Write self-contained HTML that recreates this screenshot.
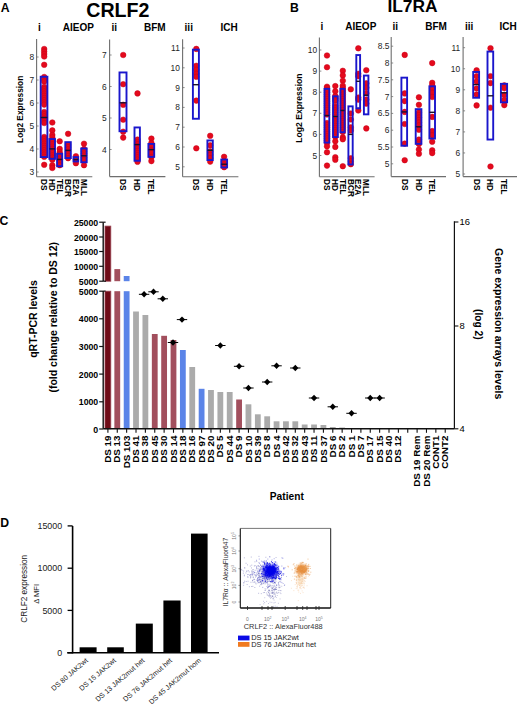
<!DOCTYPE html>
<html><head><meta charset="utf-8"><style>
html,body{margin:0;padding:0;background:#fff;}
body{width:520px;height:704px;overflow:hidden;font-family:"Liberation Sans",sans-serif;}
svg{display:block;}
</style></head><body>
<svg width="520" height="704" viewBox="0 0 520 704">
<defs><filter id="fb" x="-10%" y="-10%" width="120%" height="120%"><feGaussianBlur stdDeviation="0.8"/></filter><filter id="gb" x="0" y="0" width="520" height="704" filterUnits="userSpaceOnUse"><feGaussianBlur stdDeviation="0.75"/></filter></defs>
<rect width="520" height="704" fill="#fff"/>
<line x1="36.6" y1="39" x2="36.6" y2="176.7" stroke="#6e6e6e" stroke-width="1.1"/>
<line x1="36.6" y1="176.7" x2="92.3" y2="176.7" stroke="#6e6e6e" stroke-width="1.1"/>
<line x1="36.6" y1="172.00" x2="38.6" y2="172.00" stroke="#6e6e6e" stroke-width="0.8"/>
<text x="34.20" y="175.05" font-size="8.4" font-family="Liberation Sans, sans-serif" text-anchor="end" fill="#1e1e1e" >3</text>
<line x1="36.6" y1="149.00" x2="38.6" y2="149.00" stroke="#6e6e6e" stroke-width="0.8"/>
<text x="34.20" y="152.05" font-size="8.4" font-family="Liberation Sans, sans-serif" text-anchor="end" fill="#1e1e1e" >4</text>
<line x1="36.6" y1="126.00" x2="38.6" y2="126.00" stroke="#6e6e6e" stroke-width="0.8"/>
<text x="34.20" y="129.05" font-size="8.4" font-family="Liberation Sans, sans-serif" text-anchor="end" fill="#1e1e1e" >5</text>
<line x1="36.6" y1="103.00" x2="38.6" y2="103.00" stroke="#6e6e6e" stroke-width="0.8"/>
<text x="34.20" y="106.05" font-size="8.4" font-family="Liberation Sans, sans-serif" text-anchor="end" fill="#1e1e1e" >6</text>
<line x1="36.6" y1="80.00" x2="38.6" y2="80.00" stroke="#6e6e6e" stroke-width="0.8"/>
<text x="34.20" y="83.05" font-size="8.4" font-family="Liberation Sans, sans-serif" text-anchor="end" fill="#1e1e1e" >7</text>
<line x1="36.6" y1="57.00" x2="38.6" y2="57.00" stroke="#6e6e6e" stroke-width="0.8"/>
<text x="34.20" y="60.05" font-size="8.4" font-family="Liberation Sans, sans-serif" text-anchor="end" fill="#1e1e1e" >8</text>
<circle cx="44.20" cy="49.00" r="2.8" fill="#e40a1c" stroke="#c8001a" stroke-width="0.5"/>
<circle cx="44.20" cy="51.50" r="2.8" fill="#e40a1c" stroke="#c8001a" stroke-width="0.5"/>
<circle cx="44.20" cy="54.00" r="2.8" fill="#e40a1c" stroke="#c8001a" stroke-width="0.5"/>
<circle cx="44.20" cy="56.50" r="2.8" fill="#e40a1c" stroke="#c8001a" stroke-width="0.5"/>
<circle cx="44.20" cy="64.80" r="2.8" fill="#e40a1c" stroke="#c8001a" stroke-width="0.5"/>
<circle cx="44.20" cy="77.00" r="2.8" fill="#e40a1c" stroke="#c8001a" stroke-width="0.5"/>
<circle cx="44.20" cy="79.20" r="2.8" fill="#e40a1c" stroke="#c8001a" stroke-width="0.5"/>
<circle cx="44.20" cy="81.40" r="2.8" fill="#e40a1c" stroke="#c8001a" stroke-width="0.5"/>
<circle cx="44.20" cy="87.00" r="2.8" fill="#e40a1c" stroke="#c8001a" stroke-width="0.5"/>
<circle cx="44.20" cy="89.20" r="2.8" fill="#e40a1c" stroke="#c8001a" stroke-width="0.5"/>
<circle cx="44.20" cy="91.40" r="2.8" fill="#e40a1c" stroke="#c8001a" stroke-width="0.5"/>
<circle cx="44.20" cy="93.60" r="2.8" fill="#e40a1c" stroke="#c8001a" stroke-width="0.5"/>
<circle cx="44.20" cy="95.80" r="2.8" fill="#e40a1c" stroke="#c8001a" stroke-width="0.5"/>
<circle cx="44.20" cy="98.00" r="2.8" fill="#e40a1c" stroke="#c8001a" stroke-width="0.5"/>
<circle cx="44.20" cy="100.20" r="2.8" fill="#e40a1c" stroke="#c8001a" stroke-width="0.5"/>
<circle cx="44.20" cy="102.40" r="2.8" fill="#e40a1c" stroke="#c8001a" stroke-width="0.5"/>
<circle cx="44.20" cy="104.60" r="2.8" fill="#e40a1c" stroke="#c8001a" stroke-width="0.5"/>
<circle cx="44.20" cy="112.00" r="2.8" fill="#e40a1c" stroke="#c8001a" stroke-width="0.5"/>
<circle cx="44.20" cy="114.20" r="2.8" fill="#e40a1c" stroke="#c8001a" stroke-width="0.5"/>
<circle cx="44.20" cy="116.40" r="2.8" fill="#e40a1c" stroke="#c8001a" stroke-width="0.5"/>
<circle cx="44.20" cy="118.60" r="2.8" fill="#e40a1c" stroke="#c8001a" stroke-width="0.5"/>
<circle cx="44.20" cy="120.80" r="2.8" fill="#e40a1c" stroke="#c8001a" stroke-width="0.5"/>
<circle cx="44.20" cy="123.00" r="2.8" fill="#e40a1c" stroke="#c8001a" stroke-width="0.5"/>
<circle cx="44.20" cy="137.00" r="2.8" fill="#e40a1c" stroke="#c8001a" stroke-width="0.5"/>
<circle cx="44.20" cy="139.20" r="2.8" fill="#e40a1c" stroke="#c8001a" stroke-width="0.5"/>
<circle cx="44.20" cy="141.40" r="2.8" fill="#e40a1c" stroke="#c8001a" stroke-width="0.5"/>
<circle cx="44.20" cy="143.60" r="2.8" fill="#e40a1c" stroke="#c8001a" stroke-width="0.5"/>
<circle cx="44.20" cy="145.80" r="2.8" fill="#e40a1c" stroke="#c8001a" stroke-width="0.5"/>
<circle cx="44.20" cy="148.00" r="2.8" fill="#e40a1c" stroke="#c8001a" stroke-width="0.5"/>
<circle cx="44.20" cy="150.20" r="2.8" fill="#e40a1c" stroke="#c8001a" stroke-width="0.5"/>
<circle cx="44.20" cy="152.40" r="2.8" fill="#e40a1c" stroke="#c8001a" stroke-width="0.5"/>
<circle cx="44.20" cy="154.60" r="2.8" fill="#e40a1c" stroke="#c8001a" stroke-width="0.5"/>
<circle cx="44.20" cy="156.80" r="2.8" fill="#e40a1c" stroke="#c8001a" stroke-width="0.5"/>
<circle cx="44.20" cy="164.80" r="2.8" fill="#e40a1c" stroke="#c8001a" stroke-width="0.5"/>
<rect x="40.70" y="76.75" width="6.70" height="80.30" fill="none" stroke="#1a16cc" stroke-width="1.9"/>
<line x1="40.70" y1="117.50" x2="47.40" y2="117.50" stroke="#1a1030" stroke-width="1.4"/>
<text x="41.10" y="179.00" font-size="8.3" font-family="Liberation Sans, sans-serif" font-weight="bold" text-anchor="start" fill="#000" transform="rotate(90 41.1 179.0)" >DS</text>
<circle cx="52.30" cy="122.50" r="2.8" fill="#e40a1c" stroke="#c8001a" stroke-width="0.5"/>
<circle cx="52.30" cy="130.40" r="2.8" fill="#e40a1c" stroke="#c8001a" stroke-width="0.5"/>
<circle cx="52.30" cy="135.00" r="2.8" fill="#e40a1c" stroke="#c8001a" stroke-width="0.5"/>
<circle cx="52.30" cy="137.40" r="2.8" fill="#e40a1c" stroke="#c8001a" stroke-width="0.5"/>
<circle cx="52.30" cy="140.00" r="2.8" fill="#e40a1c" stroke="#c8001a" stroke-width="0.5"/>
<circle cx="52.30" cy="142.20" r="2.8" fill="#e40a1c" stroke="#c8001a" stroke-width="0.5"/>
<circle cx="52.30" cy="144.40" r="2.8" fill="#e40a1c" stroke="#c8001a" stroke-width="0.5"/>
<circle cx="52.30" cy="146.60" r="2.8" fill="#e40a1c" stroke="#c8001a" stroke-width="0.5"/>
<circle cx="52.30" cy="148.80" r="2.8" fill="#e40a1c" stroke="#c8001a" stroke-width="0.5"/>
<circle cx="52.30" cy="151.00" r="2.8" fill="#e40a1c" stroke="#c8001a" stroke-width="0.5"/>
<circle cx="52.30" cy="153.20" r="2.8" fill="#e40a1c" stroke="#c8001a" stroke-width="0.5"/>
<circle cx="52.30" cy="155.40" r="2.8" fill="#e40a1c" stroke="#c8001a" stroke-width="0.5"/>
<circle cx="52.30" cy="157.60" r="2.8" fill="#e40a1c" stroke="#c8001a" stroke-width="0.5"/>
<circle cx="52.30" cy="159.80" r="2.8" fill="#e40a1c" stroke="#c8001a" stroke-width="0.5"/>
<circle cx="52.30" cy="165.20" r="2.8" fill="#e40a1c" stroke="#c8001a" stroke-width="0.5"/>
<circle cx="52.30" cy="168.00" r="2.8" fill="#e40a1c" stroke="#c8001a" stroke-width="0.5"/>
<rect x="49.40" y="139.05" width="5.60" height="19.80" fill="none" stroke="#1a16cc" stroke-width="1.9"/>
<line x1="49.40" y1="148.90" x2="55.00" y2="148.90" stroke="#1a1030" stroke-width="1.4"/>
<text x="49.20" y="179.00" font-size="8.3" font-family="Liberation Sans, sans-serif" font-weight="bold" text-anchor="start" fill="#000" transform="rotate(90 49.199999999999996 179.0)" >HD</text>
<circle cx="59.70" cy="141.30" r="2.8" fill="#e40a1c" stroke="#c8001a" stroke-width="0.5"/>
<circle cx="59.70" cy="148.90" r="2.8" fill="#e40a1c" stroke="#c8001a" stroke-width="0.5"/>
<circle cx="59.70" cy="152.00" r="2.8" fill="#e40a1c" stroke="#c8001a" stroke-width="0.5"/>
<circle cx="59.70" cy="154.20" r="2.8" fill="#e40a1c" stroke="#c8001a" stroke-width="0.5"/>
<circle cx="59.70" cy="156.40" r="2.8" fill="#e40a1c" stroke="#c8001a" stroke-width="0.5"/>
<circle cx="59.70" cy="158.60" r="2.8" fill="#e40a1c" stroke="#c8001a" stroke-width="0.5"/>
<circle cx="59.70" cy="160.80" r="2.8" fill="#e40a1c" stroke="#c8001a" stroke-width="0.5"/>
<circle cx="59.70" cy="163.00" r="2.8" fill="#e40a1c" stroke="#c8001a" stroke-width="0.5"/>
<circle cx="59.70" cy="165.20" r="2.8" fill="#e40a1c" stroke="#c8001a" stroke-width="0.5"/>
<rect x="57.10" y="153.75" width="5.10" height="12.50" fill="none" stroke="#1a16cc" stroke-width="1.9"/>
<line x1="57.10" y1="159.40" x2="62.20" y2="159.40" stroke="#1a1030" stroke-width="1.4"/>
<text x="56.60" y="179.00" font-size="8.3" font-family="Liberation Sans, sans-serif" font-weight="bold" text-anchor="start" fill="#000" transform="rotate(90 56.6 179.0)" >TEL</text>
<circle cx="68.10" cy="133.80" r="2.8" fill="#e40a1c" stroke="#c8001a" stroke-width="0.5"/>
<circle cx="68.10" cy="145.00" r="2.8" fill="#e40a1c" stroke="#c8001a" stroke-width="0.5"/>
<circle cx="68.10" cy="147.20" r="2.8" fill="#e40a1c" stroke="#c8001a" stroke-width="0.5"/>
<circle cx="68.10" cy="149.40" r="2.8" fill="#e40a1c" stroke="#c8001a" stroke-width="0.5"/>
<circle cx="68.10" cy="151.60" r="2.8" fill="#e40a1c" stroke="#c8001a" stroke-width="0.5"/>
<circle cx="68.10" cy="153.80" r="2.8" fill="#e40a1c" stroke="#c8001a" stroke-width="0.5"/>
<circle cx="68.10" cy="156.00" r="2.8" fill="#e40a1c" stroke="#c8001a" stroke-width="0.5"/>
<circle cx="68.10" cy="158.20" r="2.8" fill="#e40a1c" stroke="#c8001a" stroke-width="0.5"/>
<rect x="65.30" y="142.15" width="5.50" height="15.90" fill="none" stroke="#1a16cc" stroke-width="1.9"/>
<line x1="65.30" y1="150.40" x2="70.80" y2="150.40" stroke="#1a1030" stroke-width="1.4"/>
<text x="65.00" y="179.00" font-size="8.3" font-family="Liberation Sans, sans-serif" font-weight="bold" text-anchor="start" fill="#000" transform="rotate(90 65.0 179.0)" >BCR</text>
<circle cx="75.90" cy="156.20" r="2.8" fill="#e40a1c" stroke="#c8001a" stroke-width="0.5"/>
<circle cx="75.90" cy="159.50" r="2.8" fill="#e40a1c" stroke="#c8001a" stroke-width="0.5"/>
<circle cx="75.90" cy="163.20" r="2.8" fill="#e40a1c" stroke="#c8001a" stroke-width="0.5"/>
<rect x="73.50" y="157.15" width="4.70" height="4.30" fill="none" stroke="#1a16cc" stroke-width="1.9"/>
<line x1="73.50" y1="159.50" x2="78.20" y2="159.50" stroke="#1a1030" stroke-width="1.4"/>
<text x="72.80" y="179.00" font-size="8.3" font-family="Liberation Sans, sans-serif" font-weight="bold" text-anchor="start" fill="#000" transform="rotate(90 72.80000000000001 179.0)" >E2A</text>
<circle cx="84.00" cy="143.70" r="2.8" fill="#e40a1c" stroke="#c8001a" stroke-width="0.5"/>
<circle cx="84.00" cy="149.00" r="2.8" fill="#e40a1c" stroke="#c8001a" stroke-width="0.5"/>
<circle cx="84.00" cy="151.20" r="2.8" fill="#e40a1c" stroke="#c8001a" stroke-width="0.5"/>
<circle cx="84.00" cy="153.40" r="2.8" fill="#e40a1c" stroke="#c8001a" stroke-width="0.5"/>
<circle cx="84.00" cy="155.60" r="2.8" fill="#e40a1c" stroke="#c8001a" stroke-width="0.5"/>
<circle cx="84.00" cy="157.80" r="2.8" fill="#e40a1c" stroke="#c8001a" stroke-width="0.5"/>
<circle cx="84.00" cy="160.00" r="2.8" fill="#e40a1c" stroke="#c8001a" stroke-width="0.5"/>
<circle cx="84.00" cy="165.20" r="2.8" fill="#e40a1c" stroke="#c8001a" stroke-width="0.5"/>
<rect x="81.20" y="148.45" width="5.50" height="13.80" fill="none" stroke="#1a16cc" stroke-width="1.9"/>
<line x1="81.20" y1="155.80" x2="86.70" y2="155.80" stroke="#1a1030" stroke-width="1.4"/>
<text x="80.90" y="179.00" font-size="8.3" font-family="Liberation Sans, sans-serif" font-weight="bold" text-anchor="start" fill="#000" transform="rotate(90 80.9 179.0)" >MLL</text>
<line x1="109.6" y1="39.5" x2="109.6" y2="176.6" stroke="#6e6e6e" stroke-width="1.1"/>
<line x1="109.6" y1="176.6" x2="165.4" y2="176.6" stroke="#6e6e6e" stroke-width="1.1"/>
<line x1="109.6" y1="149.50" x2="111.6" y2="149.50" stroke="#6e6e6e" stroke-width="0.8"/>
<text x="106.60" y="152.55" font-size="8.4" font-family="Liberation Sans, sans-serif" text-anchor="end" fill="#1e1e1e" >4</text>
<line x1="109.6" y1="118.00" x2="111.6" y2="118.00" stroke="#6e6e6e" stroke-width="0.8"/>
<text x="106.60" y="121.05" font-size="8.4" font-family="Liberation Sans, sans-serif" text-anchor="end" fill="#1e1e1e" >5</text>
<line x1="109.6" y1="86.50" x2="111.6" y2="86.50" stroke="#6e6e6e" stroke-width="0.8"/>
<text x="106.60" y="89.55" font-size="8.4" font-family="Liberation Sans, sans-serif" text-anchor="end" fill="#1e1e1e" >6</text>
<line x1="109.6" y1="55.00" x2="111.6" y2="55.00" stroke="#6e6e6e" stroke-width="0.8"/>
<text x="106.60" y="58.05" font-size="8.4" font-family="Liberation Sans, sans-serif" text-anchor="end" fill="#1e1e1e" >7</text>
<circle cx="123.20" cy="55.00" r="2.8" fill="#e40a1c" stroke="#c8001a" stroke-width="0.5"/>
<circle cx="123.20" cy="84.20" r="2.8" fill="#e40a1c" stroke="#c8001a" stroke-width="0.5"/>
<circle cx="123.20" cy="104.80" r="2.8" fill="#e40a1c" stroke="#c8001a" stroke-width="0.5"/>
<circle cx="123.20" cy="119.70" r="2.8" fill="#e40a1c" stroke="#c8001a" stroke-width="0.5"/>
<circle cx="123.20" cy="131.70" r="2.8" fill="#e40a1c" stroke="#c8001a" stroke-width="0.5"/>
<circle cx="123.20" cy="137.60" r="2.8" fill="#e40a1c" stroke="#c8001a" stroke-width="0.5"/>
<rect x="119.50" y="72.45" width="7.00" height="58.80" fill="none" stroke="#1a16cc" stroke-width="1.9"/>
<line x1="119.50" y1="102.80" x2="126.50" y2="102.80" stroke="#1a1030" stroke-width="1.4"/>
<text x="120.10" y="179.00" font-size="8.3" font-family="Liberation Sans, sans-serif" font-weight="bold" text-anchor="start" fill="#000" transform="rotate(90 120.10000000000001 179.0)" >DS</text>
<circle cx="137.50" cy="93.40" r="2.8" fill="#e40a1c" stroke="#c8001a" stroke-width="0.5"/>
<circle cx="137.50" cy="139.60" r="2.8" fill="#e40a1c" stroke="#c8001a" stroke-width="0.5"/>
<circle cx="137.50" cy="142.00" r="2.8" fill="#e40a1c" stroke="#c8001a" stroke-width="0.5"/>
<circle cx="137.50" cy="144.20" r="2.8" fill="#e40a1c" stroke="#c8001a" stroke-width="0.5"/>
<circle cx="137.50" cy="146.40" r="2.8" fill="#e40a1c" stroke="#c8001a" stroke-width="0.5"/>
<circle cx="137.50" cy="148.60" r="2.8" fill="#e40a1c" stroke="#c8001a" stroke-width="0.5"/>
<circle cx="137.50" cy="150.80" r="2.8" fill="#e40a1c" stroke="#c8001a" stroke-width="0.5"/>
<circle cx="137.50" cy="153.00" r="2.8" fill="#e40a1c" stroke="#c8001a" stroke-width="0.5"/>
<circle cx="137.50" cy="155.20" r="2.8" fill="#e40a1c" stroke="#c8001a" stroke-width="0.5"/>
<circle cx="137.50" cy="157.40" r="2.8" fill="#e40a1c" stroke="#c8001a" stroke-width="0.5"/>
<circle cx="137.50" cy="159.60" r="2.8" fill="#e40a1c" stroke="#c8001a" stroke-width="0.5"/>
<circle cx="137.50" cy="161.80" r="2.8" fill="#e40a1c" stroke="#c8001a" stroke-width="0.5"/>
<rect x="134.50" y="127.45" width="5.40" height="33.30" fill="none" stroke="#1a16cc" stroke-width="1.9"/>
<line x1="134.50" y1="144.60" x2="139.90" y2="144.60" stroke="#1a1030" stroke-width="1.4"/>
<text x="134.40" y="179.00" font-size="8.3" font-family="Liberation Sans, sans-serif" font-weight="bold" text-anchor="start" fill="#000" transform="rotate(90 134.4 179.0)" >HD</text>
<circle cx="151.40" cy="138.60" r="2.8" fill="#e40a1c" stroke="#c8001a" stroke-width="0.5"/>
<circle cx="151.40" cy="143.00" r="2.8" fill="#e40a1c" stroke="#c8001a" stroke-width="0.5"/>
<circle cx="151.40" cy="146.60" r="2.8" fill="#e40a1c" stroke="#c8001a" stroke-width="0.5"/>
<circle cx="151.40" cy="150.00" r="2.8" fill="#e40a1c" stroke="#c8001a" stroke-width="0.5"/>
<circle cx="151.40" cy="153.20" r="2.8" fill="#e40a1c" stroke="#c8001a" stroke-width="0.5"/>
<circle cx="151.40" cy="157.00" r="2.8" fill="#e40a1c" stroke="#c8001a" stroke-width="0.5"/>
<circle cx="151.40" cy="161.10" r="2.8" fill="#e40a1c" stroke="#c8001a" stroke-width="0.5"/>
<rect x="148.40" y="143.95" width="5.80" height="12.90" fill="none" stroke="#1a16cc" stroke-width="1.9"/>
<line x1="148.40" y1="149.60" x2="154.20" y2="149.60" stroke="#1a1030" stroke-width="1.4"/>
<text x="148.30" y="179.00" font-size="8.3" font-family="Liberation Sans, sans-serif" font-weight="bold" text-anchor="start" fill="#000" transform="rotate(90 148.3 179.0)" >TEL</text>
<line x1="182.6" y1="39.2" x2="182.6" y2="176.7" stroke="#6e6e6e" stroke-width="1.1"/>
<line x1="182.6" y1="176.7" x2="238.4" y2="176.7" stroke="#6e6e6e" stroke-width="1.1"/>
<line x1="182.6" y1="166.80" x2="184.6" y2="166.80" stroke="#6e6e6e" stroke-width="0.8"/>
<text x="179.80" y="169.85" font-size="8.4" font-family="Liberation Sans, sans-serif" text-anchor="end" fill="#1e1e1e" >5</text>
<line x1="182.6" y1="147.00" x2="184.6" y2="147.00" stroke="#6e6e6e" stroke-width="0.8"/>
<text x="179.80" y="150.05" font-size="8.4" font-family="Liberation Sans, sans-serif" text-anchor="end" fill="#1e1e1e" >6</text>
<line x1="182.6" y1="127.20" x2="184.6" y2="127.20" stroke="#6e6e6e" stroke-width="0.8"/>
<text x="179.80" y="130.25" font-size="8.4" font-family="Liberation Sans, sans-serif" text-anchor="end" fill="#1e1e1e" >7</text>
<line x1="182.6" y1="107.40" x2="184.6" y2="107.40" stroke="#6e6e6e" stroke-width="0.8"/>
<text x="179.80" y="110.45" font-size="8.4" font-family="Liberation Sans, sans-serif" text-anchor="end" fill="#1e1e1e" >8</text>
<line x1="182.6" y1="87.60" x2="184.6" y2="87.60" stroke="#6e6e6e" stroke-width="0.8"/>
<text x="179.80" y="90.65" font-size="8.4" font-family="Liberation Sans, sans-serif" text-anchor="end" fill="#1e1e1e" >9</text>
<line x1="182.6" y1="67.80" x2="184.6" y2="67.80" stroke="#6e6e6e" stroke-width="0.8"/>
<text x="179.80" y="70.85" font-size="8.4" font-family="Liberation Sans, sans-serif" text-anchor="end" fill="#1e1e1e" >10</text>
<line x1="182.6" y1="48.00" x2="184.6" y2="48.00" stroke="#6e6e6e" stroke-width="0.8"/>
<text x="179.80" y="51.05" font-size="8.4" font-family="Liberation Sans, sans-serif" text-anchor="end" fill="#1e1e1e" >11</text>
<circle cx="196.30" cy="48.90" r="2.8" fill="#e40a1c" stroke="#c8001a" stroke-width="0.5"/>
<circle cx="196.30" cy="65.80" r="2.8" fill="#e40a1c" stroke="#c8001a" stroke-width="0.5"/>
<circle cx="196.30" cy="69.80" r="2.8" fill="#e40a1c" stroke="#c8001a" stroke-width="0.5"/>
<circle cx="196.30" cy="73.80" r="2.8" fill="#e40a1c" stroke="#c8001a" stroke-width="0.5"/>
<circle cx="196.30" cy="76.80" r="2.8" fill="#e40a1c" stroke="#c8001a" stroke-width="0.5"/>
<circle cx="196.30" cy="100.60" r="2.8" fill="#e40a1c" stroke="#c8001a" stroke-width="0.5"/>
<circle cx="196.30" cy="148.30" r="2.8" fill="#e40a1c" stroke="#c8001a" stroke-width="0.5"/>
<rect x="192.90" y="49.65" width="6.00" height="69.10" fill="none" stroke="#1a16cc" stroke-width="1.9"/>
<line x1="192.90" y1="84.70" x2="198.90" y2="84.70" stroke="#1a1030" stroke-width="1.4"/>
<text x="193.20" y="179.00" font-size="8.3" font-family="Liberation Sans, sans-serif" font-weight="bold" text-anchor="start" fill="#000" transform="rotate(90 193.20000000000002 179.0)" >DS</text>
<circle cx="210.20" cy="135.80" r="2.8" fill="#e40a1c" stroke="#c8001a" stroke-width="0.5"/>
<circle cx="210.20" cy="145.30" r="2.8" fill="#e40a1c" stroke="#c8001a" stroke-width="0.5"/>
<circle cx="210.20" cy="151.30" r="2.8" fill="#e40a1c" stroke="#c8001a" stroke-width="0.5"/>
<circle cx="210.20" cy="154.80" r="2.8" fill="#e40a1c" stroke="#c8001a" stroke-width="0.5"/>
<circle cx="210.20" cy="158.20" r="2.8" fill="#e40a1c" stroke="#c8001a" stroke-width="0.5"/>
<circle cx="210.20" cy="161.60" r="2.8" fill="#e40a1c" stroke="#c8001a" stroke-width="0.5"/>
<rect x="207.40" y="140.45" width="5.40" height="19.60" fill="none" stroke="#1a16cc" stroke-width="1.9"/>
<line x1="207.40" y1="150.30" x2="212.80" y2="150.30" stroke="#1a1030" stroke-width="1.4"/>
<text x="207.10" y="179.00" font-size="8.3" font-family="Liberation Sans, sans-serif" font-weight="bold" text-anchor="start" fill="#000" transform="rotate(90 207.1 179.0)" >HD</text>
<circle cx="224.10" cy="156.80" r="2.8" fill="#e40a1c" stroke="#c8001a" stroke-width="0.5"/>
<circle cx="224.10" cy="161.60" r="2.8" fill="#e40a1c" stroke="#c8001a" stroke-width="0.5"/>
<circle cx="224.10" cy="164.50" r="2.8" fill="#e40a1c" stroke="#c8001a" stroke-width="0.5"/>
<circle cx="224.10" cy="167.20" r="2.8" fill="#e40a1c" stroke="#c8001a" stroke-width="0.5"/>
<rect x="221.30" y="159.55" width="5.80" height="7.90" fill="none" stroke="#1a16cc" stroke-width="1.9"/>
<line x1="221.30" y1="164.20" x2="227.10" y2="164.20" stroke="#1a1030" stroke-width="1.4"/>
<text x="221.00" y="179.00" font-size="8.3" font-family="Liberation Sans, sans-serif" font-weight="bold" text-anchor="start" fill="#000" transform="rotate(90 221.0 179.0)" >TEL</text>
<line x1="319.4" y1="37.5" x2="319.4" y2="176.7" stroke="#6e6e6e" stroke-width="1.1"/>
<line x1="319.4" y1="176.7" x2="374.6" y2="176.7" stroke="#6e6e6e" stroke-width="1.1"/>
<line x1="319.4" y1="155.50" x2="321.4" y2="155.50" stroke="#6e6e6e" stroke-width="0.8"/>
<text x="317.20" y="158.55" font-size="8.4" font-family="Liberation Sans, sans-serif" text-anchor="end" fill="#1e1e1e" >5</text>
<line x1="319.4" y1="134.40" x2="321.4" y2="134.40" stroke="#6e6e6e" stroke-width="0.8"/>
<text x="317.20" y="137.45" font-size="8.4" font-family="Liberation Sans, sans-serif" text-anchor="end" fill="#1e1e1e" >6</text>
<line x1="319.4" y1="113.30" x2="321.4" y2="113.30" stroke="#6e6e6e" stroke-width="0.8"/>
<text x="317.20" y="116.35" font-size="8.4" font-family="Liberation Sans, sans-serif" text-anchor="end" fill="#1e1e1e" >7</text>
<line x1="319.4" y1="92.20" x2="321.4" y2="92.20" stroke="#6e6e6e" stroke-width="0.8"/>
<text x="317.20" y="95.25" font-size="8.4" font-family="Liberation Sans, sans-serif" text-anchor="end" fill="#1e1e1e" >8</text>
<line x1="319.4" y1="71.10" x2="321.4" y2="71.10" stroke="#6e6e6e" stroke-width="0.8"/>
<text x="317.20" y="74.15" font-size="8.4" font-family="Liberation Sans, sans-serif" text-anchor="end" fill="#1e1e1e" >9</text>
<line x1="319.4" y1="50.00" x2="321.4" y2="50.00" stroke="#6e6e6e" stroke-width="0.8"/>
<text x="317.20" y="53.05" font-size="8.4" font-family="Liberation Sans, sans-serif" text-anchor="end" fill="#1e1e1e" >10</text>
<circle cx="327.00" cy="55.50" r="2.8" fill="#e40a1c" stroke="#c8001a" stroke-width="0.5"/>
<circle cx="327.00" cy="67.20" r="2.8" fill="#e40a1c" stroke="#c8001a" stroke-width="0.5"/>
<circle cx="327.00" cy="86.70" r="2.8" fill="#e40a1c" stroke="#c8001a" stroke-width="0.5"/>
<circle cx="327.00" cy="88.00" r="2.8" fill="#e40a1c" stroke="#c8001a" stroke-width="0.5"/>
<circle cx="327.00" cy="90.20" r="2.8" fill="#e40a1c" stroke="#c8001a" stroke-width="0.5"/>
<circle cx="327.00" cy="92.40" r="2.8" fill="#e40a1c" stroke="#c8001a" stroke-width="0.5"/>
<circle cx="327.00" cy="94.60" r="2.8" fill="#e40a1c" stroke="#c8001a" stroke-width="0.5"/>
<circle cx="327.00" cy="96.80" r="2.8" fill="#e40a1c" stroke="#c8001a" stroke-width="0.5"/>
<circle cx="327.00" cy="99.00" r="2.8" fill="#e40a1c" stroke="#c8001a" stroke-width="0.5"/>
<circle cx="327.00" cy="101.20" r="2.8" fill="#e40a1c" stroke="#c8001a" stroke-width="0.5"/>
<circle cx="327.00" cy="103.40" r="2.8" fill="#e40a1c" stroke="#c8001a" stroke-width="0.5"/>
<circle cx="327.00" cy="105.60" r="2.8" fill="#e40a1c" stroke="#c8001a" stroke-width="0.5"/>
<circle cx="327.00" cy="107.80" r="2.8" fill="#e40a1c" stroke="#c8001a" stroke-width="0.5"/>
<circle cx="327.00" cy="110.00" r="2.8" fill="#e40a1c" stroke="#c8001a" stroke-width="0.5"/>
<circle cx="327.00" cy="112.20" r="2.8" fill="#e40a1c" stroke="#c8001a" stroke-width="0.5"/>
<circle cx="327.00" cy="114.40" r="2.8" fill="#e40a1c" stroke="#c8001a" stroke-width="0.5"/>
<circle cx="327.00" cy="123.00" r="2.8" fill="#e40a1c" stroke="#c8001a" stroke-width="0.5"/>
<circle cx="327.00" cy="125.20" r="2.8" fill="#e40a1c" stroke="#c8001a" stroke-width="0.5"/>
<circle cx="327.00" cy="127.40" r="2.8" fill="#e40a1c" stroke="#c8001a" stroke-width="0.5"/>
<circle cx="327.00" cy="129.60" r="2.8" fill="#e40a1c" stroke="#c8001a" stroke-width="0.5"/>
<circle cx="327.00" cy="131.80" r="2.8" fill="#e40a1c" stroke="#c8001a" stroke-width="0.5"/>
<circle cx="327.00" cy="134.00" r="2.8" fill="#e40a1c" stroke="#c8001a" stroke-width="0.5"/>
<circle cx="327.00" cy="136.20" r="2.8" fill="#e40a1c" stroke="#c8001a" stroke-width="0.5"/>
<circle cx="327.00" cy="138.40" r="2.8" fill="#e40a1c" stroke="#c8001a" stroke-width="0.5"/>
<circle cx="327.00" cy="140.60" r="2.8" fill="#e40a1c" stroke="#c8001a" stroke-width="0.5"/>
<circle cx="327.00" cy="142.80" r="2.8" fill="#e40a1c" stroke="#c8001a" stroke-width="0.5"/>
<circle cx="327.00" cy="146.30" r="2.8" fill="#e40a1c" stroke="#c8001a" stroke-width="0.5"/>
<circle cx="327.00" cy="152.30" r="2.8" fill="#e40a1c" stroke="#c8001a" stroke-width="0.5"/>
<circle cx="327.00" cy="165.60" r="2.8" fill="#e40a1c" stroke="#c8001a" stroke-width="0.5"/>
<rect x="324.50" y="88.85" width="4.80" height="53.70" fill="none" stroke="#1a16cc" stroke-width="1.9"/>
<line x1="324.50" y1="115.50" x2="329.30" y2="115.50" stroke="#1a1030" stroke-width="1.4"/>
<text x="323.90" y="179.00" font-size="8.3" font-family="Liberation Sans, sans-serif" font-weight="bold" text-anchor="start" fill="#000" transform="rotate(90 323.9 179.0)" >DS</text>
<circle cx="335.30" cy="86.10" r="2.8" fill="#e40a1c" stroke="#c8001a" stroke-width="0.5"/>
<circle cx="335.30" cy="91.30" r="2.8" fill="#e40a1c" stroke="#c8001a" stroke-width="0.5"/>
<circle cx="335.30" cy="96.00" r="2.8" fill="#e40a1c" stroke="#c8001a" stroke-width="0.5"/>
<circle cx="335.30" cy="98.20" r="2.8" fill="#e40a1c" stroke="#c8001a" stroke-width="0.5"/>
<circle cx="335.30" cy="100.40" r="2.8" fill="#e40a1c" stroke="#c8001a" stroke-width="0.5"/>
<circle cx="335.30" cy="106.00" r="2.8" fill="#e40a1c" stroke="#c8001a" stroke-width="0.5"/>
<circle cx="335.30" cy="108.20" r="2.8" fill="#e40a1c" stroke="#c8001a" stroke-width="0.5"/>
<circle cx="335.30" cy="110.40" r="2.8" fill="#e40a1c" stroke="#c8001a" stroke-width="0.5"/>
<circle cx="335.30" cy="112.60" r="2.8" fill="#e40a1c" stroke="#c8001a" stroke-width="0.5"/>
<circle cx="335.30" cy="114.80" r="2.8" fill="#e40a1c" stroke="#c8001a" stroke-width="0.5"/>
<circle cx="335.30" cy="117.00" r="2.8" fill="#e40a1c" stroke="#c8001a" stroke-width="0.5"/>
<circle cx="335.30" cy="119.20" r="2.8" fill="#e40a1c" stroke="#c8001a" stroke-width="0.5"/>
<circle cx="335.30" cy="121.40" r="2.8" fill="#e40a1c" stroke="#c8001a" stroke-width="0.5"/>
<circle cx="335.30" cy="123.60" r="2.8" fill="#e40a1c" stroke="#c8001a" stroke-width="0.5"/>
<circle cx="335.30" cy="125.80" r="2.8" fill="#e40a1c" stroke="#c8001a" stroke-width="0.5"/>
<circle cx="335.30" cy="128.00" r="2.8" fill="#e40a1c" stroke="#c8001a" stroke-width="0.5"/>
<circle cx="335.30" cy="130.20" r="2.8" fill="#e40a1c" stroke="#c8001a" stroke-width="0.5"/>
<circle cx="335.30" cy="132.40" r="2.8" fill="#e40a1c" stroke="#c8001a" stroke-width="0.5"/>
<circle cx="335.30" cy="134.60" r="2.8" fill="#e40a1c" stroke="#c8001a" stroke-width="0.5"/>
<circle cx="335.30" cy="136.80" r="2.8" fill="#e40a1c" stroke="#c8001a" stroke-width="0.5"/>
<circle cx="335.30" cy="141.30" r="2.8" fill="#e40a1c" stroke="#c8001a" stroke-width="0.5"/>
<circle cx="335.30" cy="146.90" r="2.8" fill="#e40a1c" stroke="#c8001a" stroke-width="0.5"/>
<circle cx="335.30" cy="157.20" r="2.8" fill="#e40a1c" stroke="#c8001a" stroke-width="0.5"/>
<circle cx="335.30" cy="159.80" r="2.8" fill="#e40a1c" stroke="#c8001a" stroke-width="0.5"/>
<rect x="333.10" y="96.35" width="4.70" height="40.70" fill="none" stroke="#1a16cc" stroke-width="1.9"/>
<line x1="333.10" y1="116.50" x2="337.80" y2="116.50" stroke="#1a1030" stroke-width="1.4"/>
<text x="332.20" y="179.00" font-size="8.3" font-family="Liberation Sans, sans-serif" font-weight="bold" text-anchor="start" fill="#000" transform="rotate(90 332.2 179.0)" >HD</text>
<circle cx="342.80" cy="70.80" r="2.8" fill="#e40a1c" stroke="#c8001a" stroke-width="0.5"/>
<circle cx="342.80" cy="75.40" r="2.8" fill="#e40a1c" stroke="#c8001a" stroke-width="0.5"/>
<circle cx="342.80" cy="80.70" r="2.8" fill="#e40a1c" stroke="#c8001a" stroke-width="0.5"/>
<circle cx="342.80" cy="85.70" r="2.8" fill="#e40a1c" stroke="#c8001a" stroke-width="0.5"/>
<circle cx="342.80" cy="88.00" r="2.8" fill="#e40a1c" stroke="#c8001a" stroke-width="0.5"/>
<circle cx="342.80" cy="90.20" r="2.8" fill="#e40a1c" stroke="#c8001a" stroke-width="0.5"/>
<circle cx="342.80" cy="92.40" r="2.8" fill="#e40a1c" stroke="#c8001a" stroke-width="0.5"/>
<circle cx="342.80" cy="94.60" r="2.8" fill="#e40a1c" stroke="#c8001a" stroke-width="0.5"/>
<circle cx="342.80" cy="96.80" r="2.8" fill="#e40a1c" stroke="#c8001a" stroke-width="0.5"/>
<circle cx="342.80" cy="99.00" r="2.8" fill="#e40a1c" stroke="#c8001a" stroke-width="0.5"/>
<circle cx="342.80" cy="101.20" r="2.8" fill="#e40a1c" stroke="#c8001a" stroke-width="0.5"/>
<circle cx="342.80" cy="103.40" r="2.8" fill="#e40a1c" stroke="#c8001a" stroke-width="0.5"/>
<circle cx="342.80" cy="105.60" r="2.8" fill="#e40a1c" stroke="#c8001a" stroke-width="0.5"/>
<circle cx="342.80" cy="107.80" r="2.8" fill="#e40a1c" stroke="#c8001a" stroke-width="0.5"/>
<circle cx="342.80" cy="110.00" r="2.8" fill="#e40a1c" stroke="#c8001a" stroke-width="0.5"/>
<circle cx="342.80" cy="112.20" r="2.8" fill="#e40a1c" stroke="#c8001a" stroke-width="0.5"/>
<circle cx="342.80" cy="114.40" r="2.8" fill="#e40a1c" stroke="#c8001a" stroke-width="0.5"/>
<circle cx="342.80" cy="116.60" r="2.8" fill="#e40a1c" stroke="#c8001a" stroke-width="0.5"/>
<circle cx="342.80" cy="118.80" r="2.8" fill="#e40a1c" stroke="#c8001a" stroke-width="0.5"/>
<circle cx="342.80" cy="121.00" r="2.8" fill="#e40a1c" stroke="#c8001a" stroke-width="0.5"/>
<circle cx="342.80" cy="123.20" r="2.8" fill="#e40a1c" stroke="#c8001a" stroke-width="0.5"/>
<circle cx="342.80" cy="125.40" r="2.8" fill="#e40a1c" stroke="#c8001a" stroke-width="0.5"/>
<circle cx="342.80" cy="127.60" r="2.8" fill="#e40a1c" stroke="#c8001a" stroke-width="0.5"/>
<circle cx="342.80" cy="129.80" r="2.8" fill="#e40a1c" stroke="#c8001a" stroke-width="0.5"/>
<circle cx="342.80" cy="132.00" r="2.8" fill="#e40a1c" stroke="#c8001a" stroke-width="0.5"/>
<circle cx="342.80" cy="137.40" r="2.8" fill="#e40a1c" stroke="#c8001a" stroke-width="0.5"/>
<circle cx="342.80" cy="139.30" r="2.8" fill="#e40a1c" stroke="#c8001a" stroke-width="0.5"/>
<circle cx="342.80" cy="166.20" r="2.8" fill="#e40a1c" stroke="#c8001a" stroke-width="0.5"/>
<rect x="340.40" y="88.85" width="4.20" height="43.40" fill="none" stroke="#1a16cc" stroke-width="1.9"/>
<line x1="340.40" y1="110.50" x2="344.60" y2="110.50" stroke="#1a1030" stroke-width="1.4"/>
<text x="339.70" y="179.00" font-size="8.3" font-family="Liberation Sans, sans-serif" font-weight="bold" text-anchor="start" fill="#000" transform="rotate(90 339.7 179.0)" >TEL</text>
<circle cx="350.80" cy="89.30" r="2.8" fill="#e40a1c" stroke="#c8001a" stroke-width="0.5"/>
<circle cx="350.80" cy="113.50" r="2.8" fill="#e40a1c" stroke="#c8001a" stroke-width="0.5"/>
<circle cx="350.80" cy="119.50" r="2.8" fill="#e40a1c" stroke="#c8001a" stroke-width="0.5"/>
<circle cx="350.80" cy="127.40" r="2.8" fill="#e40a1c" stroke="#c8001a" stroke-width="0.5"/>
<circle cx="350.80" cy="130.40" r="2.8" fill="#e40a1c" stroke="#c8001a" stroke-width="0.5"/>
<circle cx="350.80" cy="158.20" r="2.8" fill="#e40a1c" stroke="#c8001a" stroke-width="0.5"/>
<circle cx="350.80" cy="161.20" r="2.8" fill="#e40a1c" stroke="#c8001a" stroke-width="0.5"/>
<circle cx="350.80" cy="164.20" r="2.8" fill="#e40a1c" stroke="#c8001a" stroke-width="0.5"/>
<rect x="348.40" y="106.35" width="4.30" height="58.10" fill="none" stroke="#1a16cc" stroke-width="1.9"/>
<line x1="348.40" y1="134.40" x2="352.70" y2="134.40" stroke="#1a1030" stroke-width="1.4"/>
<text x="347.70" y="179.00" font-size="8.3" font-family="Liberation Sans, sans-serif" font-weight="bold" text-anchor="start" fill="#000" transform="rotate(90 347.7 179.0)" >BCR</text>
<circle cx="358.30" cy="48.30" r="2.8" fill="#e40a1c" stroke="#c8001a" stroke-width="0.5"/>
<circle cx="358.30" cy="73.80" r="2.8" fill="#e40a1c" stroke="#c8001a" stroke-width="0.5"/>
<circle cx="358.30" cy="76.20" r="2.8" fill="#e40a1c" stroke="#c8001a" stroke-width="0.5"/>
<circle cx="358.30" cy="97.60" r="2.8" fill="#e40a1c" stroke="#c8001a" stroke-width="0.5"/>
<circle cx="358.30" cy="99.60" r="2.8" fill="#e40a1c" stroke="#c8001a" stroke-width="0.5"/>
<circle cx="358.30" cy="110.50" r="2.8" fill="#e40a1c" stroke="#c8001a" stroke-width="0.5"/>
<rect x="356.30" y="55.05" width="3.80" height="53.30" fill="none" stroke="#1a16cc" stroke-width="1.9"/>
<line x1="356.30" y1="81.30" x2="360.10" y2="81.30" stroke="#1a1030" stroke-width="1.4"/>
<text x="355.20" y="179.00" font-size="8.3" font-family="Liberation Sans, sans-serif" font-weight="bold" text-anchor="start" fill="#000" transform="rotate(90 355.2 179.0)" >E2A</text>
<circle cx="366.30" cy="70.20" r="2.8" fill="#e40a1c" stroke="#c8001a" stroke-width="0.5"/>
<circle cx="366.30" cy="83.30" r="2.8" fill="#e40a1c" stroke="#c8001a" stroke-width="0.5"/>
<circle cx="366.30" cy="87.70" r="2.8" fill="#e40a1c" stroke="#c8001a" stroke-width="0.5"/>
<circle cx="366.30" cy="93.20" r="2.8" fill="#e40a1c" stroke="#c8001a" stroke-width="0.5"/>
<circle cx="366.30" cy="99.60" r="2.8" fill="#e40a1c" stroke="#c8001a" stroke-width="0.5"/>
<circle cx="366.30" cy="103.60" r="2.8" fill="#e40a1c" stroke="#c8001a" stroke-width="0.5"/>
<circle cx="366.30" cy="128.40" r="2.8" fill="#e40a1c" stroke="#c8001a" stroke-width="0.5"/>
<rect x="363.90" y="75.55" width="4.50" height="38.80" fill="none" stroke="#1a16cc" stroke-width="1.9"/>
<line x1="363.90" y1="95.20" x2="368.40" y2="95.20" stroke="#1a1030" stroke-width="1.4"/>
<text x="363.20" y="179.00" font-size="8.3" font-family="Liberation Sans, sans-serif" font-weight="bold" text-anchor="start" fill="#000" transform="rotate(90 363.2 179.0)" >MLL</text>
<line x1="391.2" y1="36.9" x2="391.2" y2="176.6" stroke="#6e6e6e" stroke-width="1.1"/>
<line x1="391.2" y1="176.6" x2="446" y2="176.6" stroke="#6e6e6e" stroke-width="1.1"/>
<line x1="391.2" y1="163.80" x2="393.2" y2="163.80" stroke="#6e6e6e" stroke-width="0.8"/>
<text x="389.40" y="166.85" font-size="8.4" font-family="Liberation Sans, sans-serif" text-anchor="end" fill="#1e1e1e" >5</text>
<line x1="391.2" y1="147.00" x2="393.2" y2="147.00" stroke="#6e6e6e" stroke-width="0.8"/>
<text x="389.40" y="150.05" font-size="8.4" font-family="Liberation Sans, sans-serif" text-anchor="end" fill="#1e1e1e" >5.5</text>
<line x1="391.2" y1="130.20" x2="393.2" y2="130.20" stroke="#6e6e6e" stroke-width="0.8"/>
<text x="389.40" y="133.25" font-size="8.4" font-family="Liberation Sans, sans-serif" text-anchor="end" fill="#1e1e1e" >6</text>
<line x1="391.2" y1="113.40" x2="393.2" y2="113.40" stroke="#6e6e6e" stroke-width="0.8"/>
<text x="389.40" y="116.45" font-size="8.4" font-family="Liberation Sans, sans-serif" text-anchor="end" fill="#1e1e1e" >6.5</text>
<line x1="391.2" y1="96.60" x2="393.2" y2="96.60" stroke="#6e6e6e" stroke-width="0.8"/>
<text x="389.40" y="99.65" font-size="8.4" font-family="Liberation Sans, sans-serif" text-anchor="end" fill="#1e1e1e" >7</text>
<line x1="391.2" y1="79.80" x2="393.2" y2="79.80" stroke="#6e6e6e" stroke-width="0.8"/>
<text x="389.40" y="82.85" font-size="8.4" font-family="Liberation Sans, sans-serif" text-anchor="end" fill="#1e1e1e" >7.5</text>
<line x1="391.2" y1="63.00" x2="393.2" y2="63.00" stroke="#6e6e6e" stroke-width="0.8"/>
<text x="389.40" y="66.05" font-size="8.4" font-family="Liberation Sans, sans-serif" text-anchor="end" fill="#1e1e1e" >8</text>
<line x1="391.2" y1="46.20" x2="393.2" y2="46.20" stroke="#6e6e6e" stroke-width="0.8"/>
<text x="389.40" y="49.25" font-size="8.4" font-family="Liberation Sans, sans-serif" text-anchor="end" fill="#1e1e1e" >8.5</text>
<circle cx="404.70" cy="54.90" r="2.8" fill="#e40a1c" stroke="#c8001a" stroke-width="0.5"/>
<circle cx="404.70" cy="93.40" r="2.8" fill="#e40a1c" stroke="#c8001a" stroke-width="0.5"/>
<circle cx="404.70" cy="101.10" r="2.8" fill="#e40a1c" stroke="#c8001a" stroke-width="0.5"/>
<circle cx="404.70" cy="111.90" r="2.8" fill="#e40a1c" stroke="#c8001a" stroke-width="0.5"/>
<circle cx="404.70" cy="124.00" r="2.8" fill="#e40a1c" stroke="#c8001a" stroke-width="0.5"/>
<circle cx="404.70" cy="143.60" r="2.8" fill="#e40a1c" stroke="#c8001a" stroke-width="0.5"/>
<circle cx="404.70" cy="160.20" r="2.8" fill="#e40a1c" stroke="#c8001a" stroke-width="0.5"/>
<rect x="401.40" y="77.65" width="5.70" height="68.10" fill="none" stroke="#1a16cc" stroke-width="1.9"/>
<line x1="401.40" y1="111.90" x2="407.10" y2="111.90" stroke="#1a1030" stroke-width="1.4"/>
<text x="401.60" y="179.00" font-size="8.3" font-family="Liberation Sans, sans-serif" font-weight="bold" text-anchor="start" fill="#000" transform="rotate(90 401.59999999999997 179.0)" >DS</text>
<circle cx="418.90" cy="97.30" r="2.8" fill="#e40a1c" stroke="#c8001a" stroke-width="0.5"/>
<circle cx="418.90" cy="104.80" r="2.8" fill="#e40a1c" stroke="#c8001a" stroke-width="0.5"/>
<circle cx="418.90" cy="112.60" r="2.8" fill="#e40a1c" stroke="#c8001a" stroke-width="0.5"/>
<circle cx="418.90" cy="115.00" r="2.8" fill="#e40a1c" stroke="#c8001a" stroke-width="0.5"/>
<circle cx="418.90" cy="117.50" r="2.8" fill="#e40a1c" stroke="#c8001a" stroke-width="0.5"/>
<circle cx="418.90" cy="120.00" r="2.8" fill="#e40a1c" stroke="#c8001a" stroke-width="0.5"/>
<circle cx="418.90" cy="122.50" r="2.8" fill="#e40a1c" stroke="#c8001a" stroke-width="0.5"/>
<circle cx="418.90" cy="125.40" r="2.8" fill="#e40a1c" stroke="#c8001a" stroke-width="0.5"/>
<circle cx="418.90" cy="129.70" r="2.8" fill="#e40a1c" stroke="#c8001a" stroke-width="0.5"/>
<circle cx="418.90" cy="139.60" r="2.8" fill="#e40a1c" stroke="#c8001a" stroke-width="0.5"/>
<circle cx="418.90" cy="142.00" r="2.8" fill="#e40a1c" stroke="#c8001a" stroke-width="0.5"/>
<circle cx="418.90" cy="143.90" r="2.8" fill="#e40a1c" stroke="#c8001a" stroke-width="0.5"/>
<circle cx="418.90" cy="149.50" r="2.8" fill="#e40a1c" stroke="#c8001a" stroke-width="0.5"/>
<circle cx="418.90" cy="153.80" r="2.8" fill="#e40a1c" stroke="#c8001a" stroke-width="0.5"/>
<rect x="415.70" y="109.15" width="5.70" height="34.70" fill="none" stroke="#1a16cc" stroke-width="1.9"/>
<line x1="415.70" y1="126.80" x2="421.40" y2="126.80" stroke="#1a1030" stroke-width="1.4"/>
<text x="415.80" y="179.00" font-size="8.3" font-family="Liberation Sans, sans-serif" font-weight="bold" text-anchor="start" fill="#000" transform="rotate(90 415.79999999999995 179.0)" >HD</text>
<circle cx="432.20" cy="63.10" r="2.8" fill="#e40a1c" stroke="#c8001a" stroke-width="0.5"/>
<circle cx="432.20" cy="82.80" r="2.8" fill="#e40a1c" stroke="#c8001a" stroke-width="0.5"/>
<circle cx="432.20" cy="85.50" r="2.8" fill="#e40a1c" stroke="#c8001a" stroke-width="0.5"/>
<circle cx="432.20" cy="88.50" r="2.8" fill="#e40a1c" stroke="#c8001a" stroke-width="0.5"/>
<circle cx="432.20" cy="92.70" r="2.8" fill="#e40a1c" stroke="#c8001a" stroke-width="0.5"/>
<circle cx="432.20" cy="97.00" r="2.8" fill="#e40a1c" stroke="#c8001a" stroke-width="0.5"/>
<circle cx="432.20" cy="116.90" r="2.8" fill="#e40a1c" stroke="#c8001a" stroke-width="0.5"/>
<circle cx="432.20" cy="131.10" r="2.8" fill="#e40a1c" stroke="#c8001a" stroke-width="0.5"/>
<circle cx="432.20" cy="135.30" r="2.8" fill="#e40a1c" stroke="#c8001a" stroke-width="0.5"/>
<circle cx="432.20" cy="141.70" r="2.8" fill="#e40a1c" stroke="#c8001a" stroke-width="0.5"/>
<circle cx="432.20" cy="150.30" r="2.8" fill="#e40a1c" stroke="#c8001a" stroke-width="0.5"/>
<circle cx="432.20" cy="153.10" r="2.8" fill="#e40a1c" stroke="#c8001a" stroke-width="0.5"/>
<rect x="429.40" y="86.35" width="5.60" height="52.20" fill="none" stroke="#1a16cc" stroke-width="1.9"/>
<line x1="429.40" y1="112.30" x2="435.00" y2="112.30" stroke="#1a1030" stroke-width="1.4"/>
<text x="429.10" y="179.00" font-size="8.3" font-family="Liberation Sans, sans-serif" font-weight="bold" text-anchor="start" fill="#000" transform="rotate(90 429.09999999999997 179.0)" >TEL</text>
<line x1="463.1" y1="36.9" x2="463.1" y2="176.6" stroke="#6e6e6e" stroke-width="1.1"/>
<line x1="463.1" y1="176.6" x2="517" y2="176.6" stroke="#6e6e6e" stroke-width="1.1"/>
<line x1="463.1" y1="174.00" x2="465.1" y2="174.00" stroke="#6e6e6e" stroke-width="0.8"/>
<text x="460.20" y="177.05" font-size="8.4" font-family="Liberation Sans, sans-serif" text-anchor="end" fill="#1e1e1e" >5</text>
<line x1="463.1" y1="152.95" x2="465.1" y2="152.95" stroke="#6e6e6e" stroke-width="0.8"/>
<text x="460.20" y="156.00" font-size="8.4" font-family="Liberation Sans, sans-serif" text-anchor="end" fill="#1e1e1e" >6</text>
<line x1="463.1" y1="131.90" x2="465.1" y2="131.90" stroke="#6e6e6e" stroke-width="0.8"/>
<text x="460.20" y="134.95" font-size="8.4" font-family="Liberation Sans, sans-serif" text-anchor="end" fill="#1e1e1e" >7</text>
<line x1="463.1" y1="110.85" x2="465.1" y2="110.85" stroke="#6e6e6e" stroke-width="0.8"/>
<text x="460.20" y="113.90" font-size="8.4" font-family="Liberation Sans, sans-serif" text-anchor="end" fill="#1e1e1e" >8</text>
<line x1="463.1" y1="89.80" x2="465.1" y2="89.80" stroke="#6e6e6e" stroke-width="0.8"/>
<text x="460.20" y="92.85" font-size="8.4" font-family="Liberation Sans, sans-serif" text-anchor="end" fill="#1e1e1e" >9</text>
<line x1="463.1" y1="68.75" x2="465.1" y2="68.75" stroke="#6e6e6e" stroke-width="0.8"/>
<text x="460.20" y="71.80" font-size="8.4" font-family="Liberation Sans, sans-serif" text-anchor="end" fill="#1e1e1e" >10</text>
<line x1="463.1" y1="47.70" x2="465.1" y2="47.70" stroke="#6e6e6e" stroke-width="0.8"/>
<text x="460.20" y="50.75" font-size="8.4" font-family="Liberation Sans, sans-serif" text-anchor="end" fill="#1e1e1e" >11</text>
<circle cx="476.60" cy="70.30" r="2.8" fill="#e40a1c" stroke="#c8001a" stroke-width="0.5"/>
<circle cx="476.60" cy="76.20" r="2.8" fill="#e40a1c" stroke="#c8001a" stroke-width="0.5"/>
<circle cx="476.60" cy="81.50" r="2.8" fill="#e40a1c" stroke="#c8001a" stroke-width="0.5"/>
<circle cx="476.60" cy="88.50" r="2.8" fill="#e40a1c" stroke="#c8001a" stroke-width="0.5"/>
<circle cx="476.60" cy="94.60" r="2.8" fill="#e40a1c" stroke="#c8001a" stroke-width="0.5"/>
<circle cx="476.60" cy="105.40" r="2.8" fill="#e40a1c" stroke="#c8001a" stroke-width="0.5"/>
<rect x="473.20" y="71.95" width="5.90" height="25.80" fill="none" stroke="#1a16cc" stroke-width="1.9"/>
<line x1="473.20" y1="84.60" x2="479.10" y2="84.60" stroke="#1a1030" stroke-width="1.4"/>
<text x="473.50" y="179.00" font-size="8.3" font-family="Liberation Sans, sans-serif" font-weight="bold" text-anchor="start" fill="#000" transform="rotate(90 473.5 179.0)" >DS</text>
<circle cx="490.50" cy="48.20" r="2.8" fill="#e40a1c" stroke="#c8001a" stroke-width="0.5"/>
<circle cx="490.50" cy="76.20" r="2.8" fill="#e40a1c" stroke="#c8001a" stroke-width="0.5"/>
<circle cx="490.50" cy="83.10" r="2.8" fill="#e40a1c" stroke="#c8001a" stroke-width="0.5"/>
<circle cx="490.50" cy="107.70" r="2.8" fill="#e40a1c" stroke="#c8001a" stroke-width="0.5"/>
<circle cx="490.50" cy="166.50" r="2.8" fill="#e40a1c" stroke="#c8001a" stroke-width="0.5"/>
<rect x="487.50" y="51.55" width="5.70" height="88.00" fill="none" stroke="#1a16cc" stroke-width="1.9"/>
<line x1="487.50" y1="95.80" x2="493.20" y2="95.80" stroke="#1a1030" stroke-width="1.4"/>
<text x="487.40" y="179.00" font-size="8.3" font-family="Liberation Sans, sans-serif" font-weight="bold" text-anchor="start" fill="#000" transform="rotate(90 487.4 179.0)" >HD</text>
<circle cx="504.30" cy="85.40" r="2.8" fill="#e40a1c" stroke="#c8001a" stroke-width="0.5"/>
<circle cx="504.30" cy="88.20" r="2.8" fill="#e40a1c" stroke="#c8001a" stroke-width="0.5"/>
<circle cx="504.30" cy="95.00" r="2.8" fill="#e40a1c" stroke="#c8001a" stroke-width="0.5"/>
<circle cx="504.30" cy="100.00" r="2.8" fill="#e40a1c" stroke="#c8001a" stroke-width="0.5"/>
<circle cx="504.30" cy="105.10" r="2.8" fill="#e40a1c" stroke="#c8001a" stroke-width="0.5"/>
<rect x="500.90" y="83.85" width="6.20" height="18.50" fill="none" stroke="#1a16cc" stroke-width="1.9"/>
<line x1="500.90" y1="92.80" x2="507.10" y2="92.80" stroke="#1a1030" stroke-width="1.4"/>
<text x="501.20" y="179.00" font-size="8.3" font-family="Liberation Sans, sans-serif" font-weight="bold" text-anchor="start" fill="#000" transform="rotate(90 501.2 179.0)" >TEL</text>
<text transform="translate(0.7 12.4) scale(0.9 1)" font-size="13.6" font-family="Liberation Sans, sans-serif" font-weight="bold">A</text>
<text x="86.30" y="17.20" font-size="19.6" font-family="Liberation Sans, sans-serif" font-weight="bold" text-anchor="start" fill="#000" >CRLF2</text>
<text x="38.00" y="30.60" font-size="10" font-family="Liberation Sans, sans-serif" font-weight="bold" text-anchor="start" fill="#000" >i</text>
<text x="62.80" y="30.60" font-size="10" font-family="Liberation Sans, sans-serif" font-weight="bold" text-anchor="start" fill="#000" >AIEOP</text>
<text x="111.60" y="30.60" font-size="10" font-family="Liberation Sans, sans-serif" font-weight="bold" text-anchor="start" fill="#000" >ii</text>
<text x="144.00" y="30.60" font-size="10" font-family="Liberation Sans, sans-serif" font-weight="bold" text-anchor="start" fill="#000" >BFM</text>
<text x="184.60" y="30.60" font-size="10" font-family="Liberation Sans, sans-serif" font-weight="bold" text-anchor="start" fill="#000" >iii</text>
<text x="220.40" y="30.60" font-size="10" font-family="Liberation Sans, sans-serif" font-weight="bold" text-anchor="start" fill="#000" >ICH</text>
<text transform="translate(289.9 12.3) scale(0.9 1)" font-size="13.6" font-family="Liberation Sans, sans-serif" font-weight="bold">B</text>
<text x="387.40" y="12.40" font-size="17.4" font-family="Liberation Sans, sans-serif" font-weight="bold" text-anchor="start" fill="#000" >IL7RA</text>
<text x="320.60" y="30.20" font-size="10" font-family="Liberation Sans, sans-serif" font-weight="bold" text-anchor="start" fill="#000" >i</text>
<text x="345.20" y="30.20" font-size="10" font-family="Liberation Sans, sans-serif" font-weight="bold" text-anchor="start" fill="#000" >AIEOP</text>
<text x="392.60" y="29.60" font-size="10" font-family="Liberation Sans, sans-serif" font-weight="bold" text-anchor="start" fill="#000" >ii</text>
<text x="425.20" y="29.60" font-size="10" font-family="Liberation Sans, sans-serif" font-weight="bold" text-anchor="start" fill="#000" >BFM</text>
<text x="465.00" y="29.60" font-size="10" font-family="Liberation Sans, sans-serif" font-weight="bold" text-anchor="start" fill="#000" >iii</text>
<text x="499.60" y="29.60" font-size="10" font-family="Liberation Sans, sans-serif" font-weight="bold" text-anchor="start" fill="#000" >ICH</text>
<text x="23.30" y="109.30" font-size="8.35" font-family="Liberation Sans, sans-serif" font-weight="bold" text-anchor="middle" fill="#000" transform="rotate(-90 23.3 109.3)" >Log2 Expression</text>
<text x="302.10" y="108.10" font-size="8.6" font-family="Liberation Sans, sans-serif" font-weight="bold" text-anchor="middle" fill="#000" transform="rotate(-90 302.1 108.1)" >Log2 Expression</text>
<text transform="translate(-0.4 224.6) scale(0.9 1)" font-size="13.6" font-family="Liberation Sans, sans-serif" font-weight="bold">C</text>
<rect x="105.00" y="226.10" width="5.8" height="55.10" fill="#6f0b17"/>
<rect x="105.00" y="291.2" width="5.8" height="137.60" fill="#6f0b17"/>
<rect x="114.37" y="269.10" width="5.8" height="12.10" fill="#a24f5d"/>
<rect x="114.37" y="291.2" width="5.8" height="137.60" fill="#a24f5d"/>
<rect x="123.74" y="276.00" width="5.8" height="5.20" fill="#5b84e8"/>
<rect x="123.74" y="291.2" width="5.8" height="137.60" fill="#5b84e8"/>
<rect x="133.11" y="311.50" width="5.8" height="117.30" fill="#ababab"/>
<rect x="142.48" y="315.00" width="5.8" height="113.80" fill="#ababab"/>
<rect x="151.85" y="334.00" width="5.8" height="94.80" fill="#a24f5d"/>
<rect x="161.22" y="335.80" width="5.8" height="93.00" fill="#a24f5d"/>
<rect x="170.59" y="340.00" width="5.8" height="88.80" fill="#a24f5d"/>
<rect x="179.96" y="350.00" width="5.8" height="78.80" fill="#5b84e8"/>
<rect x="189.33" y="367.00" width="5.8" height="61.80" fill="#ababab"/>
<rect x="198.70" y="388.80" width="5.8" height="40.00" fill="#5b84e8"/>
<rect x="208.07" y="390.00" width="5.8" height="38.80" fill="#ababab"/>
<rect x="217.44" y="392.00" width="5.8" height="36.80" fill="#ababab"/>
<rect x="226.81" y="392.00" width="5.8" height="36.80" fill="#ababab"/>
<rect x="236.18" y="399.50" width="5.8" height="29.30" fill="#a24f5d"/>
<rect x="245.55" y="404.30" width="5.8" height="24.50" fill="#ababab"/>
<rect x="254.92" y="414.30" width="5.8" height="14.50" fill="#ababab"/>
<rect x="264.29" y="416.30" width="5.8" height="12.50" fill="#ababab"/>
<rect x="273.66" y="421.30" width="5.8" height="7.50" fill="#ababab"/>
<rect x="283.03" y="421.30" width="5.8" height="7.50" fill="#ababab"/>
<rect x="292.40" y="421.30" width="5.8" height="7.50" fill="#ababab"/>
<rect x="301.77" y="424.50" width="5.8" height="4.30" fill="#ababab"/>
<rect x="311.14" y="424.50" width="5.8" height="4.30" fill="#ababab"/>
<rect x="320.51" y="425.00" width="5.8" height="3.80" fill="#ababab"/>
<rect x="329.88" y="427.00" width="5.8" height="1.80" fill="#ababab"/>
<rect x="339.25" y="427.50" width="5.8" height="1.30" fill="#ababab"/>
<rect x="348.62" y="428.00" width="5.8" height="0.80" fill="#ababab"/>
<rect x="357.99" y="428.30" width="5.8" height="0.50" fill="#ababab"/>
<rect x="367.36" y="428.40" width="5.8" height="0.40" fill="#ababab"/>
<rect x="376.73" y="428.40" width="5.8" height="0.40" fill="#ababab"/>
<rect x="386.10" y="428.50" width="5.8" height="0.30" fill="#ababab"/>
<rect x="105.00" y="226.1" width="5.8" height="55.10" fill="none" stroke="#9a4250" stroke-width="0.8"/>
<rect x="105.00" y="291.2" width="5.8" height="137.60" fill="none" stroke="#9a4250" stroke-width="0.8"/>
<line x1="103.2" y1="222.2" x2="103.2" y2="281.2" stroke="#111" stroke-width="1.4"/>
<line x1="103.2" y1="291.0" x2="103.2" y2="428.8" stroke="#111" stroke-width="1.4"/>
<line x1="103.2" y1="428.8" x2="454.4" y2="428.8" stroke="#111" stroke-width="1.4"/>
<line x1="454.4" y1="221.3" x2="454.4" y2="428.8" stroke="#111" stroke-width="1.2"/>
<line x1="103.2" y1="222.2" x2="105.6" y2="222.2" stroke="#111" stroke-width="1.2"/>
<line x1="103.2" y1="281.2" x2="106" y2="281.2" stroke="#111" stroke-width="1.2"/>
<line x1="103.2" y1="291.1" x2="105.6" y2="291.1" stroke="#111" stroke-width="1.2"/>
<line x1="99.2" y1="222.2" x2="103.2" y2="222.2" stroke="#111" stroke-width="1.2"/>
<text x="98.20" y="225.70" font-size="9.8" font-family="Liberation Sans, sans-serif" font-weight="bold" text-anchor="end" fill="#000" textLength="24.3" lengthAdjust="spacingAndGlyphs">25000</text>
<line x1="99.2" y1="237.0" x2="103.2" y2="237.0" stroke="#111" stroke-width="1.2"/>
<text x="98.20" y="240.50" font-size="9.8" font-family="Liberation Sans, sans-serif" font-weight="bold" text-anchor="end" fill="#000" textLength="24.3" lengthAdjust="spacingAndGlyphs">20000</text>
<line x1="99.2" y1="251.5" x2="103.2" y2="251.5" stroke="#111" stroke-width="1.2"/>
<text x="98.20" y="255.00" font-size="9.8" font-family="Liberation Sans, sans-serif" font-weight="bold" text-anchor="end" fill="#000" textLength="24.3" lengthAdjust="spacingAndGlyphs">15000</text>
<line x1="99.2" y1="266.3" x2="103.2" y2="266.3" stroke="#111" stroke-width="1.2"/>
<text x="98.20" y="269.80" font-size="9.8" font-family="Liberation Sans, sans-serif" font-weight="bold" text-anchor="end" fill="#000" textLength="24.3" lengthAdjust="spacingAndGlyphs">10000</text>
<line x1="99.2" y1="281.2" x2="103.2" y2="281.2" stroke="#111" stroke-width="1.2"/>
<text x="98.20" y="284.70" font-size="9.8" font-family="Liberation Sans, sans-serif" font-weight="bold" text-anchor="end" fill="#000" textLength="19.4" lengthAdjust="spacingAndGlyphs">5000</text>
<line x1="99.2" y1="291.2" x2="103.2" y2="291.2" stroke="#111" stroke-width="1.2"/>
<text x="98.20" y="294.70" font-size="9.8" font-family="Liberation Sans, sans-serif" font-weight="bold" text-anchor="end" fill="#000" textLength="19.4" lengthAdjust="spacingAndGlyphs">5000</text>
<line x1="99.2" y1="318.8" x2="103.2" y2="318.8" stroke="#111" stroke-width="1.2"/>
<text x="98.20" y="322.30" font-size="9.8" font-family="Liberation Sans, sans-serif" font-weight="bold" text-anchor="end" fill="#000" textLength="19.4" lengthAdjust="spacingAndGlyphs">4000</text>
<line x1="99.2" y1="346.5" x2="103.2" y2="346.5" stroke="#111" stroke-width="1.2"/>
<text x="98.20" y="350.00" font-size="9.8" font-family="Liberation Sans, sans-serif" font-weight="bold" text-anchor="end" fill="#000" textLength="19.4" lengthAdjust="spacingAndGlyphs">3000</text>
<line x1="99.2" y1="374.1" x2="103.2" y2="374.1" stroke="#111" stroke-width="1.2"/>
<text x="98.20" y="377.60" font-size="9.8" font-family="Liberation Sans, sans-serif" font-weight="bold" text-anchor="end" fill="#000" textLength="19.4" lengthAdjust="spacingAndGlyphs">2000</text>
<line x1="99.2" y1="401.8" x2="103.2" y2="401.8" stroke="#111" stroke-width="1.2"/>
<text x="98.20" y="405.30" font-size="9.8" font-family="Liberation Sans, sans-serif" font-weight="bold" text-anchor="end" fill="#000" textLength="19.4" lengthAdjust="spacingAndGlyphs">1000</text>
<line x1="99.2" y1="429.0" x2="103.2" y2="429.0" stroke="#111" stroke-width="1.2"/>
<text x="98.20" y="432.50" font-size="9.8" font-family="Liberation Sans, sans-serif" font-weight="bold" text-anchor="end" fill="#000" textLength="4.9" lengthAdjust="spacingAndGlyphs">0</text>
<line x1="107.90" y1="428.8" x2="107.90" y2="432.8" stroke="#111" stroke-width="1.1"/>
<line x1="117.27" y1="428.8" x2="117.27" y2="432.8" stroke="#111" stroke-width="1.1"/>
<line x1="126.64" y1="428.8" x2="126.64" y2="432.8" stroke="#111" stroke-width="1.1"/>
<line x1="136.01" y1="428.8" x2="136.01" y2="432.8" stroke="#111" stroke-width="1.1"/>
<line x1="145.38" y1="428.8" x2="145.38" y2="432.8" stroke="#111" stroke-width="1.1"/>
<line x1="154.75" y1="428.8" x2="154.75" y2="432.8" stroke="#111" stroke-width="1.1"/>
<line x1="164.12" y1="428.8" x2="164.12" y2="432.8" stroke="#111" stroke-width="1.1"/>
<line x1="173.49" y1="428.8" x2="173.49" y2="432.8" stroke="#111" stroke-width="1.1"/>
<line x1="182.86" y1="428.8" x2="182.86" y2="432.8" stroke="#111" stroke-width="1.1"/>
<line x1="192.23" y1="428.8" x2="192.23" y2="432.8" stroke="#111" stroke-width="1.1"/>
<line x1="201.60" y1="428.8" x2="201.60" y2="432.8" stroke="#111" stroke-width="1.1"/>
<line x1="210.97" y1="428.8" x2="210.97" y2="432.8" stroke="#111" stroke-width="1.1"/>
<line x1="220.34" y1="428.8" x2="220.34" y2="432.8" stroke="#111" stroke-width="1.1"/>
<line x1="229.71" y1="428.8" x2="229.71" y2="432.8" stroke="#111" stroke-width="1.1"/>
<line x1="239.08" y1="428.8" x2="239.08" y2="432.8" stroke="#111" stroke-width="1.1"/>
<line x1="248.45" y1="428.8" x2="248.45" y2="432.8" stroke="#111" stroke-width="1.1"/>
<line x1="257.82" y1="428.8" x2="257.82" y2="432.8" stroke="#111" stroke-width="1.1"/>
<line x1="267.19" y1="428.8" x2="267.19" y2="432.8" stroke="#111" stroke-width="1.1"/>
<line x1="276.56" y1="428.8" x2="276.56" y2="432.8" stroke="#111" stroke-width="1.1"/>
<line x1="285.93" y1="428.8" x2="285.93" y2="432.8" stroke="#111" stroke-width="1.1"/>
<line x1="295.30" y1="428.8" x2="295.30" y2="432.8" stroke="#111" stroke-width="1.1"/>
<line x1="304.67" y1="428.8" x2="304.67" y2="432.8" stroke="#111" stroke-width="1.1"/>
<line x1="314.04" y1="428.8" x2="314.04" y2="432.8" stroke="#111" stroke-width="1.1"/>
<line x1="323.41" y1="428.8" x2="323.41" y2="432.8" stroke="#111" stroke-width="1.1"/>
<line x1="332.78" y1="428.8" x2="332.78" y2="432.8" stroke="#111" stroke-width="1.1"/>
<line x1="342.15" y1="428.8" x2="342.15" y2="432.8" stroke="#111" stroke-width="1.1"/>
<line x1="351.52" y1="428.8" x2="351.52" y2="432.8" stroke="#111" stroke-width="1.1"/>
<line x1="360.89" y1="428.8" x2="360.89" y2="432.8" stroke="#111" stroke-width="1.1"/>
<line x1="370.26" y1="428.8" x2="370.26" y2="432.8" stroke="#111" stroke-width="1.1"/>
<line x1="379.63" y1="428.8" x2="379.63" y2="432.8" stroke="#111" stroke-width="1.1"/>
<line x1="389.00" y1="428.8" x2="389.00" y2="432.8" stroke="#111" stroke-width="1.1"/>
<line x1="398.37" y1="428.8" x2="398.37" y2="432.8" stroke="#111" stroke-width="1.1"/>
<line x1="407.74" y1="428.8" x2="407.74" y2="432.8" stroke="#111" stroke-width="1.1"/>
<line x1="417.11" y1="428.8" x2="417.11" y2="432.8" stroke="#111" stroke-width="1.1"/>
<line x1="426.48" y1="428.8" x2="426.48" y2="432.8" stroke="#111" stroke-width="1.1"/>
<line x1="435.85" y1="428.8" x2="435.85" y2="432.8" stroke="#111" stroke-width="1.1"/>
<line x1="445.22" y1="428.8" x2="445.22" y2="432.8" stroke="#111" stroke-width="1.1"/>
<line x1="454.4" y1="222.0" x2="458.4" y2="222.0" stroke="#111" stroke-width="1.1"/>
<text x="459.60" y="225.40" font-size="9.4" font-family="Liberation Sans, sans-serif" text-anchor="start" fill="#000" >16</text>
<line x1="454.4" y1="326.0" x2="458.4" y2="326.0" stroke="#111" stroke-width="1.1"/>
<text x="459.60" y="329.40" font-size="9.4" font-family="Liberation Sans, sans-serif" text-anchor="start" fill="#000" >8</text>
<line x1="454.4" y1="428.8" x2="458.4" y2="428.8" stroke="#111" stroke-width="1.1"/>
<text x="459.60" y="432.20" font-size="9.4" font-family="Liberation Sans, sans-serif" text-anchor="start" fill="#000" >4</text>
<line x1="138.90" y1="294.3" x2="149.30" y2="294.3" stroke="#000" stroke-width="1"/>
<path d="M141.00 294.3 L144.10 291.10 L147.20 294.3 L144.10 297.50 Z" fill="#000"/>
<line x1="148.30" y1="291.8" x2="158.70" y2="291.8" stroke="#000" stroke-width="1"/>
<path d="M150.40 291.8 L153.50 288.60 L156.60 291.8 L153.50 295.00 Z" fill="#000"/>
<line x1="157.60" y1="298.8" x2="168.00" y2="298.8" stroke="#000" stroke-width="1"/>
<path d="M159.70 298.8 L162.80 295.60 L165.90 298.8 L162.80 302.00 Z" fill="#000"/>
<line x1="167.80" y1="342.5" x2="178.20" y2="342.5" stroke="#000" stroke-width="1"/>
<path d="M169.90 342.5 L173.00 339.30 L176.10 342.5 L173.00 345.70 Z" fill="#000"/>
<line x1="176.80" y1="319.6" x2="187.20" y2="319.6" stroke="#000" stroke-width="1"/>
<path d="M178.90 319.6 L182.00 316.40 L185.10 319.6 L182.00 322.80 Z" fill="#000"/>
<line x1="215.14" y1="345.5" x2="225.54" y2="345.5" stroke="#000" stroke-width="1"/>
<path d="M217.24 345.5 L220.34 342.30 L223.44 345.5 L220.34 348.70 Z" fill="#000"/>
<line x1="233.88" y1="366.3" x2="244.28" y2="366.3" stroke="#000" stroke-width="1"/>
<path d="M235.98 366.3 L239.08 363.10 L242.18 366.3 L239.08 369.50 Z" fill="#000"/>
<line x1="243.25" y1="388.0" x2="253.65" y2="388.0" stroke="#000" stroke-width="1"/>
<path d="M245.35 388.0 L248.45 384.80 L251.55 388.0 L248.45 391.20 Z" fill="#000"/>
<line x1="261.99" y1="382.0" x2="272.39" y2="382.0" stroke="#000" stroke-width="1"/>
<path d="M264.09 382.0 L267.19 378.80 L270.29 382.0 L267.19 385.20 Z" fill="#000"/>
<line x1="271.36" y1="365.8" x2="281.76" y2="365.8" stroke="#000" stroke-width="1"/>
<path d="M273.46 365.8 L276.56 362.60 L279.66 365.8 L276.56 369.00 Z" fill="#000"/>
<line x1="290.10" y1="368.0" x2="300.50" y2="368.0" stroke="#000" stroke-width="1"/>
<path d="M292.20 368.0 L295.30 364.80 L298.40 368.0 L295.30 371.20 Z" fill="#000"/>
<line x1="308.84" y1="398.0" x2="319.24" y2="398.0" stroke="#000" stroke-width="1"/>
<path d="M310.94 398.0 L314.04 394.80 L317.14 398.0 L314.04 401.20 Z" fill="#000"/>
<line x1="327.58" y1="406.8" x2="337.98" y2="406.8" stroke="#000" stroke-width="1"/>
<path d="M329.68 406.8 L332.78 403.60 L335.88 406.8 L332.78 410.00 Z" fill="#000"/>
<line x1="346.32" y1="413.3" x2="356.72" y2="413.3" stroke="#000" stroke-width="1"/>
<path d="M348.42 413.3 L351.52 410.10 L354.62 413.3 L351.52 416.50 Z" fill="#000"/>
<line x1="365.06" y1="398.0" x2="375.46" y2="398.0" stroke="#000" stroke-width="1"/>
<path d="M367.16 398.0 L370.26 394.80 L373.36 398.0 L370.26 401.20 Z" fill="#000"/>
<line x1="374.43" y1="398.0" x2="384.83" y2="398.0" stroke="#000" stroke-width="1"/>
<path d="M376.53 398.0 L379.63 394.80 L382.73 398.0 L379.63 401.20 Z" fill="#000"/>
<text x="111.00" y="435.60" font-size="9.8" font-family="Liberation Sans, sans-serif" font-weight="bold" text-anchor="end" fill="#000" transform="rotate(-90 111.0 435.6)" >DS 19</text>
<text x="120.37" y="435.60" font-size="9.8" font-family="Liberation Sans, sans-serif" font-weight="bold" text-anchor="end" fill="#000" transform="rotate(-90 120.37 435.6)" >DS 13</text>
<text x="129.74" y="435.60" font-size="9.8" font-family="Liberation Sans, sans-serif" font-weight="bold" text-anchor="end" fill="#000" transform="rotate(-90 129.74 435.6)" >DS 103</text>
<text x="139.11" y="435.60" font-size="9.8" font-family="Liberation Sans, sans-serif" font-weight="bold" text-anchor="end" fill="#000" transform="rotate(-90 139.10999999999999 435.6)" >DS 41</text>
<text x="148.48" y="435.60" font-size="9.8" font-family="Liberation Sans, sans-serif" font-weight="bold" text-anchor="end" fill="#000" transform="rotate(-90 148.48 435.6)" >DS 38</text>
<text x="157.85" y="435.60" font-size="9.8" font-family="Liberation Sans, sans-serif" font-weight="bold" text-anchor="end" fill="#000" transform="rotate(-90 157.85 435.6)" >DS 45</text>
<text x="167.22" y="435.60" font-size="9.8" font-family="Liberation Sans, sans-serif" font-weight="bold" text-anchor="end" fill="#000" transform="rotate(-90 167.22 435.6)" >DS 30</text>
<text x="176.59" y="435.60" font-size="9.8" font-family="Liberation Sans, sans-serif" font-weight="bold" text-anchor="end" fill="#000" transform="rotate(-90 176.59 435.6)" >DS 14</text>
<text x="185.96" y="435.60" font-size="9.8" font-family="Liberation Sans, sans-serif" font-weight="bold" text-anchor="end" fill="#000" transform="rotate(-90 185.96 435.6)" >DS 18</text>
<text x="195.33" y="435.60" font-size="9.8" font-family="Liberation Sans, sans-serif" font-weight="bold" text-anchor="end" fill="#000" transform="rotate(-90 195.33 435.6)" >DS 16</text>
<text x="204.70" y="435.60" font-size="9.8" font-family="Liberation Sans, sans-serif" font-weight="bold" text-anchor="end" fill="#000" transform="rotate(-90 204.7 435.6)" >DS 97</text>
<text x="214.07" y="435.60" font-size="9.8" font-family="Liberation Sans, sans-serif" font-weight="bold" text-anchor="end" fill="#000" transform="rotate(-90 214.07 435.6)" >DS 20</text>
<text x="223.44" y="435.60" font-size="9.8" font-family="Liberation Sans, sans-serif" font-weight="bold" text-anchor="end" fill="#000" transform="rotate(-90 223.44 435.6)" >DS 5</text>
<text x="232.81" y="435.60" font-size="9.8" font-family="Liberation Sans, sans-serif" font-weight="bold" text-anchor="end" fill="#000" transform="rotate(-90 232.80999999999997 435.6)" >DS 44</text>
<text x="242.18" y="435.60" font-size="9.8" font-family="Liberation Sans, sans-serif" font-weight="bold" text-anchor="end" fill="#000" transform="rotate(-90 242.17999999999998 435.6)" >DS 9</text>
<text x="251.55" y="435.60" font-size="9.8" font-family="Liberation Sans, sans-serif" font-weight="bold" text-anchor="end" fill="#000" transform="rotate(-90 251.54999999999998 435.6)" >DS 10</text>
<text x="260.92" y="435.60" font-size="9.8" font-family="Liberation Sans, sans-serif" font-weight="bold" text-anchor="end" fill="#000" transform="rotate(-90 260.92 435.6)" >DS 39</text>
<text x="270.29" y="435.60" font-size="9.8" font-family="Liberation Sans, sans-serif" font-weight="bold" text-anchor="end" fill="#000" transform="rotate(-90 270.29 435.6)" >DS 8</text>
<text x="279.66" y="435.60" font-size="9.8" font-family="Liberation Sans, sans-serif" font-weight="bold" text-anchor="end" fill="#000" transform="rotate(-90 279.66 435.6)" >DS 4</text>
<text x="289.03" y="435.60" font-size="9.8" font-family="Liberation Sans, sans-serif" font-weight="bold" text-anchor="end" fill="#000" transform="rotate(-90 289.03 435.6)" >DS 42</text>
<text x="298.40" y="435.60" font-size="9.8" font-family="Liberation Sans, sans-serif" font-weight="bold" text-anchor="end" fill="#000" transform="rotate(-90 298.4 435.6)" >DS 32</text>
<text x="307.77" y="435.60" font-size="9.8" font-family="Liberation Sans, sans-serif" font-weight="bold" text-anchor="end" fill="#000" transform="rotate(-90 307.77 435.6)" >DS 43</text>
<text x="317.14" y="435.60" font-size="9.8" font-family="Liberation Sans, sans-serif" font-weight="bold" text-anchor="end" fill="#000" transform="rotate(-90 317.14 435.6)" >DS 11</text>
<text x="326.51" y="435.60" font-size="9.8" font-family="Liberation Sans, sans-serif" font-weight="bold" text-anchor="end" fill="#000" transform="rotate(-90 326.51 435.6)" >DS 37</text>
<text x="335.88" y="435.60" font-size="9.8" font-family="Liberation Sans, sans-serif" font-weight="bold" text-anchor="end" fill="#000" transform="rotate(-90 335.88 435.6)" >DS 6</text>
<text x="345.25" y="435.60" font-size="9.8" font-family="Liberation Sans, sans-serif" font-weight="bold" text-anchor="end" fill="#000" transform="rotate(-90 345.25 435.6)" >DS 2</text>
<text x="354.62" y="435.60" font-size="9.8" font-family="Liberation Sans, sans-serif" font-weight="bold" text-anchor="end" fill="#000" transform="rotate(-90 354.62 435.6)" >DS 1</text>
<text x="363.99" y="435.60" font-size="9.8" font-family="Liberation Sans, sans-serif" font-weight="bold" text-anchor="end" fill="#000" transform="rotate(-90 363.99 435.6)" >DS 7</text>
<text x="373.36" y="435.60" font-size="9.8" font-family="Liberation Sans, sans-serif" font-weight="bold" text-anchor="end" fill="#000" transform="rotate(-90 373.36 435.6)" >DS 17</text>
<text x="382.73" y="435.60" font-size="9.8" font-family="Liberation Sans, sans-serif" font-weight="bold" text-anchor="end" fill="#000" transform="rotate(-90 382.73 435.6)" >DS 15</text>
<text x="392.10" y="435.60" font-size="9.8" font-family="Liberation Sans, sans-serif" font-weight="bold" text-anchor="end" fill="#000" transform="rotate(-90 392.1 435.6)" >DS 40</text>
<text x="401.47" y="435.60" font-size="9.8" font-family="Liberation Sans, sans-serif" font-weight="bold" text-anchor="end" fill="#000" transform="rotate(-90 401.47 435.6)" >DS 12</text>
<text x="420.21" y="435.60" font-size="9.8" font-family="Liberation Sans, sans-serif" font-weight="bold" text-anchor="end" fill="#000" transform="rotate(-90 420.21000000000004 435.6)" >DS 19 Rem</text>
<text x="429.58" y="435.60" font-size="9.8" font-family="Liberation Sans, sans-serif" font-weight="bold" text-anchor="end" fill="#000" transform="rotate(-90 429.58000000000004 435.6)" >DS 20 Rem</text>
<text x="438.95" y="435.60" font-size="9.8" font-family="Liberation Sans, sans-serif" font-weight="bold" text-anchor="end" fill="#000" transform="rotate(-90 438.95000000000005 435.6)" >CONT1</text>
<text x="448.32" y="435.60" font-size="9.8" font-family="Liberation Sans, sans-serif" font-weight="bold" text-anchor="end" fill="#000" transform="rotate(-90 448.32000000000005 435.6)" >CONT2</text>
<text x="286.80" y="499.90" font-size="10.2" font-family="Liberation Sans, sans-serif" font-weight="bold" text-anchor="middle" fill="#000" >Patient</text>
<text x="37.30" y="319.00" font-size="10.5" font-family="Liberation Sans, sans-serif" font-weight="bold" text-anchor="middle" fill="#000" transform="rotate(-90 37.3 319.0)" >qRT-PCR levels</text>
<text x="56.80" y="317.30" font-size="10.5" font-family="Liberation Sans, sans-serif" font-weight="bold" text-anchor="middle" fill="#000" transform="rotate(-90 56.8 317.3)" >(fold change relative to DS 12)</text>
<text x="495.00" y="323.70" font-size="10.5" font-family="Liberation Sans, sans-serif" font-weight="bold" text-anchor="middle" fill="#000" transform="rotate(90 495.0 323.7)" >Gene expression arrays levels</text>
<text x="475.30" y="324.30" font-size="10.2" font-family="Liberation Sans, sans-serif" font-weight="bold" text-anchor="middle" fill="#000" transform="rotate(90 475.3 324.3)" >(log 2)</text>
<text transform="translate(0.2 527.2) scale(0.9 1)" font-size="13.6" font-family="Liberation Sans, sans-serif" font-weight="bold">D</text>
<line x1="72.6" y1="526.0" x2="72.6" y2="653.4" stroke="#000" stroke-width="1.6"/>
<line x1="67.2" y1="652.8" x2="219" y2="652.8" stroke="#000" stroke-width="1.6"/>
<line x1="67.6" y1="525.9" x2="72.6" y2="525.9" stroke="#000" stroke-width="1.3"/>
<text x="62.20" y="529.10" font-size="8.9" font-family="Liberation Sans, sans-serif" text-anchor="end" fill="#222" >15000</text>
<line x1="67.6" y1="568.2" x2="72.6" y2="568.2" stroke="#000" stroke-width="1.3"/>
<text x="62.20" y="571.40" font-size="8.9" font-family="Liberation Sans, sans-serif" text-anchor="end" fill="#222" >10000</text>
<line x1="67.6" y1="610.4" x2="72.6" y2="610.4" stroke="#000" stroke-width="1.3"/>
<text x="62.20" y="613.60" font-size="8.9" font-family="Liberation Sans, sans-serif" text-anchor="end" fill="#222" >5000</text>
<line x1="67.6" y1="652.8" x2="72.6" y2="652.8" stroke="#000" stroke-width="1.3"/>
<text x="62.20" y="656.00" font-size="8.9" font-family="Liberation Sans, sans-serif" text-anchor="end" fill="#222" >0</text>
<rect x="79.6" y="647.3" width="17.00" height="5.50" fill="#000"/>
<rect x="107.2" y="647.3" width="16.60" height="5.50" fill="#000"/>
<rect x="135.8" y="623.6" width="17.00" height="29.20" fill="#000"/>
<rect x="163.4" y="600.5" width="17.20" height="52.30" fill="#000"/>
<rect x="191.0" y="533.6" width="16.60" height="119.20" fill="#000"/>
<text x="27.30" y="588.80" font-size="8.2" font-family="Liberation Sans, sans-serif" text-anchor="middle" fill="#222" transform="rotate(-90 27.3 588.8)" >CRLF2 expression</text>
<text x="38.80" y="593.80" font-size="7.6" font-family="Liberation Sans, sans-serif" text-anchor="middle" fill="#222" transform="rotate(-90 38.8 593.8)" >&#916; MFI</text>
<text x="88.40" y="661.20" font-size="7.1" font-family="Liberation Sans, sans-serif" text-anchor="end" fill="#222" transform="rotate(-41 88.4 661.2)" >DS 80 JAK2wt</text>
<text x="116.40" y="661.20" font-size="7.1" font-family="Liberation Sans, sans-serif" text-anchor="end" fill="#222" transform="rotate(-41 116.4 661.2)" >DS 15 JAK2wt</text>
<text x="145.00" y="661.20" font-size="7.1" font-family="Liberation Sans, sans-serif" text-anchor="end" fill="#222" transform="rotate(-41 145.0 661.2)" >DS 13 JAK2mut het</text>
<text x="172.60" y="661.20" font-size="7.1" font-family="Liberation Sans, sans-serif" text-anchor="end" fill="#222" transform="rotate(-41 172.6 661.2)" >DS 76 JAK2mut het</text>
<text x="201.40" y="661.20" font-size="7.1" font-family="Liberation Sans, sans-serif" text-anchor="end" fill="#222" transform="rotate(-41 201.4 661.2)" >DS 45 JAK2mut hom</text>
<rect x="257.8" y="578.6" width="0.9" height="0.9" fill="#5a5ab0" opacity="0.5"/>
<rect x="258.1" y="572.8" width="0.9" height="0.9" fill="#5a5ab0" opacity="0.5"/>
<rect x="252.1" y="573.5" width="0.9" height="0.9" fill="#5a5ab0" opacity="0.5"/>
<rect x="269.5" y="578.0" width="0.9" height="0.9" fill="#5a5ab0" opacity="0.5"/>
<rect x="268.8" y="576.7" width="0.9" height="0.9" fill="#5a5ab0" opacity="0.5"/>
<rect x="263.4" y="576.3" width="0.9" height="0.9" fill="#5a5ab0" opacity="0.5"/>
<rect x="245.8" y="581.0" width="0.9" height="0.9" fill="#5a5ab0" opacity="0.5"/>
<rect x="264.3" y="578.5" width="0.9" height="0.9" fill="#5a5ab0" opacity="0.5"/>
<rect x="245.6" y="562.8" width="0.9" height="0.9" fill="#5a5ab0" opacity="0.5"/>
<rect x="252.4" y="571.7" width="0.9" height="0.9" fill="#5a5ab0" opacity="0.5"/>
<rect x="262.6" y="574.7" width="0.9" height="0.9" fill="#5a5ab0" opacity="0.5"/>
<rect x="264.4" y="570.5" width="0.9" height="0.9" fill="#5a5ab0" opacity="0.5"/>
<rect x="262.6" y="577.8" width="0.9" height="0.9" fill="#5a5ab0" opacity="0.5"/>
<rect x="254.4" y="587.0" width="0.9" height="0.9" fill="#5a5ab0" opacity="0.5"/>
<rect x="264.7" y="583.4" width="0.9" height="0.9" fill="#5a5ab0" opacity="0.5"/>
<rect x="254.7" y="569.8" width="0.9" height="0.9" fill="#5a5ab0" opacity="0.5"/>
<rect x="257.1" y="574.3" width="0.9" height="0.9" fill="#5a5ab0" opacity="0.5"/>
<rect x="265.4" y="576.7" width="0.9" height="0.9" fill="#5a5ab0" opacity="0.5"/>
<rect x="256.2" y="568.3" width="0.9" height="0.9" fill="#5a5ab0" opacity="0.5"/>
<rect x="255.6" y="583.5" width="0.9" height="0.9" fill="#5a5ab0" opacity="0.5"/>
<rect x="253.1" y="576.7" width="0.9" height="0.9" fill="#5a5ab0" opacity="0.5"/>
<rect x="263.6" y="564.6" width="0.9" height="0.9" fill="#5a5ab0" opacity="0.5"/>
<rect x="260.4" y="584.1" width="0.9" height="0.9" fill="#5a5ab0" opacity="0.5"/>
<rect x="242.9" y="572.7" width="0.9" height="0.9" fill="#5a5ab0" opacity="0.5"/>
<rect x="259.1" y="569.3" width="0.9" height="0.9" fill="#5a5ab0" opacity="0.5"/>
<rect x="264.2" y="574.6" width="0.9" height="0.9" fill="#5a5ab0" opacity="0.5"/>
<rect x="247.6" y="580.8" width="0.9" height="0.9" fill="#5a5ab0" opacity="0.5"/>
<rect x="265.7" y="581.6" width="0.9" height="0.9" fill="#5a5ab0" opacity="0.5"/>
<rect x="272.2" y="577.5" width="0.9" height="0.9" fill="#5a5ab0" opacity="0.5"/>
<rect x="261.0" y="565.9" width="0.9" height="0.9" fill="#5a5ab0" opacity="0.5"/>
<rect x="265.2" y="570.7" width="0.9" height="0.9" fill="#5a5ab0" opacity="0.5"/>
<rect x="256.2" y="566.1" width="0.9" height="0.9" fill="#5a5ab0" opacity="0.5"/>
<rect x="251.8" y="571.3" width="0.9" height="0.9" fill="#5a5ab0" opacity="0.5"/>
<rect x="271.0" y="560.8" width="0.9" height="0.9" fill="#5a5ab0" opacity="0.5"/>
<rect x="247.6" y="576.7" width="0.9" height="0.9" fill="#5a5ab0" opacity="0.5"/>
<rect x="272.3" y="579.0" width="0.9" height="0.9" fill="#5a5ab0" opacity="0.5"/>
<rect x="243.9" y="557.4" width="0.9" height="0.9" fill="#5a5ab0" opacity="0.5"/>
<rect x="263.0" y="569.8" width="0.9" height="0.9" fill="#5a5ab0" opacity="0.5"/>
<rect x="250.5" y="581.8" width="0.9" height="0.9" fill="#5a5ab0" opacity="0.5"/>
<rect x="269.4" y="576.1" width="0.9" height="0.9" fill="#5a5ab0" opacity="0.5"/>
<rect x="262.1" y="578.0" width="0.9" height="0.9" fill="#5a5ab0" opacity="0.5"/>
<rect x="273.5" y="579.3" width="0.9" height="0.9" fill="#5a5ab0" opacity="0.5"/>
<rect x="264.4" y="578.8" width="0.9" height="0.9" fill="#5a5ab0" opacity="0.5"/>
<rect x="246.7" y="584.0" width="0.9" height="0.9" fill="#5a5ab0" opacity="0.5"/>
<rect x="268.1" y="578.7" width="0.9" height="0.9" fill="#5a5ab0" opacity="0.5"/>
<rect x="243.2" y="570.6" width="0.9" height="0.9" fill="#5a5ab0" opacity="0.5"/>
<rect x="267.2" y="562.3" width="0.9" height="0.9" fill="#5a5ab0" opacity="0.5"/>
<rect x="258.4" y="582.1" width="0.9" height="0.9" fill="#5a5ab0" opacity="0.5"/>
<rect x="248.9" y="586.3" width="0.9" height="0.9" fill="#5a5ab0" opacity="0.5"/>
<rect x="264.7" y="573.9" width="0.9" height="0.9" fill="#5a5ab0" opacity="0.5"/>
<rect x="262.8" y="579.5" width="0.9" height="0.9" fill="#5a5ab0" opacity="0.5"/>
<rect x="261.0" y="583.0" width="0.9" height="0.9" fill="#5a5ab0" opacity="0.5"/>
<rect x="254.4" y="572.1" width="0.9" height="0.9" fill="#5a5ab0" opacity="0.5"/>
<rect x="268.9" y="575.2" width="0.9" height="0.9" fill="#5a5ab0" opacity="0.5"/>
<rect x="252.5" y="581.6" width="0.9" height="0.9" fill="#5a5ab0" opacity="0.5"/>
<rect x="272.5" y="571.9" width="0.9" height="0.9" fill="#5a5ab0" opacity="0.5"/>
<rect x="248.3" y="574.1" width="0.9" height="0.9" fill="#5a5ab0" opacity="0.5"/>
<rect x="258.7" y="572.9" width="0.9" height="0.9" fill="#5a5ab0" opacity="0.5"/>
<rect x="271.9" y="567.8" width="0.9" height="0.9" fill="#5a5ab0" opacity="0.5"/>
<rect x="270.7" y="566.1" width="0.9" height="0.9" fill="#5a5ab0" opacity="0.5"/>
<rect x="253.3" y="579.4" width="0.9" height="0.9" fill="#5a5ab0" opacity="0.5"/>
<rect x="269.6" y="581.0" width="0.9" height="0.9" fill="#5a5ab0" opacity="0.5"/>
<rect x="262.9" y="576.0" width="0.9" height="0.9" fill="#5a5ab0" opacity="0.5"/>
<rect x="261.3" y="579.0" width="0.9" height="0.9" fill="#5a5ab0" opacity="0.5"/>
<rect x="258.5" y="576.9" width="0.9" height="0.9" fill="#5a5ab0" opacity="0.5"/>
<rect x="264.9" y="575.0" width="0.9" height="0.9" fill="#5a5ab0" opacity="0.5"/>
<rect x="266.5" y="579.0" width="0.9" height="0.9" fill="#5a5ab0" opacity="0.5"/>
<rect x="277.1" y="577.3" width="0.9" height="0.9" fill="#5a5ab0" opacity="0.5"/>
<rect x="256.4" y="572.4" width="0.9" height="0.9" fill="#5a5ab0" opacity="0.5"/>
<rect x="259.9" y="581.5" width="0.9" height="0.9" fill="#5a5ab0" opacity="0.5"/>
<rect x="257.1" y="577.7" width="0.9" height="0.9" fill="#5a5ab0" opacity="0.5"/>
<rect x="275.6" y="557.0" width="0.9" height="0.9" fill="#5a5ab0" opacity="0.5"/>
<rect x="250.4" y="576.7" width="0.9" height="0.9" fill="#5a5ab0" opacity="0.5"/>
<rect x="263.4" y="576.7" width="0.9" height="0.9" fill="#5a5ab0" opacity="0.5"/>
<rect x="256.3" y="579.6" width="0.9" height="0.9" fill="#5a5ab0" opacity="0.5"/>
<rect x="262.4" y="571.3" width="0.9" height="0.9" fill="#5a5ab0" opacity="0.5"/>
<rect x="280.7" y="577.5" width="0.9" height="0.9" fill="#5a5ab0" opacity="0.5"/>
<rect x="255.3" y="574.3" width="0.9" height="0.9" fill="#5a5ab0" opacity="0.5"/>
<rect x="258.1" y="574.6" width="0.9" height="0.9" fill="#5a5ab0" opacity="0.5"/>
<rect x="268.6" y="566.8" width="0.9" height="0.9" fill="#5a5ab0" opacity="0.5"/>
<rect x="259.4" y="581.7" width="0.9" height="0.9" fill="#5a5ab0" opacity="0.5"/>
<rect x="267.3" y="585.4" width="0.9" height="0.9" fill="#5a5ab0" opacity="0.5"/>
<rect x="245.5" y="572.5" width="0.9" height="0.9" fill="#5a5ab0" opacity="0.5"/>
<rect x="257.1" y="579.4" width="0.9" height="0.9" fill="#5a5ab0" opacity="0.5"/>
<rect x="269.3" y="556.2" width="0.9" height="0.9" fill="#5a5ab0" opacity="0.5"/>
<rect x="269.3" y="564.9" width="0.9" height="0.9" fill="#5a5ab0" opacity="0.5"/>
<rect x="265.8" y="564.6" width="0.9" height="0.9" fill="#5a5ab0" opacity="0.5"/>
<rect x="261.5" y="583.4" width="0.9" height="0.9" fill="#5a5ab0" opacity="0.5"/>
<rect x="258.7" y="576.3" width="0.9" height="0.9" fill="#5a5ab0" opacity="0.5"/>
<rect x="266.8" y="576.0" width="0.9" height="0.9" fill="#5a5ab0" opacity="0.5"/>
<rect x="259.2" y="585.7" width="0.9" height="0.9" fill="#5a5ab0" opacity="0.5"/>
<rect x="268.9" y="572.9" width="0.9" height="0.9" fill="#5a5ab0" opacity="0.5"/>
<rect x="283.3" y="567.0" width="0.9" height="0.9" fill="#5a5ab0" opacity="0.5"/>
<rect x="267.8" y="573.1" width="0.9" height="0.9" fill="#5a5ab0" opacity="0.5"/>
<rect x="261.1" y="579.9" width="0.9" height="0.9" fill="#5a5ab0" opacity="0.5"/>
<rect x="261.9" y="579.5" width="0.9" height="0.9" fill="#5a5ab0" opacity="0.5"/>
<rect x="247.0" y="564.4" width="0.9" height="0.9" fill="#5a5ab0" opacity="0.5"/>
<rect x="265.2" y="568.3" width="0.9" height="0.9" fill="#5a5ab0" opacity="0.5"/>
<rect x="251.3" y="564.7" width="0.9" height="0.9" fill="#5a5ab0" opacity="0.5"/>
<rect x="270.8" y="580.2" width="0.9" height="0.9" fill="#5a5ab0" opacity="0.5"/>
<rect x="272.5" y="568.4" width="0.9" height="0.9" fill="#5a5ab0" opacity="0.5"/>
<rect x="260.0" y="567.0" width="0.9" height="0.9" fill="#5a5ab0" opacity="0.5"/>
<rect x="266.5" y="586.1" width="0.9" height="0.9" fill="#5a5ab0" opacity="0.5"/>
<rect x="252.4" y="585.9" width="0.9" height="0.9" fill="#5a5ab0" opacity="0.5"/>
<rect x="268.4" y="573.8" width="0.9" height="0.9" fill="#5a5ab0" opacity="0.5"/>
<rect x="243.2" y="584.8" width="0.9" height="0.9" fill="#5a5ab0" opacity="0.5"/>
<rect x="259.2" y="570.8" width="0.9" height="0.9" fill="#5a5ab0" opacity="0.5"/>
<rect x="263.4" y="577.9" width="0.9" height="0.9" fill="#5a5ab0" opacity="0.5"/>
<rect x="272.7" y="567.9" width="0.9" height="0.9" fill="#5a5ab0" opacity="0.5"/>
<rect x="269.7" y="585.4" width="0.9" height="0.9" fill="#5a5ab0" opacity="0.5"/>
<rect x="272.3" y="573.7" width="0.9" height="0.9" fill="#5a5ab0" opacity="0.5"/>
<rect x="253.7" y="582.1" width="0.9" height="0.9" fill="#5a5ab0" opacity="0.5"/>
<rect x="261.0" y="575.9" width="0.9" height="0.9" fill="#5a5ab0" opacity="0.5"/>
<rect x="272.1" y="573.2" width="0.9" height="0.9" fill="#5a5ab0" opacity="0.5"/>
<rect x="244.2" y="580.7" width="0.9" height="0.9" fill="#5a5ab0" opacity="0.5"/>
<rect x="262.7" y="570.7" width="0.9" height="0.9" fill="#5a5ab0" opacity="0.5"/>
<rect x="259.9" y="580.8" width="0.9" height="0.9" fill="#5a5ab0" opacity="0.5"/>
<rect x="260.7" y="584.3" width="0.9" height="0.9" fill="#5a5ab0" opacity="0.5"/>
<rect x="259.5" y="582.3" width="0.9" height="0.9" fill="#5a5ab0" opacity="0.5"/>
<rect x="272.7" y="586.3" width="0.9" height="0.9" fill="#5a5ab0" opacity="0.5"/>
<rect x="254.3" y="581.2" width="0.9" height="0.9" fill="#5a5ab0" opacity="0.5"/>
<rect x="244.1" y="567.4" width="0.9" height="0.9" fill="#5a5ab0" opacity="0.5"/>
<rect x="243.3" y="582.5" width="0.9" height="0.9" fill="#5a5ab0" opacity="0.5"/>
<rect x="249.5" y="574.9" width="0.9" height="0.9" fill="#5a5ab0" opacity="0.5"/>
<rect x="258.4" y="574.8" width="0.9" height="0.9" fill="#5a5ab0" opacity="0.5"/>
<rect x="255.0" y="576.6" width="0.9" height="0.9" fill="#5a5ab0" opacity="0.5"/>
<rect x="275.2" y="575.3" width="0.9" height="0.9" fill="#5a5ab0" opacity="0.5"/>
<rect x="264.5" y="582.0" width="0.9" height="0.9" fill="#5a5ab0" opacity="0.5"/>
<rect x="258.3" y="566.2" width="0.9" height="0.9" fill="#5a5ab0" opacity="0.5"/>
<rect x="255.3" y="582.5" width="0.9" height="0.9" fill="#5a5ab0" opacity="0.5"/>
<rect x="246.0" y="570.8" width="0.9" height="0.9" fill="#5a5ab0" opacity="0.5"/>
<rect x="268.6" y="580.5" width="0.9" height="0.9" fill="#5a5ab0" opacity="0.5"/>
<rect x="260.1" y="580.6" width="0.9" height="0.9" fill="#5a5ab0" opacity="0.5"/>
<rect x="261.4" y="566.7" width="0.9" height="0.9" fill="#5a5ab0" opacity="0.5"/>
<rect x="246.7" y="570.5" width="0.9" height="0.9" fill="#5a5ab0" opacity="0.5"/>
<rect x="267.8" y="571.0" width="0.9" height="0.9" fill="#5a5ab0" opacity="0.5"/>
<rect x="252.3" y="569.6" width="0.9" height="0.9" fill="#5a5ab0" opacity="0.5"/>
<rect x="247.0" y="574.2" width="0.9" height="0.9" fill="#5a5ab0" opacity="0.5"/>
<rect x="250.0" y="577.5" width="0.9" height="0.9" fill="#5a5ab0" opacity="0.5"/>
<rect x="254.5" y="561.4" width="0.9" height="0.9" fill="#5a5ab0" opacity="0.5"/>
<rect x="266.2" y="573.1" width="0.9" height="0.9" fill="#5a5ab0" opacity="0.5"/>
<rect x="241.0" y="568.9" width="0.9" height="0.9" fill="#5a5ab0" opacity="0.5"/>
<rect x="262.5" y="571.8" width="0.9" height="0.9" fill="#5a5ab0" opacity="0.5"/>
<rect x="266.6" y="580.2" width="0.9" height="0.9" fill="#5a5ab0" opacity="0.5"/>
<rect x="265.7" y="577.3" width="0.9" height="0.9" fill="#5a5ab0" opacity="0.5"/>
<rect x="271.3" y="579.6" width="0.9" height="0.9" fill="#5a5ab0" opacity="0.5"/>
<rect x="263.8" y="560.4" width="0.9" height="0.9" fill="#5a5ab0" opacity="0.5"/>
<rect x="267.6" y="584.2" width="0.9" height="0.9" fill="#5a5ab0" opacity="0.5"/>
<rect x="257.5" y="571.7" width="0.9" height="0.9" fill="#5a5ab0" opacity="0.5"/>
<rect x="276.5" y="562.7" width="0.9" height="0.9" fill="#5a5ab0" opacity="0.5"/>
<rect x="264.0" y="592.0" width="0.9" height="0.9" fill="#5a5ab0" opacity="0.5"/>
<rect x="252.1" y="579.8" width="0.9" height="0.9" fill="#5a5ab0" opacity="0.5"/>
<rect x="276.0" y="574.2" width="0.9" height="0.9" fill="#5a5ab0" opacity="0.5"/>
<rect x="264.8" y="581.3" width="0.9" height="0.9" fill="#5a5ab0" opacity="0.5"/>
<rect x="252.3" y="574.4" width="0.9" height="0.9" fill="#5a5ab0" opacity="0.5"/>
<rect x="262.5" y="580.8" width="0.9" height="0.9" fill="#5a5ab0" opacity="0.5"/>
<rect x="259.7" y="573.6" width="0.9" height="0.9" fill="#5a5ab0" opacity="0.5"/>
<rect x="251.4" y="572.5" width="0.9" height="0.9" fill="#5a5ab0" opacity="0.5"/>
<rect x="267.6" y="575.7" width="0.9" height="0.9" fill="#5a5ab0" opacity="0.5"/>
<rect x="252.7" y="569.1" width="0.9" height="0.9" fill="#5a5ab0" opacity="0.5"/>
<rect x="282.7" y="583.0" width="0.9" height="0.9" fill="#5a5ab0" opacity="0.5"/>
<rect x="265.4" y="556.8" width="0.9" height="0.9" fill="#5a5ab0" opacity="0.5"/>
<rect x="265.3" y="578.4" width="0.9" height="0.9" fill="#5a5ab0" opacity="0.5"/>
<rect x="274.3" y="578.0" width="0.9" height="0.9" fill="#5a5ab0" opacity="0.5"/>
<rect x="259.4" y="578.7" width="0.9" height="0.9" fill="#5a5ab0" opacity="0.5"/>
<rect x="243.5" y="582.2" width="0.9" height="0.9" fill="#5a5ab0" opacity="0.5"/>
<rect x="262.8" y="570.1" width="0.9" height="0.9" fill="#5a5ab0" opacity="0.5"/>
<rect x="271.3" y="587.7" width="0.9" height="0.9" fill="#5a5ab0" opacity="0.5"/>
<rect x="248.1" y="570.3" width="0.9" height="0.9" fill="#5a5ab0" opacity="0.5"/>
<rect x="262.5" y="576.3" width="0.9" height="0.9" fill="#5a5ab0" opacity="0.5"/>
<rect x="256.6" y="568.2" width="0.9" height="0.9" fill="#5a5ab0" opacity="0.5"/>
<rect x="278.0" y="582.3" width="0.9" height="0.9" fill="#5a5ab0" opacity="0.5"/>
<rect x="249.8" y="565.6" width="0.9" height="0.9" fill="#5a5ab0" opacity="0.5"/>
<rect x="274.5" y="581.9" width="0.9" height="0.9" fill="#5a5ab0" opacity="0.5"/>
<rect x="275.5" y="580.7" width="0.9" height="0.9" fill="#5a5ab0" opacity="0.5"/>
<rect x="252.6" y="576.8" width="0.9" height="0.9" fill="#5a5ab0" opacity="0.5"/>
<rect x="241.6" y="569.8" width="0.9" height="0.9" fill="#5a5ab0" opacity="0.5"/>
<rect x="259.5" y="578.7" width="0.9" height="0.9" fill="#5a5ab0" opacity="0.5"/>
<rect x="253.8" y="574.1" width="0.9" height="0.9" fill="#5a5ab0" opacity="0.5"/>
<rect x="263.9" y="577.6" width="0.9" height="0.9" fill="#5a5ab0" opacity="0.5"/>
<rect x="265.4" y="576.5" width="0.9" height="0.9" fill="#5a5ab0" opacity="0.5"/>
<rect x="257.2" y="580.5" width="0.9" height="0.9" fill="#5a5ab0" opacity="0.5"/>
<rect x="260.4" y="569.2" width="0.9" height="0.9" fill="#5a5ab0" opacity="0.5"/>
<rect x="254.7" y="575.0" width="0.9" height="0.9" fill="#5a5ab0" opacity="0.5"/>
<rect x="259.1" y="576.1" width="0.9" height="0.9" fill="#5a5ab0" opacity="0.5"/>
<rect x="260.0" y="576.2" width="0.9" height="0.9" fill="#5a5ab0" opacity="0.5"/>
<rect x="258.9" y="566.2" width="0.9" height="0.9" fill="#5a5ab0" opacity="0.5"/>
<rect x="263.6" y="582.4" width="0.9" height="0.9" fill="#5a5ab0" opacity="0.5"/>
<rect x="263.7" y="573.7" width="0.9" height="0.9" fill="#5a5ab0" opacity="0.5"/>
<rect x="263.8" y="568.2" width="0.9" height="0.9" fill="#5a5ab0" opacity="0.5"/>
<rect x="243.9" y="575.4" width="0.9" height="0.9" fill="#5a5ab0" opacity="0.5"/>
<rect x="252.1" y="580.2" width="0.9" height="0.9" fill="#5a5ab0" opacity="0.5"/>
<rect x="250.8" y="556.6" width="0.9" height="0.9" fill="#5a5ab0" opacity="0.5"/>
<rect x="251.2" y="586.0" width="0.9" height="0.9" fill="#5a5ab0" opacity="0.5"/>
<rect x="256.8" y="565.4" width="0.9" height="0.9" fill="#5a5ab0" opacity="0.5"/>
<rect x="253.5" y="578.6" width="0.9" height="0.9" fill="#5a5ab0" opacity="0.5"/>
<rect x="264.2" y="576.2" width="0.9" height="0.9" fill="#5a5ab0" opacity="0.5"/>
<rect x="272.6" y="579.9" width="0.9" height="0.9" fill="#5a5ab0" opacity="0.5"/>
<rect x="259.8" y="579.2" width="0.9" height="0.9" fill="#5a5ab0" opacity="0.5"/>
<rect x="274.1" y="581.8" width="0.9" height="0.9" fill="#5a5ab0" opacity="0.5"/>
<rect x="268.7" y="567.4" width="0.9" height="0.9" fill="#5a5ab0" opacity="0.5"/>
<rect x="258.7" y="580.1" width="0.9" height="0.9" fill="#5a5ab0" opacity="0.5"/>
<rect x="257.5" y="582.5" width="0.9" height="0.9" fill="#5a5ab0" opacity="0.5"/>
<rect x="265.1" y="581.4" width="0.9" height="0.9" fill="#5a5ab0" opacity="0.5"/>
<rect x="258.2" y="592.8" width="0.9" height="0.9" fill="#5a5ab0" opacity="0.5"/>
<rect x="270.5" y="573.5" width="0.9" height="0.9" fill="#5a5ab0" opacity="0.5"/>
<rect x="260.8" y="593.2" width="0.9" height="0.9" fill="#5a5ab0" opacity="0.5"/>
<rect x="257.1" y="581.1" width="0.9" height="0.9" fill="#5a5ab0" opacity="0.5"/>
<rect x="268.3" y="575.0" width="0.9" height="0.9" fill="#5a5ab0" opacity="0.5"/>
<rect x="250.1" y="576.3" width="0.9" height="0.9" fill="#5a5ab0" opacity="0.5"/>
<rect x="263.1" y="582.9" width="0.9" height="0.9" fill="#5a5ab0" opacity="0.5"/>
<rect x="266.7" y="575.2" width="0.9" height="0.9" fill="#5a5ab0" opacity="0.5"/>
<rect x="267.3" y="578.8" width="0.9" height="0.9" fill="#5a5ab0" opacity="0.5"/>
<rect x="261.8" y="575.4" width="0.9" height="0.9" fill="#5a5ab0" opacity="0.5"/>
<rect x="257.9" y="579.8" width="0.9" height="0.9" fill="#5a5ab0" opacity="0.5"/>
<rect x="251.0" y="570.6" width="0.9" height="0.9" fill="#5a5ab0" opacity="0.5"/>
<rect x="260.0" y="564.8" width="0.9" height="0.9" fill="#5a5ab0" opacity="0.5"/>
<rect x="256.3" y="560.9" width="0.9" height="0.9" fill="#5a5ab0" opacity="0.5"/>
<rect x="254.2" y="579.0" width="0.9" height="0.9" fill="#5a5ab0" opacity="0.5"/>
<rect x="264.8" y="574.6" width="0.9" height="0.9" fill="#5a5ab0" opacity="0.5"/>
<rect x="258.0" y="565.1" width="0.9" height="0.9" fill="#5a5ab0" opacity="0.5"/>
<rect x="275.5" y="578.6" width="0.9" height="0.9" fill="#5a5ab0" opacity="0.5"/>
<rect x="269.3" y="568.8" width="0.9" height="0.9" fill="#5a5ab0" opacity="0.5"/>
<rect x="258.4" y="562.3" width="0.9" height="0.9" fill="#5a5ab0" opacity="0.5"/>
<rect x="266.6" y="581.5" width="0.9" height="0.9" fill="#5a5ab0" opacity="0.5"/>
<rect x="243.9" y="574.6" width="0.9" height="0.9" fill="#5a5ab0" opacity="0.5"/>
<rect x="265.4" y="562.7" width="0.9" height="0.9" fill="#5a5ab0" opacity="0.5"/>
<rect x="244.5" y="567.5" width="0.9" height="0.9" fill="#5a5ab0" opacity="0.5"/>
<rect x="254.7" y="565.2" width="0.9" height="0.9" fill="#5a5ab0" opacity="0.5"/>
<rect x="260.3" y="576.7" width="0.9" height="0.9" fill="#5a5ab0" opacity="0.5"/>
<rect x="265.4" y="579.9" width="0.9" height="0.9" fill="#5a5ab0" opacity="0.5"/>
<rect x="272.8" y="583.2" width="0.9" height="0.9" fill="#5a5ab0" opacity="0.5"/>
<rect x="248.8" y="571.5" width="0.9" height="0.9" fill="#5a5ab0" opacity="0.5"/>
<rect x="251.0" y="567.5" width="0.9" height="0.9" fill="#5a5ab0" opacity="0.5"/>
<rect x="259.3" y="575.0" width="0.9" height="0.9" fill="#5a5ab0" opacity="0.5"/>
<rect x="264.2" y="563.9" width="0.9" height="0.9" fill="#5a5ab0" opacity="0.5"/>
<rect x="249.5" y="574.8" width="0.9" height="0.9" fill="#5a5ab0" opacity="0.5"/>
<rect x="258.3" y="572.8" width="0.9" height="0.9" fill="#5a5ab0" opacity="0.5"/>
<rect x="259.5" y="569.7" width="0.9" height="0.9" fill="#5a5ab0" opacity="0.5"/>
<rect x="266.0" y="577.5" width="0.9" height="0.9" fill="#5a5ab0" opacity="0.5"/>
<rect x="259.3" y="570.3" width="0.9" height="0.9" fill="#5a5ab0" opacity="0.5"/>
<rect x="258.5" y="555.9" width="0.9" height="0.9" fill="#5a5ab0" opacity="0.5"/>
<rect x="251.7" y="575.3" width="0.9" height="0.9" fill="#5a5ab0" opacity="0.5"/>
<rect x="247.2" y="576.4" width="0.9" height="0.9" fill="#5a5ab0" opacity="0.5"/>
<rect x="261.3" y="565.4" width="0.9" height="0.9" fill="#5a5ab0" opacity="0.5"/>
<rect x="257.9" y="572.8" width="0.9" height="0.9" fill="#5a5ab0" opacity="0.5"/>
<rect x="263.9" y="579.3" width="0.9" height="0.9" fill="#5a5ab0" opacity="0.5"/>
<rect x="259.7" y="569.0" width="0.9" height="0.9" fill="#5a5ab0" opacity="0.5"/>
<rect x="258.8" y="574.5" width="0.9" height="0.9" fill="#5a5ab0" opacity="0.5"/>
<rect x="266.2" y="577.1" width="0.9" height="0.9" fill="#5a5ab0" opacity="0.5"/>
<rect x="253.9" y="565.5" width="0.9" height="0.9" fill="#5a5ab0" opacity="0.5"/>
<rect x="256.8" y="569.8" width="0.9" height="0.9" fill="#5a5ab0" opacity="0.5"/>
<rect x="250.5" y="574.2" width="0.9" height="0.9" fill="#5a5ab0" opacity="0.5"/>
<rect x="255.8" y="575.7" width="0.9" height="0.9" fill="#5a5ab0" opacity="0.5"/>
<rect x="264.4" y="572.1" width="0.9" height="0.9" fill="#5a5ab0" opacity="0.5"/>
<rect x="279.8" y="572.7" width="0.9" height="0.9" fill="#5a5ab0" opacity="0.5"/>
<rect x="269.4" y="575.9" width="0.9" height="0.9" fill="#5a5ab0" opacity="0.5"/>
<rect x="277.6" y="572.2" width="0.9" height="0.9" fill="#6868b0" opacity="0.45"/>
<rect x="268.2" y="591.9" width="0.9" height="0.9" fill="#6868b0" opacity="0.45"/>
<rect x="273.6" y="599.6" width="0.9" height="0.9" fill="#6868b0" opacity="0.45"/>
<rect x="275.8" y="597.1" width="0.9" height="0.9" fill="#6868b0" opacity="0.45"/>
<rect x="274.6" y="588.8" width="0.9" height="0.9" fill="#6868b0" opacity="0.45"/>
<rect x="274.5" y="581.9" width="0.9" height="0.9" fill="#6868b0" opacity="0.45"/>
<rect x="277.9" y="582.4" width="0.9" height="0.9" fill="#6868b0" opacity="0.45"/>
<rect x="273.2" y="605.9" width="0.9" height="0.9" fill="#6868b0" opacity="0.45"/>
<rect x="270.9" y="590.1" width="0.9" height="0.9" fill="#6868b0" opacity="0.45"/>
<rect x="277.8" y="590.2" width="0.9" height="0.9" fill="#6868b0" opacity="0.45"/>
<rect x="268.0" y="591.9" width="0.9" height="0.9" fill="#6868b0" opacity="0.45"/>
<rect x="274.9" y="595.3" width="0.9" height="0.9" fill="#6868b0" opacity="0.45"/>
<rect x="268.1" y="603.1" width="0.9" height="0.9" fill="#6868b0" opacity="0.45"/>
<rect x="280.3" y="590.1" width="0.9" height="0.9" fill="#6868b0" opacity="0.45"/>
<rect x="273.3" y="586.8" width="0.9" height="0.9" fill="#6868b0" opacity="0.45"/>
<rect x="279.1" y="584.7" width="0.9" height="0.9" fill="#6868b0" opacity="0.45"/>
<rect x="275.4" y="586.4" width="0.9" height="0.9" fill="#6868b0" opacity="0.45"/>
<rect x="268.5" y="595.4" width="0.9" height="0.9" fill="#6868b0" opacity="0.45"/>
<rect x="278.7" y="589.9" width="0.9" height="0.9" fill="#6868b0" opacity="0.45"/>
<rect x="268.6" y="596.1" width="0.9" height="0.9" fill="#6868b0" opacity="0.45"/>
<rect x="271.8" y="592.3" width="0.9" height="0.9" fill="#6868b0" opacity="0.45"/>
<rect x="279.6" y="598.5" width="0.9" height="0.9" fill="#6868b0" opacity="0.45"/>
<rect x="272.0" y="595.9" width="0.9" height="0.9" fill="#6868b0" opacity="0.45"/>
<rect x="268.8" y="589.7" width="0.9" height="0.9" fill="#6868b0" opacity="0.45"/>
<rect x="263.3" y="603.4" width="0.9" height="0.9" fill="#6868b0" opacity="0.45"/>
<rect x="278.8" y="580.9" width="0.9" height="0.9" fill="#6868b0" opacity="0.45"/>
<rect x="264.5" y="577.8" width="0.9" height="0.9" fill="#6868b0" opacity="0.45"/>
<rect x="277.9" y="586.6" width="0.9" height="0.9" fill="#6868b0" opacity="0.45"/>
<rect x="271.7" y="587.7" width="0.9" height="0.9" fill="#6868b0" opacity="0.45"/>
<rect x="271.4" y="581.8" width="0.9" height="0.9" fill="#6868b0" opacity="0.45"/>
<rect x="272.1" y="579.2" width="0.9" height="0.9" fill="#6868b0" opacity="0.45"/>
<rect x="271.6" y="592.3" width="0.9" height="0.9" fill="#6868b0" opacity="0.45"/>
<rect x="274.3" y="588.3" width="0.9" height="0.9" fill="#6868b0" opacity="0.45"/>
<rect x="267.5" y="591.2" width="0.9" height="0.9" fill="#6868b0" opacity="0.45"/>
<rect x="269.6" y="601.7" width="0.9" height="0.9" fill="#6868b0" opacity="0.45"/>
<rect x="275.8" y="589.1" width="0.9" height="0.9" fill="#6868b0" opacity="0.45"/>
<rect x="269.6" y="584.7" width="0.9" height="0.9" fill="#6868b0" opacity="0.45"/>
<rect x="267.3" y="587.4" width="0.9" height="0.9" fill="#6868b0" opacity="0.45"/>
<rect x="273.5" y="593.9" width="0.9" height="0.9" fill="#6868b0" opacity="0.45"/>
<rect x="274.8" y="605.7" width="0.9" height="0.9" fill="#6868b0" opacity="0.45"/>
<rect x="268.5" y="590.1" width="0.9" height="0.9" fill="#6868b0" opacity="0.45"/>
<rect x="286.0" y="576.0" width="0.9" height="0.9" fill="#6868b0" opacity="0.45"/>
<rect x="269.4" y="591.3" width="0.9" height="0.9" fill="#6868b0" opacity="0.45"/>
<rect x="272.8" y="593.1" width="0.9" height="0.9" fill="#6868b0" opacity="0.45"/>
<rect x="270.8" y="592.7" width="0.9" height="0.9" fill="#6868b0" opacity="0.45"/>
<rect x="272.3" y="595.8" width="0.9" height="0.9" fill="#6868b0" opacity="0.45"/>
<rect x="262.5" y="583.4" width="0.9" height="0.9" fill="#6868b0" opacity="0.45"/>
<rect x="272.0" y="582.3" width="0.9" height="0.9" fill="#6868b0" opacity="0.45"/>
<rect x="266.8" y="594.7" width="0.9" height="0.9" fill="#6868b0" opacity="0.45"/>
<rect x="268.8" y="594.8" width="0.9" height="0.9" fill="#6868b0" opacity="0.45"/>
<rect x="275.7" y="592.3" width="0.9" height="0.9" fill="#6868b0" opacity="0.45"/>
<rect x="274.5" y="589.2" width="0.9" height="0.9" fill="#6868b0" opacity="0.45"/>
<rect x="265.0" y="589.8" width="0.9" height="0.9" fill="#6868b0" opacity="0.45"/>
<rect x="274.3" y="586.0" width="0.9" height="0.9" fill="#6868b0" opacity="0.45"/>
<rect x="271.5" y="595.6" width="0.9" height="0.9" fill="#6868b0" opacity="0.45"/>
<rect x="267.6" y="594.8" width="0.9" height="0.9" fill="#6868b0" opacity="0.45"/>
<rect x="281.3" y="585.8" width="0.9" height="0.9" fill="#6868b0" opacity="0.45"/>
<rect x="272.7" y="588.9" width="0.9" height="0.9" fill="#6868b0" opacity="0.45"/>
<rect x="279.7" y="592.4" width="0.9" height="0.9" fill="#6868b0" opacity="0.45"/>
<rect x="276.5" y="584.8" width="0.9" height="0.9" fill="#6868b0" opacity="0.45"/>
<rect x="271.9" y="589.9" width="0.9" height="0.9" fill="#6868b0" opacity="0.45"/>
<rect x="263.1" y="600.8" width="0.9" height="0.9" fill="#6868b0" opacity="0.45"/>
<rect x="276.5" y="576.9" width="0.9" height="0.9" fill="#6868b0" opacity="0.45"/>
<rect x="275.7" y="589.0" width="0.9" height="0.9" fill="#6868b0" opacity="0.45"/>
<rect x="274.2" y="592.7" width="0.9" height="0.9" fill="#6868b0" opacity="0.45"/>
<rect x="264.5" y="588.4" width="0.9" height="0.9" fill="#6868b0" opacity="0.45"/>
<rect x="279.5" y="585.7" width="0.9" height="0.9" fill="#6868b0" opacity="0.45"/>
<rect x="266.9" y="579.8" width="0.9" height="0.9" fill="#6868b0" opacity="0.45"/>
<rect x="265.9" y="592.5" width="0.9" height="0.9" fill="#6868b0" opacity="0.45"/>
<rect x="280.5" y="593.2" width="0.9" height="0.9" fill="#6868b0" opacity="0.45"/>
<rect x="273.2" y="606.8" width="0.9" height="0.9" fill="#6868b0" opacity="0.45"/>
<rect x="269.4" y="584.9" width="0.9" height="0.9" fill="#6868b0" opacity="0.45"/>
<rect x="274.6" y="594.1" width="0.9" height="0.9" fill="#6868b0" opacity="0.45"/>
<rect x="266.9" y="581.2" width="0.9" height="0.9" fill="#6868b0" opacity="0.45"/>
<rect x="273.5" y="591.9" width="0.9" height="0.9" fill="#6868b0" opacity="0.45"/>
<rect x="265.5" y="588.5" width="0.9" height="0.9" fill="#6868b0" opacity="0.45"/>
<rect x="269.3" y="593.5" width="0.9" height="0.9" fill="#6868b0" opacity="0.45"/>
<rect x="271.4" y="589.4" width="0.9" height="0.9" fill="#6868b0" opacity="0.45"/>
<rect x="270.2" y="597.9" width="0.9" height="0.9" fill="#6868b0" opacity="0.45"/>
<rect x="279.0" y="587.2" width="0.9" height="0.9" fill="#6868b0" opacity="0.45"/>
<rect x="276.2" y="584.3" width="0.9" height="0.9" fill="#6868b0" opacity="0.45"/>
<rect x="272.4" y="595.6" width="0.9" height="0.9" fill="#6868b0" opacity="0.45"/>
<rect x="279.6" y="587.1" width="0.9" height="0.9" fill="#6868b0" opacity="0.45"/>
<rect x="271.6" y="591.5" width="0.9" height="0.9" fill="#6868b0" opacity="0.45"/>
<rect x="264.5" y="590.1" width="0.9" height="0.9" fill="#6868b0" opacity="0.45"/>
<rect x="268.6" y="592.8" width="0.9" height="0.9" fill="#6868b0" opacity="0.45"/>
<rect x="266.4" y="575.2" width="0.9" height="0.9" fill="#6868b0" opacity="0.45"/>
<rect x="272.2" y="592.0" width="0.9" height="0.9" fill="#6868b0" opacity="0.45"/>
<rect x="269.3" y="596.7" width="0.9" height="0.9" fill="#6868b0" opacity="0.45"/>
<rect x="270.6" y="585.5" width="0.9" height="0.9" fill="#6868b0" opacity="0.45"/>
<rect x="274.4" y="578.2" width="0.9" height="0.9" fill="#6868b0" opacity="0.45"/>
<rect x="268.6" y="589.8" width="0.9" height="0.9" fill="#6868b0" opacity="0.45"/>
<rect x="276.2" y="588.8" width="0.9" height="0.9" fill="#6868b0" opacity="0.45"/>
<rect x="273.5" y="585.1" width="0.9" height="0.9" fill="#6868b0" opacity="0.45"/>
<rect x="273.5" y="602.5" width="0.9" height="0.9" fill="#6868b0" opacity="0.45"/>
<rect x="268.8" y="590.1" width="0.9" height="0.9" fill="#6868b0" opacity="0.45"/>
<rect x="272.9" y="597.7" width="0.9" height="0.9" fill="#6868b0" opacity="0.45"/>
<rect x="265.8" y="574.2" width="0.9" height="0.9" fill="#6868b0" opacity="0.45"/>
<rect x="275.0" y="596.0" width="0.9" height="0.9" fill="#6868b0" opacity="0.45"/>
<rect x="273.0" y="591.9" width="0.9" height="0.9" fill="#6868b0" opacity="0.45"/>
<rect x="276.6" y="592.8" width="0.9" height="0.9" fill="#6868b0" opacity="0.45"/>
<rect x="280.3" y="580.7" width="0.9" height="0.9" fill="#6868b0" opacity="0.45"/>
<rect x="270.1" y="564.2" width="0.9" height="0.9" fill="#6868b0" opacity="0.45"/>
<rect x="276.1" y="587.2" width="0.9" height="0.9" fill="#6868b0" opacity="0.45"/>
<rect x="276.6" y="606.2" width="0.9" height="0.9" fill="#6868b0" opacity="0.45"/>
<rect x="272.0" y="588.1" width="0.9" height="0.9" fill="#6868b0" opacity="0.45"/>
<rect x="269.5" y="583.7" width="0.9" height="0.9" fill="#6868b0" opacity="0.45"/>
<rect x="268.8" y="594.8" width="0.9" height="0.9" fill="#6868b0" opacity="0.45"/>
<rect x="272.2" y="590.5" width="0.9" height="0.9" fill="#6868b0" opacity="0.45"/>
<rect x="271.1" y="596.9" width="0.9" height="0.9" fill="#6868b0" opacity="0.45"/>
<rect x="274.5" y="588.9" width="0.9" height="0.9" fill="#6868b0" opacity="0.45"/>
<rect x="275.3" y="588.9" width="0.9" height="0.9" fill="#6868b0" opacity="0.45"/>
<rect x="266.2" y="600.9" width="0.9" height="0.9" fill="#6868b0" opacity="0.45"/>
<rect x="274.3" y="582.8" width="0.9" height="0.9" fill="#6868b0" opacity="0.45"/>
<rect x="277.4" y="592.6" width="0.9" height="0.9" fill="#6868b0" opacity="0.45"/>
<rect x="264.2" y="602.1" width="0.9" height="0.9" fill="#6868b0" opacity="0.45"/>
<rect x="273.7" y="596.7" width="0.9" height="0.9" fill="#6868b0" opacity="0.45"/>
<rect x="273.0" y="588.9" width="0.9" height="0.9" fill="#6868b0" opacity="0.45"/>
<rect x="264.3" y="597.3" width="0.9" height="0.9" fill="#6868b0" opacity="0.45"/>
<rect x="272.2" y="587.9" width="0.9" height="0.9" fill="#6868b0" opacity="0.45"/>
<rect x="273.8" y="590.6" width="0.9" height="0.9" fill="#6868b0" opacity="0.45"/>
<rect x="275.4" y="587.2" width="0.9" height="0.9" fill="#6868b0" opacity="0.45"/>
<rect x="271.8" y="574.0" width="0.9" height="0.9" fill="#6868b0" opacity="0.45"/>
<rect x="269.9" y="595.1" width="0.9" height="0.9" fill="#6868b0" opacity="0.45"/>
<rect x="278.7" y="587.3" width="0.9" height="0.9" fill="#6868b0" opacity="0.45"/>
<rect x="271.4" y="601.9" width="0.9" height="0.9" fill="#6868b0" opacity="0.45"/>
<rect x="270.4" y="595.5" width="0.9" height="0.9" fill="#6868b0" opacity="0.45"/>
<rect x="280.4" y="590.3" width="0.9" height="0.9" fill="#6868b0" opacity="0.45"/>
<rect x="278.1" y="584.7" width="0.9" height="0.9" fill="#6868b0" opacity="0.45"/>
<rect x="273.0" y="589.4" width="0.9" height="0.9" fill="#6868b0" opacity="0.45"/>
<rect x="272.6" y="598.5" width="0.9" height="0.9" fill="#6868b0" opacity="0.45"/>
<rect x="283.9" y="585.0" width="0.9" height="0.9" fill="#6868b0" opacity="0.45"/>
<rect x="269.1" y="593.7" width="0.9" height="0.9" fill="#6868b0" opacity="0.45"/>
<rect x="266.7" y="593.7" width="0.9" height="0.9" fill="#6868b0" opacity="0.45"/>
<rect x="274.9" y="587.9" width="0.9" height="0.9" fill="#6868b0" opacity="0.45"/>
<rect x="274.7" y="578.4" width="0.9" height="0.9" fill="#6868b0" opacity="0.45"/>
<rect x="275.8" y="578.4" width="0.9" height="0.9" fill="#6868b0" opacity="0.45"/>
<rect x="268.5" y="585.8" width="0.9" height="0.9" fill="#6868b0" opacity="0.45"/>
<rect x="270.0" y="596.4" width="0.9" height="0.9" fill="#6868b0" opacity="0.45"/>
<rect x="272.4" y="587.0" width="0.9" height="0.9" fill="#6868b0" opacity="0.45"/>
<rect x="274.7" y="601.9" width="0.9" height="0.9" fill="#6868b0" opacity="0.45"/>
<rect x="272.0" y="592.7" width="0.9" height="0.9" fill="#6868b0" opacity="0.45"/>
<rect x="278.2" y="592.0" width="0.9" height="0.9" fill="#6868b0" opacity="0.45"/>
<rect x="283.0" y="575.1" width="0.9" height="0.9" fill="#6868b0" opacity="0.45"/>
<rect x="271.8" y="593.1" width="0.9" height="0.9" fill="#6868b0" opacity="0.45"/>
<rect x="276.8" y="595.0" width="0.9" height="0.9" fill="#6868b0" opacity="0.45"/>
<rect x="270.6" y="582.1" width="0.9" height="0.9" fill="#6868b0" opacity="0.45"/>
<rect x="272.5" y="597.8" width="0.9" height="0.9" fill="#6868b0" opacity="0.45"/>
<rect x="266.6" y="582.3" width="0.9" height="0.9" fill="#6868b0" opacity="0.45"/>
<rect x="271.9" y="575.5" width="0.9" height="0.9" fill="#6868b0" opacity="0.45"/>
<rect x="270.7" y="586.7" width="0.9" height="0.9" fill="#6868b0" opacity="0.45"/>
<rect x="274.3" y="584.7" width="0.9" height="0.9" fill="#6868b0" opacity="0.45"/>
<rect x="267.6" y="587.0" width="0.9" height="0.9" fill="#6868b0" opacity="0.45"/>
<rect x="271.8" y="585.0" width="0.9" height="0.9" fill="#6868b0" opacity="0.45"/>
<rect x="272.1" y="595.6" width="0.9" height="0.9" fill="#6868b0" opacity="0.45"/>
<rect x="277.9" y="602.8" width="0.9" height="0.9" fill="#6868b0" opacity="0.45"/>
<rect x="268.1" y="586.9" width="0.9" height="0.9" fill="#6868b0" opacity="0.45"/>
<rect x="259.6" y="604.2" width="0.9" height="0.9" fill="#6868b0" opacity="0.45"/>
<rect x="268.4" y="589.7" width="0.9" height="0.9" fill="#6868b0" opacity="0.45"/>
<rect x="274.6" y="579.8" width="0.9" height="0.9" fill="#6868b0" opacity="0.45"/>
<rect x="274.3" y="589.8" width="0.9" height="0.9" fill="#6868b0" opacity="0.45"/>
<rect x="262.9" y="592.2" width="0.9" height="0.9" fill="#6868b0" opacity="0.45"/>
<rect x="278.0" y="576.0" width="0.9" height="0.9" fill="#6868b0" opacity="0.45"/>
<rect x="276.0" y="591.6" width="0.9" height="0.9" fill="#6868b0" opacity="0.45"/>
<rect x="274.4" y="593.3" width="0.9" height="0.9" fill="#6868b0" opacity="0.45"/>
<rect x="276.5" y="571.7" width="0.9" height="0.9" fill="#3030c8" opacity="0.5"/>
<rect x="273.7" y="570.5" width="0.9" height="0.9" fill="#3030c8" opacity="0.5"/>
<rect x="272.7" y="568.1" width="0.9" height="0.9" fill="#3030c8" opacity="0.5"/>
<rect x="267.3" y="583.4" width="0.9" height="0.9" fill="#3030c8" opacity="0.5"/>
<rect x="270.9" y="572.1" width="0.9" height="0.9" fill="#3030c8" opacity="0.5"/>
<rect x="260.6" y="568.3" width="0.9" height="0.9" fill="#3030c8" opacity="0.5"/>
<rect x="269.3" y="578.6" width="0.9" height="0.9" fill="#3030c8" opacity="0.5"/>
<rect x="270.8" y="576.1" width="0.9" height="0.9" fill="#3030c8" opacity="0.5"/>
<rect x="267.7" y="581.1" width="0.9" height="0.9" fill="#3030c8" opacity="0.5"/>
<rect x="265.5" y="569.7" width="0.9" height="0.9" fill="#3030c8" opacity="0.5"/>
<rect x="273.8" y="573.4" width="0.9" height="0.9" fill="#3030c8" opacity="0.5"/>
<rect x="266.2" y="569.5" width="0.9" height="0.9" fill="#3030c8" opacity="0.5"/>
<rect x="266.3" y="576.7" width="0.9" height="0.9" fill="#3030c8" opacity="0.5"/>
<rect x="270.3" y="565.7" width="0.9" height="0.9" fill="#3030c8" opacity="0.5"/>
<rect x="270.8" y="574.1" width="0.9" height="0.9" fill="#3030c8" opacity="0.5"/>
<rect x="261.5" y="577.6" width="0.9" height="0.9" fill="#3030c8" opacity="0.5"/>
<rect x="266.2" y="571.0" width="0.9" height="0.9" fill="#3030c8" opacity="0.5"/>
<rect x="273.2" y="580.9" width="0.9" height="0.9" fill="#3030c8" opacity="0.5"/>
<rect x="263.5" y="575.6" width="0.9" height="0.9" fill="#3030c8" opacity="0.5"/>
<rect x="262.3" y="586.9" width="0.9" height="0.9" fill="#3030c8" opacity="0.5"/>
<rect x="264.8" y="580.2" width="0.9" height="0.9" fill="#3030c8" opacity="0.5"/>
<rect x="263.8" y="577.9" width="0.9" height="0.9" fill="#3030c8" opacity="0.5"/>
<rect x="282.4" y="557.8" width="0.9" height="0.9" fill="#3030c8" opacity="0.5"/>
<rect x="265.2" y="576.0" width="0.9" height="0.9" fill="#3030c8" opacity="0.5"/>
<rect x="267.4" y="569.0" width="0.9" height="0.9" fill="#3030c8" opacity="0.5"/>
<rect x="282.0" y="573.5" width="0.9" height="0.9" fill="#3030c8" opacity="0.5"/>
<rect x="257.3" y="578.1" width="0.9" height="0.9" fill="#3030c8" opacity="0.5"/>
<rect x="256.8" y="579.9" width="0.9" height="0.9" fill="#3030c8" opacity="0.5"/>
<rect x="264.2" y="573.9" width="0.9" height="0.9" fill="#3030c8" opacity="0.5"/>
<rect x="276.2" y="573.7" width="0.9" height="0.9" fill="#3030c8" opacity="0.5"/>
<rect x="259.0" y="562.8" width="0.9" height="0.9" fill="#3030c8" opacity="0.5"/>
<rect x="275.7" y="577.4" width="0.9" height="0.9" fill="#3030c8" opacity="0.5"/>
<rect x="262.7" y="578.2" width="0.9" height="0.9" fill="#3030c8" opacity="0.5"/>
<rect x="271.2" y="576.9" width="0.9" height="0.9" fill="#3030c8" opacity="0.5"/>
<rect x="253.3" y="571.2" width="0.9" height="0.9" fill="#3030c8" opacity="0.5"/>
<rect x="273.9" y="577.4" width="0.9" height="0.9" fill="#3030c8" opacity="0.5"/>
<rect x="273.7" y="558.3" width="0.9" height="0.9" fill="#3030c8" opacity="0.5"/>
<rect x="269.1" y="576.0" width="0.9" height="0.9" fill="#3030c8" opacity="0.5"/>
<rect x="284.6" y="567.3" width="0.9" height="0.9" fill="#3030c8" opacity="0.5"/>
<rect x="265.9" y="573.2" width="0.9" height="0.9" fill="#3030c8" opacity="0.5"/>
<rect x="273.8" y="570.3" width="0.9" height="0.9" fill="#3030c8" opacity="0.5"/>
<rect x="275.5" y="568.3" width="0.9" height="0.9" fill="#3030c8" opacity="0.5"/>
<rect x="269.7" y="569.8" width="0.9" height="0.9" fill="#3030c8" opacity="0.5"/>
<rect x="269.0" y="568.9" width="0.9" height="0.9" fill="#3030c8" opacity="0.5"/>
<rect x="257.6" y="579.6" width="0.9" height="0.9" fill="#3030c8" opacity="0.5"/>
<rect x="270.0" y="569.6" width="0.9" height="0.9" fill="#3030c8" opacity="0.5"/>
<rect x="269.3" y="578.9" width="0.9" height="0.9" fill="#3030c8" opacity="0.5"/>
<rect x="261.6" y="572.3" width="0.9" height="0.9" fill="#3030c8" opacity="0.5"/>
<rect x="271.5" y="576.2" width="0.9" height="0.9" fill="#3030c8" opacity="0.5"/>
<rect x="265.8" y="560.4" width="0.9" height="0.9" fill="#3030c8" opacity="0.5"/>
<rect x="276.1" y="575.0" width="0.9" height="0.9" fill="#3030c8" opacity="0.5"/>
<rect x="268.1" y="571.3" width="0.9" height="0.9" fill="#3030c8" opacity="0.5"/>
<rect x="269.7" y="570.4" width="0.9" height="0.9" fill="#3030c8" opacity="0.5"/>
<rect x="261.3" y="568.6" width="0.9" height="0.9" fill="#3030c8" opacity="0.5"/>
<rect x="264.1" y="569.3" width="0.9" height="0.9" fill="#3030c8" opacity="0.5"/>
<rect x="260.5" y="576.8" width="0.9" height="0.9" fill="#3030c8" opacity="0.5"/>
<rect x="259.5" y="577.0" width="0.9" height="0.9" fill="#3030c8" opacity="0.5"/>
<rect x="261.4" y="575.1" width="0.9" height="0.9" fill="#3030c8" opacity="0.5"/>
<rect x="276.9" y="574.2" width="0.9" height="0.9" fill="#3030c8" opacity="0.5"/>
<rect x="263.2" y="573.3" width="0.9" height="0.9" fill="#3030c8" opacity="0.5"/>
<rect x="269.0" y="562.6" width="0.9" height="0.9" fill="#3030c8" opacity="0.5"/>
<rect x="264.1" y="574.0" width="0.9" height="0.9" fill="#3030c8" opacity="0.5"/>
<rect x="265.0" y="573.5" width="0.9" height="0.9" fill="#3030c8" opacity="0.5"/>
<rect x="272.8" y="577.6" width="0.9" height="0.9" fill="#3030c8" opacity="0.5"/>
<rect x="273.9" y="576.5" width="0.9" height="0.9" fill="#3030c8" opacity="0.5"/>
<rect x="266.1" y="572.9" width="0.9" height="0.9" fill="#3030c8" opacity="0.5"/>
<rect x="266.2" y="571.1" width="0.9" height="0.9" fill="#3030c8" opacity="0.5"/>
<rect x="266.8" y="562.7" width="0.9" height="0.9" fill="#3030c8" opacity="0.5"/>
<rect x="265.8" y="572.9" width="0.9" height="0.9" fill="#3030c8" opacity="0.5"/>
<rect x="261.7" y="572.9" width="0.9" height="0.9" fill="#3030c8" opacity="0.5"/>
<rect x="271.4" y="572.0" width="0.9" height="0.9" fill="#3030c8" opacity="0.5"/>
<rect x="281.5" y="557.4" width="0.9" height="0.9" fill="#3030c8" opacity="0.5"/>
<rect x="266.7" y="562.0" width="0.9" height="0.9" fill="#3030c8" opacity="0.5"/>
<rect x="274.4" y="588.9" width="0.9" height="0.9" fill="#3030c8" opacity="0.5"/>
<rect x="251.7" y="573.8" width="0.9" height="0.9" fill="#3030c8" opacity="0.5"/>
<rect x="271.4" y="571.2" width="0.9" height="0.9" fill="#3030c8" opacity="0.5"/>
<rect x="271.6" y="559.5" width="0.9" height="0.9" fill="#3030c8" opacity="0.5"/>
<rect x="273.5" y="575.2" width="0.9" height="0.9" fill="#3030c8" opacity="0.5"/>
<rect x="268.1" y="569.5" width="0.9" height="0.9" fill="#3030c8" opacity="0.5"/>
<rect x="272.1" y="570.1" width="0.9" height="0.9" fill="#3030c8" opacity="0.5"/>
<rect x="269.5" y="569.9" width="0.9" height="0.9" fill="#3030c8" opacity="0.5"/>
<rect x="253.4" y="572.8" width="0.9" height="0.9" fill="#3030c8" opacity="0.5"/>
<rect x="269.3" y="577.5" width="0.9" height="0.9" fill="#3030c8" opacity="0.5"/>
<rect x="262.3" y="572.8" width="0.9" height="0.9" fill="#3030c8" opacity="0.5"/>
<rect x="272.0" y="573.9" width="0.9" height="0.9" fill="#3030c8" opacity="0.5"/>
<rect x="276.1" y="584.9" width="0.9" height="0.9" fill="#3030c8" opacity="0.5"/>
<rect x="262.1" y="561.5" width="0.9" height="0.9" fill="#3030c8" opacity="0.5"/>
<rect x="273.6" y="582.2" width="0.9" height="0.9" fill="#3030c8" opacity="0.5"/>
<rect x="274.0" y="577.9" width="0.9" height="0.9" fill="#3030c8" opacity="0.5"/>
<rect x="264.0" y="568.7" width="0.9" height="0.9" fill="#3030c8" opacity="0.5"/>
<rect x="273.8" y="567.5" width="0.9" height="0.9" fill="#3030c8" opacity="0.5"/>
<rect x="256.2" y="567.0" width="0.9" height="0.9" fill="#3030c8" opacity="0.5"/>
<rect x="284.2" y="584.5" width="0.9" height="0.9" fill="#3030c8" opacity="0.5"/>
<rect x="263.5" y="568.6" width="0.9" height="0.9" fill="#3030c8" opacity="0.5"/>
<rect x="269.5" y="568.5" width="0.9" height="0.9" fill="#3030c8" opacity="0.5"/>
<rect x="276.5" y="572.5" width="0.9" height="0.9" fill="#3030c8" opacity="0.5"/>
<rect x="260.9" y="580.9" width="0.9" height="0.9" fill="#3030c8" opacity="0.5"/>
<rect x="264.2" y="574.3" width="0.9" height="0.9" fill="#3030c8" opacity="0.5"/>
<rect x="267.9" y="571.1" width="0.9" height="0.9" fill="#3030c8" opacity="0.5"/>
<rect x="270.1" y="568.8" width="0.9" height="0.9" fill="#3030c8" opacity="0.5"/>
<rect x="256.0" y="559.8" width="0.9" height="0.9" fill="#3030c8" opacity="0.5"/>
<rect x="259.8" y="568.4" width="0.9" height="0.9" fill="#3030c8" opacity="0.5"/>
<rect x="267.9" y="573.3" width="0.9" height="0.9" fill="#3030c8" opacity="0.5"/>
<rect x="271.6" y="573.7" width="0.9" height="0.9" fill="#3030c8" opacity="0.5"/>
<rect x="262.8" y="568.7" width="0.9" height="0.9" fill="#3030c8" opacity="0.5"/>
<rect x="254.2" y="572.0" width="0.9" height="0.9" fill="#3030c8" opacity="0.5"/>
<rect x="271.2" y="576.2" width="0.9" height="0.9" fill="#3030c8" opacity="0.5"/>
<rect x="267.2" y="572.0" width="0.9" height="0.9" fill="#3030c8" opacity="0.5"/>
<rect x="274.1" y="573.1" width="0.9" height="0.9" fill="#3030c8" opacity="0.5"/>
<rect x="272.8" y="576.5" width="0.9" height="0.9" fill="#3030c8" opacity="0.5"/>
<rect x="269.4" y="580.8" width="0.9" height="0.9" fill="#3030c8" opacity="0.5"/>
<rect x="264.3" y="570.8" width="0.9" height="0.9" fill="#3030c8" opacity="0.5"/>
<rect x="262.7" y="568.2" width="0.9" height="0.9" fill="#3030c8" opacity="0.5"/>
<rect x="278.1" y="583.6" width="0.9" height="0.9" fill="#3030c8" opacity="0.5"/>
<rect x="268.1" y="576.4" width="0.9" height="0.9" fill="#3030c8" opacity="0.5"/>
<rect x="275.6" y="577.8" width="0.9" height="0.9" fill="#3030c8" opacity="0.5"/>
<rect x="275.8" y="565.4" width="0.9" height="0.9" fill="#3030c8" opacity="0.5"/>
<rect x="263.8" y="575.7" width="0.9" height="0.9" fill="#3030c8" opacity="0.5"/>
<rect x="277.3" y="573.6" width="0.9" height="0.9" fill="#3030c8" opacity="0.5"/>
<rect x="262.4" y="570.9" width="0.9" height="0.9" fill="#3030c8" opacity="0.5"/>
<rect x="263.7" y="567.9" width="0.9" height="0.9" fill="#3030c8" opacity="0.5"/>
<rect x="277.8" y="569.2" width="0.9" height="0.9" fill="#3030c8" opacity="0.5"/>
<rect x="268.1" y="586.0" width="0.9" height="0.9" fill="#3030c8" opacity="0.5"/>
<rect x="275.7" y="575.0" width="0.9" height="0.9" fill="#3030c8" opacity="0.5"/>
<rect x="264.0" y="575.5" width="0.9" height="0.9" fill="#3030c8" opacity="0.5"/>
<rect x="278.5" y="576.7" width="0.9" height="0.9" fill="#3030c8" opacity="0.5"/>
<rect x="276.2" y="573.6" width="0.9" height="0.9" fill="#3030c8" opacity="0.5"/>
<rect x="271.4" y="571.8" width="0.9" height="0.9" fill="#3030c8" opacity="0.5"/>
<rect x="270.8" y="580.8" width="0.9" height="0.9" fill="#3030c8" opacity="0.5"/>
<rect x="258.7" y="572.6" width="0.9" height="0.9" fill="#3030c8" opacity="0.5"/>
<rect x="269.6" y="569.6" width="0.9" height="0.9" fill="#3030c8" opacity="0.5"/>
<rect x="266.0" y="577.7" width="0.9" height="0.9" fill="#3030c8" opacity="0.5"/>
<rect x="281.0" y="576.8" width="0.9" height="0.9" fill="#3030c8" opacity="0.5"/>
<rect x="270.1" y="563.7" width="0.9" height="0.9" fill="#3030c8" opacity="0.5"/>
<rect x="280.5" y="573.5" width="0.9" height="0.9" fill="#3030c8" opacity="0.5"/>
<rect x="267.8" y="566.3" width="0.9" height="0.9" fill="#3030c8" opacity="0.5"/>
<rect x="267.6" y="566.4" width="0.9" height="0.9" fill="#3030c8" opacity="0.5"/>
<rect x="268.5" y="575.8" width="0.9" height="0.9" fill="#3030c8" opacity="0.5"/>
<rect x="268.2" y="574.7" width="0.9" height="0.9" fill="#3030c8" opacity="0.5"/>
<rect x="262.5" y="581.6" width="0.9" height="0.9" fill="#3030c8" opacity="0.5"/>
<rect x="263.8" y="562.1" width="0.9" height="0.9" fill="#3030c8" opacity="0.5"/>
<rect x="266.8" y="568.4" width="0.9" height="0.9" fill="#3030c8" opacity="0.5"/>
<rect x="261.4" y="570.9" width="0.9" height="0.9" fill="#3030c8" opacity="0.5"/>
<rect x="269.9" y="565.9" width="0.9" height="0.9" fill="#3030c8" opacity="0.5"/>
<rect x="267.1" y="581.6" width="0.9" height="0.9" fill="#3030c8" opacity="0.5"/>
<rect x="272.4" y="572.1" width="0.9" height="0.9" fill="#3030c8" opacity="0.5"/>
<rect x="268.8" y="572.3" width="0.9" height="0.9" fill="#3030c8" opacity="0.5"/>
<rect x="267.7" y="577.4" width="0.9" height="0.9" fill="#3030c8" opacity="0.5"/>
<rect x="267.4" y="558.6" width="0.9" height="0.9" fill="#3030c8" opacity="0.5"/>
<rect x="267.9" y="567.7" width="0.9" height="0.9" fill="#3030c8" opacity="0.5"/>
<rect x="272.2" y="569.3" width="0.9" height="0.9" fill="#3030c8" opacity="0.5"/>
<rect x="269.0" y="586.1" width="0.9" height="0.9" fill="#3030c8" opacity="0.5"/>
<rect x="261.2" y="566.3" width="0.9" height="0.9" fill="#3030c8" opacity="0.5"/>
<rect x="258.8" y="558.6" width="0.9" height="0.9" fill="#3030c8" opacity="0.5"/>
<rect x="255.8" y="575.2" width="0.9" height="0.9" fill="#3030c8" opacity="0.5"/>
<rect x="263.9" y="561.8" width="0.9" height="0.9" fill="#3030c8" opacity="0.5"/>
<rect x="258.4" y="576.7" width="0.9" height="0.9" fill="#3030c8" opacity="0.5"/>
<rect x="263.0" y="570.8" width="0.9" height="0.9" fill="#3030c8" opacity="0.5"/>
<rect x="270.1" y="581.1" width="0.9" height="0.9" fill="#3030c8" opacity="0.5"/>
<rect x="280.6" y="579.2" width="0.9" height="0.9" fill="#3030c8" opacity="0.5"/>
<rect x="268.9" y="574.1" width="0.9" height="0.9" fill="#3030c8" opacity="0.5"/>
<rect x="279.7" y="581.6" width="0.9" height="0.9" fill="#3030c8" opacity="0.5"/>
<rect x="266.0" y="575.7" width="0.9" height="0.9" fill="#3030c8" opacity="0.5"/>
<rect x="269.9" y="573.3" width="0.9" height="0.9" fill="#3030c8" opacity="0.5"/>
<rect x="264.7" y="565.0" width="0.9" height="0.9" fill="#3030c8" opacity="0.5"/>
<rect x="264.5" y="563.7" width="0.9" height="0.9" fill="#3030c8" opacity="0.5"/>
<rect x="276.0" y="576.2" width="0.9" height="0.9" fill="#3030c8" opacity="0.5"/>
<rect x="260.2" y="581.4" width="0.9" height="0.9" fill="#3030c8" opacity="0.5"/>
<rect x="273.8" y="561.5" width="0.9" height="0.9" fill="#3030c8" opacity="0.5"/>
<rect x="280.0" y="577.9" width="0.9" height="0.9" fill="#3030c8" opacity="0.5"/>
<rect x="281.4" y="565.6" width="0.9" height="0.9" fill="#3030c8" opacity="0.5"/>
<rect x="271.4" y="575.5" width="0.9" height="0.9" fill="#3030c8" opacity="0.5"/>
<rect x="269.3" y="574.0" width="0.9" height="0.9" fill="#3030c8" opacity="0.5"/>
<rect x="274.8" y="564.0" width="0.9" height="0.9" fill="#3030c8" opacity="0.5"/>
<rect x="259.9" y="564.6" width="0.9" height="0.9" fill="#3030c8" opacity="0.5"/>
<rect x="264.4" y="569.4" width="0.9" height="0.9" fill="#3030c8" opacity="0.5"/>
<rect x="270.4" y="574.6" width="0.9" height="0.9" fill="#3030c8" opacity="0.5"/>
<rect x="268.2" y="568.9" width="0.9" height="0.9" fill="#3030c8" opacity="0.5"/>
<rect x="265.1" y="578.7" width="0.9" height="0.9" fill="#3030c8" opacity="0.5"/>
<rect x="273.0" y="573.6" width="0.9" height="0.9" fill="#3030c8" opacity="0.5"/>
<rect x="265.9" y="582.3" width="0.9" height="0.9" fill="#3030c8" opacity="0.5"/>
<rect x="264.1" y="576.9" width="0.9" height="0.9" fill="#3030c8" opacity="0.5"/>
<rect x="275.5" y="571.4" width="0.9" height="0.9" fill="#3030c8" opacity="0.5"/>
<rect x="273.4" y="566.3" width="0.9" height="0.9" fill="#3030c8" opacity="0.5"/>
<rect x="274.6" y="574.2" width="0.9" height="0.9" fill="#3030c8" opacity="0.5"/>
<rect x="257.7" y="577.0" width="0.9" height="0.9" fill="#3030c8" opacity="0.5"/>
<rect x="262.2" y="580.7" width="0.9" height="0.9" fill="#3030c8" opacity="0.5"/>
<rect x="263.6" y="572.0" width="0.9" height="0.9" fill="#3030c8" opacity="0.5"/>
<rect x="269.8" y="571.0" width="0.9" height="0.9" fill="#3030c8" opacity="0.5"/>
<rect x="269.7" y="569.7" width="0.9" height="0.9" fill="#3030c8" opacity="0.5"/>
<rect x="272.4" y="573.0" width="0.9" height="0.9" fill="#3030c8" opacity="0.5"/>
<rect x="269.4" y="556.5" width="0.9" height="0.9" fill="#3030c8" opacity="0.5"/>
<rect x="275.5" y="573.2" width="0.9" height="0.9" fill="#3030c8" opacity="0.5"/>
<rect x="256.4" y="573.6" width="0.9" height="0.9" fill="#3030c8" opacity="0.5"/>
<rect x="271.0" y="579.4" width="0.9" height="0.9" fill="#3030c8" opacity="0.5"/>
<rect x="261.0" y="582.3" width="0.9" height="0.9" fill="#3030c8" opacity="0.5"/>
<rect x="267.0" y="587.4" width="0.9" height="0.9" fill="#3030c8" opacity="0.5"/>
<rect x="267.0" y="577.1" width="0.9" height="0.9" fill="#3030c8" opacity="0.5"/>
<rect x="265.6" y="566.3" width="0.9" height="0.9" fill="#3030c8" opacity="0.5"/>
<rect x="275.1" y="578.4" width="0.9" height="0.9" fill="#3030c8" opacity="0.5"/>
<rect x="278.0" y="578.1" width="0.9" height="0.9" fill="#3030c8" opacity="0.5"/>
<rect x="264.3" y="563.0" width="0.9" height="0.9" fill="#3030c8" opacity="0.5"/>
<rect x="263.8" y="568.9" width="0.9" height="0.9" fill="#3030c8" opacity="0.5"/>
<rect x="262.7" y="576.5" width="0.9" height="0.9" fill="#3030c8" opacity="0.5"/>
<rect x="270.1" y="571.4" width="0.9" height="0.9" fill="#3030c8" opacity="0.5"/>
<rect x="269.1" y="572.1" width="0.9" height="0.9" fill="#3030c8" opacity="0.5"/>
<rect x="269.4" y="577.5" width="0.9" height="0.9" fill="#3030c8" opacity="0.5"/>
<rect x="274.2" y="568.9" width="0.9" height="0.9" fill="#3030c8" opacity="0.5"/>
<rect x="258.2" y="581.6" width="0.9" height="0.9" fill="#3030c8" opacity="0.5"/>
<rect x="268.7" y="579.6" width="0.9" height="0.9" fill="#3030c8" opacity="0.5"/>
<rect x="257.3" y="571.0" width="0.9" height="0.9" fill="#3030c8" opacity="0.5"/>
<rect x="268.2" y="564.4" width="0.9" height="0.9" fill="#3030c8" opacity="0.5"/>
<rect x="264.6" y="577.3" width="0.9" height="0.9" fill="#3030c8" opacity="0.5"/>
<rect x="275.0" y="582.6" width="0.9" height="0.9" fill="#3030c8" opacity="0.5"/>
<rect x="262.4" y="564.6" width="0.9" height="0.9" fill="#3030c8" opacity="0.5"/>
<rect x="271.4" y="578.6" width="0.9" height="0.9" fill="#3030c8" opacity="0.5"/>
<rect x="269.3" y="565.2" width="0.9" height="0.9" fill="#3030c8" opacity="0.5"/>
<rect x="273.1" y="577.8" width="0.9" height="0.9" fill="#3030c8" opacity="0.5"/>
<rect x="271.6" y="570.1" width="0.9" height="0.9" fill="#3030c8" opacity="0.5"/>
<rect x="270.0" y="577.7" width="0.9" height="0.9" fill="#3030c8" opacity="0.5"/>
<rect x="264.4" y="561.9" width="0.9" height="0.9" fill="#3030c8" opacity="0.5"/>
<rect x="270.1" y="575.9" width="0.9" height="0.9" fill="#3030c8" opacity="0.5"/>
<rect x="268.1" y="578.3" width="0.9" height="0.9" fill="#3030c8" opacity="0.5"/>
<rect x="264.2" y="572.5" width="0.9" height="0.9" fill="#3030c8" opacity="0.5"/>
<rect x="266.0" y="576.4" width="0.9" height="0.9" fill="#3030c8" opacity="0.5"/>
<rect x="278.4" y="571.5" width="0.9" height="0.9" fill="#3030c8" opacity="0.5"/>
<rect x="281.4" y="582.2" width="0.9" height="0.9" fill="#3030c8" opacity="0.5"/>
<rect x="273.1" y="576.5" width="0.9" height="0.9" fill="#3030c8" opacity="0.5"/>
<rect x="279.5" y="571.9" width="0.9" height="0.9" fill="#3030c8" opacity="0.5"/>
<rect x="267.3" y="566.6" width="0.9" height="0.9" fill="#3030c8" opacity="0.5"/>
<rect x="271.1" y="581.1" width="0.9" height="0.9" fill="#3030c8" opacity="0.5"/>
<rect x="271.5" y="575.5" width="0.9" height="0.9" fill="#3030c8" opacity="0.5"/>
<rect x="266.7" y="574.0" width="0.9" height="0.9" fill="#3030c8" opacity="0.5"/>
<rect x="258.7" y="579.3" width="0.9" height="0.9" fill="#3030c8" opacity="0.5"/>
<rect x="265.3" y="566.4" width="0.9" height="0.9" fill="#3030c8" opacity="0.5"/>
<rect x="263.1" y="568.1" width="0.9" height="0.9" fill="#3030c8" opacity="0.5"/>
<rect x="273.6" y="579.3" width="0.9" height="0.9" fill="#3030c8" opacity="0.5"/>
<rect x="259.2" y="578.6" width="0.9" height="0.9" fill="#3030c8" opacity="0.5"/>
<rect x="273.8" y="569.5" width="0.9" height="0.9" fill="#3030c8" opacity="0.5"/>
<rect x="258.3" y="568.5" width="0.9" height="0.9" fill="#3030c8" opacity="0.5"/>
<rect x="263.9" y="575.1" width="0.9" height="0.9" fill="#3030c8" opacity="0.5"/>
<rect x="265.7" y="560.8" width="0.9" height="0.9" fill="#3030c8" opacity="0.5"/>
<rect x="269.5" y="563.8" width="0.9" height="0.9" fill="#3030c8" opacity="0.5"/>
<rect x="273.9" y="565.8" width="0.9" height="0.9" fill="#3030c8" opacity="0.5"/>
<rect x="263.5" y="567.9" width="0.9" height="0.9" fill="#3030c8" opacity="0.5"/>
<rect x="264.5" y="580.8" width="0.9" height="0.9" fill="#3030c8" opacity="0.5"/>
<rect x="273.5" y="576.6" width="0.9" height="0.9" fill="#3030c8" opacity="0.5"/>
<rect x="270.1" y="563.7" width="0.9" height="0.9" fill="#3030c8" opacity="0.5"/>
<rect x="264.6" y="569.7" width="0.9" height="0.9" fill="#3030c8" opacity="0.5"/>
<rect x="261.6" y="576.1" width="0.9" height="0.9" fill="#3030c8" opacity="0.5"/>
<rect x="263.2" y="568.7" width="0.9" height="0.9" fill="#3030c8" opacity="0.5"/>
<rect x="261.2" y="560.7" width="0.9" height="0.9" fill="#3030c8" opacity="0.5"/>
<rect x="271.9" y="581.0" width="0.9" height="0.9" fill="#3030c8" opacity="0.5"/>
<rect x="269.1" y="567.1" width="0.9" height="0.9" fill="#3030c8" opacity="0.5"/>
<rect x="250.4" y="574.0" width="0.9" height="0.9" fill="#3030c8" opacity="0.5"/>
<rect x="275.9" y="574.8" width="0.9" height="0.9" fill="#3030c8" opacity="0.5"/>
<rect x="274.0" y="581.9" width="0.9" height="0.9" fill="#3030c8" opacity="0.5"/>
<rect x="275.3" y="570.4" width="0.9" height="0.9" fill="#3030c8" opacity="0.5"/>
<rect x="274.8" y="577.7" width="0.9" height="0.9" fill="#3030c8" opacity="0.5"/>
<rect x="258.0" y="570.6" width="0.9" height="0.9" fill="#3030c8" opacity="0.5"/>
<g filter="url(#fb)">
<ellipse cx="270.2" cy="571.2" rx="8.0" ry="7.0" fill="#1a1ae0" opacity="0.6"/>
<ellipse cx="270.8" cy="570.4" rx="5.6" ry="5.0" fill="#0000f0"/>
<ellipse cx="300.2" cy="577" rx="3.5" ry="9" fill="#f6d0a0" opacity="0.5"/>
<ellipse cx="302.0" cy="569.2" rx="5.8" ry="5.0" fill="#e88830" opacity="0.85"/>
</g>
<rect x="264.6" y="570.4" width="1.1" height="1.1" fill="#0000e8" opacity="0.7"/>
<rect x="273.0" y="566.5" width="1.1" height="1.1" fill="#0000e8" opacity="0.7"/>
<rect x="262.0" y="576.0" width="1.1" height="1.1" fill="#0000e8" opacity="0.7"/>
<rect x="272.2" y="576.7" width="1.1" height="1.1" fill="#0000e8" opacity="0.7"/>
<rect x="265.0" y="575.0" width="1.1" height="1.1" fill="#0000e8" opacity="0.7"/>
<rect x="279.3" y="578.8" width="1.1" height="1.1" fill="#0000e8" opacity="0.7"/>
<rect x="269.7" y="571.9" width="1.1" height="1.1" fill="#0000e8" opacity="0.7"/>
<rect x="270.0" y="574.8" width="1.1" height="1.1" fill="#0000e8" opacity="0.7"/>
<rect x="275.0" y="571.1" width="1.1" height="1.1" fill="#0000e8" opacity="0.7"/>
<rect x="264.9" y="573.8" width="1.1" height="1.1" fill="#0000e8" opacity="0.7"/>
<rect x="268.6" y="573.3" width="1.1" height="1.1" fill="#0000e8" opacity="0.7"/>
<rect x="271.7" y="577.3" width="1.1" height="1.1" fill="#0000e8" opacity="0.7"/>
<rect x="275.4" y="569.0" width="1.1" height="1.1" fill="#0000e8" opacity="0.7"/>
<rect x="272.1" y="577.9" width="1.1" height="1.1" fill="#0000e8" opacity="0.7"/>
<rect x="268.3" y="572.5" width="1.1" height="1.1" fill="#0000e8" opacity="0.7"/>
<rect x="275.6" y="575.8" width="1.1" height="1.1" fill="#0000e8" opacity="0.7"/>
<rect x="272.8" y="565.5" width="1.1" height="1.1" fill="#0000e8" opacity="0.7"/>
<rect x="265.3" y="571.8" width="1.1" height="1.1" fill="#0000e8" opacity="0.7"/>
<rect x="272.2" y="581.0" width="1.1" height="1.1" fill="#0000e8" opacity="0.7"/>
<rect x="267.0" y="575.4" width="1.1" height="1.1" fill="#0000e8" opacity="0.7"/>
<rect x="273.8" y="564.1" width="1.1" height="1.1" fill="#0000e8" opacity="0.7"/>
<rect x="267.2" y="571.5" width="1.1" height="1.1" fill="#0000e8" opacity="0.7"/>
<rect x="268.5" y="570.2" width="1.1" height="1.1" fill="#0000e8" opacity="0.7"/>
<rect x="272.6" y="567.6" width="1.1" height="1.1" fill="#0000e8" opacity="0.7"/>
<rect x="272.6" y="568.3" width="1.1" height="1.1" fill="#0000e8" opacity="0.7"/>
<rect x="268.3" y="572.9" width="1.1" height="1.1" fill="#0000e8" opacity="0.7"/>
<rect x="268.2" y="571.9" width="1.1" height="1.1" fill="#0000e8" opacity="0.7"/>
<rect x="277.3" y="570.9" width="1.1" height="1.1" fill="#0000e8" opacity="0.7"/>
<rect x="270.0" y="573.7" width="1.1" height="1.1" fill="#0000e8" opacity="0.7"/>
<rect x="269.1" y="575.1" width="1.1" height="1.1" fill="#0000e8" opacity="0.7"/>
<rect x="265.2" y="573.3" width="1.1" height="1.1" fill="#0000e8" opacity="0.7"/>
<rect x="268.4" y="567.6" width="1.1" height="1.1" fill="#0000e8" opacity="0.7"/>
<rect x="278.0" y="567.4" width="1.1" height="1.1" fill="#0000e8" opacity="0.7"/>
<rect x="278.0" y="573.4" width="1.1" height="1.1" fill="#0000e8" opacity="0.7"/>
<rect x="276.7" y="566.9" width="1.1" height="1.1" fill="#0000e8" opacity="0.7"/>
<rect x="275.6" y="576.6" width="1.1" height="1.1" fill="#0000e8" opacity="0.7"/>
<rect x="270.1" y="570.3" width="1.1" height="1.1" fill="#0000e8" opacity="0.7"/>
<rect x="280.9" y="571.5" width="1.1" height="1.1" fill="#0000e8" opacity="0.7"/>
<rect x="268.8" y="568.3" width="1.1" height="1.1" fill="#0000e8" opacity="0.7"/>
<rect x="272.5" y="572.1" width="1.1" height="1.1" fill="#0000e8" opacity="0.7"/>
<rect x="271.3" y="577.7" width="1.1" height="1.1" fill="#0000e8" opacity="0.7"/>
<rect x="269.2" y="572.7" width="1.1" height="1.1" fill="#0000e8" opacity="0.7"/>
<rect x="276.7" y="566.8" width="1.1" height="1.1" fill="#0000e8" opacity="0.7"/>
<rect x="275.0" y="578.1" width="1.1" height="1.1" fill="#0000e8" opacity="0.7"/>
<rect x="264.9" y="566.4" width="1.1" height="1.1" fill="#0000e8" opacity="0.7"/>
<rect x="266.2" y="563.4" width="1.1" height="1.1" fill="#0000e8" opacity="0.7"/>
<rect x="272.5" y="563.4" width="1.1" height="1.1" fill="#0000e8" opacity="0.7"/>
<rect x="272.7" y="576.6" width="1.1" height="1.1" fill="#0000e8" opacity="0.7"/>
<rect x="263.8" y="569.5" width="1.1" height="1.1" fill="#0000e8" opacity="0.7"/>
<rect x="262.5" y="573.9" width="1.1" height="1.1" fill="#0000e8" opacity="0.7"/>
<rect x="267.5" y="569.7" width="1.1" height="1.1" fill="#0000e8" opacity="0.7"/>
<rect x="270.8" y="573.0" width="1.1" height="1.1" fill="#0000e8" opacity="0.7"/>
<rect x="269.1" y="570.9" width="1.1" height="1.1" fill="#0000e8" opacity="0.7"/>
<rect x="268.3" y="571.3" width="1.1" height="1.1" fill="#0000e8" opacity="0.7"/>
<rect x="265.7" y="571.1" width="1.1" height="1.1" fill="#0000e8" opacity="0.7"/>
<rect x="262.5" y="568.8" width="1.1" height="1.1" fill="#0000e8" opacity="0.7"/>
<rect x="278.6" y="571.1" width="1.1" height="1.1" fill="#0000e8" opacity="0.7"/>
<rect x="265.3" y="571.8" width="1.1" height="1.1" fill="#0000e8" opacity="0.7"/>
<rect x="266.5" y="564.2" width="1.1" height="1.1" fill="#0000e8" opacity="0.7"/>
<rect x="267.5" y="573.7" width="1.1" height="1.1" fill="#0000e8" opacity="0.7"/>
<rect x="272.2" y="570.4" width="1.1" height="1.1" fill="#0000e8" opacity="0.7"/>
<rect x="266.7" y="566.5" width="1.1" height="1.1" fill="#0000e8" opacity="0.7"/>
<rect x="276.3" y="571.8" width="1.1" height="1.1" fill="#0000e8" opacity="0.7"/>
<rect x="266.6" y="562.4" width="1.1" height="1.1" fill="#0000e8" opacity="0.7"/>
<rect x="264.8" y="580.7" width="1.1" height="1.1" fill="#0000e8" opacity="0.7"/>
<rect x="265.8" y="570.5" width="1.1" height="1.1" fill="#0000e8" opacity="0.7"/>
<rect x="271.5" y="570.2" width="1.1" height="1.1" fill="#0000e8" opacity="0.7"/>
<rect x="269.4" y="565.3" width="1.1" height="1.1" fill="#0000e8" opacity="0.7"/>
<rect x="266.2" y="577.6" width="1.1" height="1.1" fill="#0000e8" opacity="0.7"/>
<rect x="267.4" y="574.2" width="1.1" height="1.1" fill="#0000e8" opacity="0.7"/>
<rect x="263.5" y="569.7" width="1.1" height="1.1" fill="#0000e8" opacity="0.7"/>
<rect x="271.7" y="574.9" width="1.1" height="1.1" fill="#0000e8" opacity="0.7"/>
<rect x="265.9" y="573.2" width="1.1" height="1.1" fill="#0000e8" opacity="0.7"/>
<rect x="272.2" y="567.8" width="1.1" height="1.1" fill="#0000e8" opacity="0.7"/>
<rect x="272.6" y="567.2" width="1.1" height="1.1" fill="#0000e8" opacity="0.7"/>
<rect x="267.3" y="570.7" width="1.1" height="1.1" fill="#0000e8" opacity="0.7"/>
<rect x="259.2" y="570.4" width="1.1" height="1.1" fill="#0000e8" opacity="0.7"/>
<rect x="266.4" y="564.9" width="1.1" height="1.1" fill="#0000e8" opacity="0.7"/>
<rect x="268.8" y="573.9" width="1.1" height="1.1" fill="#0000e8" opacity="0.7"/>
<rect x="268.9" y="575.9" width="1.1" height="1.1" fill="#0000e8" opacity="0.7"/>
<rect x="265.7" y="565.6" width="1.1" height="1.1" fill="#0000e8" opacity="0.7"/>
<rect x="277.1" y="572.4" width="1.1" height="1.1" fill="#0000e8" opacity="0.7"/>
<rect x="274.6" y="567.5" width="1.1" height="1.1" fill="#0000e8" opacity="0.7"/>
<rect x="274.0" y="571.8" width="1.1" height="1.1" fill="#0000e8" opacity="0.7"/>
<rect x="273.3" y="570.9" width="1.1" height="1.1" fill="#0000e8" opacity="0.7"/>
<rect x="275.7" y="568.2" width="1.1" height="1.1" fill="#0000e8" opacity="0.7"/>
<rect x="266.6" y="564.9" width="1.1" height="1.1" fill="#0000e8" opacity="0.7"/>
<rect x="275.5" y="567.8" width="1.1" height="1.1" fill="#0000e8" opacity="0.7"/>
<rect x="266.2" y="567.0" width="1.1" height="1.1" fill="#0000e8" opacity="0.7"/>
<rect x="268.7" y="565.7" width="1.1" height="1.1" fill="#0000e8" opacity="0.7"/>
<rect x="269.4" y="568.3" width="1.1" height="1.1" fill="#0000e8" opacity="0.7"/>
<rect x="268.3" y="567.0" width="1.1" height="1.1" fill="#0000e8" opacity="0.7"/>
<rect x="270.8" y="569.0" width="1.1" height="1.1" fill="#0000e8" opacity="0.7"/>
<rect x="271.1" y="571.8" width="1.1" height="1.1" fill="#0000e8" opacity="0.7"/>
<rect x="272.0" y="562.0" width="1.1" height="1.1" fill="#0000e8" opacity="0.7"/>
<rect x="268.4" y="567.6" width="1.1" height="1.1" fill="#0000e8" opacity="0.7"/>
<rect x="273.9" y="564.5" width="1.1" height="1.1" fill="#0000e8" opacity="0.7"/>
<rect x="267.6" y="569.6" width="1.1" height="1.1" fill="#0000e8" opacity="0.7"/>
<rect x="269.2" y="574.8" width="1.1" height="1.1" fill="#0000e8" opacity="0.7"/>
<rect x="268.7" y="574.7" width="1.1" height="1.1" fill="#0000e8" opacity="0.7"/>
<rect x="264.4" y="563.6" width="1.1" height="1.1" fill="#0000e8" opacity="0.7"/>
<rect x="275.7" y="572.5" width="1.1" height="1.1" fill="#0000e8" opacity="0.7"/>
<rect x="272.6" y="571.3" width="1.1" height="1.1" fill="#0000e8" opacity="0.7"/>
<rect x="272.6" y="565.9" width="1.1" height="1.1" fill="#0000e8" opacity="0.7"/>
<rect x="274.6" y="568.7" width="1.1" height="1.1" fill="#0000e8" opacity="0.7"/>
<rect x="274.7" y="571.2" width="1.1" height="1.1" fill="#0000e8" opacity="0.7"/>
<rect x="262.3" y="565.7" width="1.1" height="1.1" fill="#0000e8" opacity="0.7"/>
<rect x="275.3" y="570.3" width="1.1" height="1.1" fill="#0000e8" opacity="0.7"/>
<rect x="268.9" y="571.8" width="1.1" height="1.1" fill="#0000e8" opacity="0.7"/>
<rect x="268.8" y="568.6" width="1.1" height="1.1" fill="#0000e8" opacity="0.7"/>
<rect x="271.0" y="571.4" width="1.1" height="1.1" fill="#0000e8" opacity="0.7"/>
<rect x="277.0" y="571.0" width="1.1" height="1.1" fill="#0000e8" opacity="0.7"/>
<rect x="278.5" y="578.0" width="1.1" height="1.1" fill="#0000e8" opacity="0.7"/>
<rect x="277.8" y="575.0" width="1.1" height="1.1" fill="#0000e8" opacity="0.7"/>
<rect x="271.1" y="571.3" width="1.1" height="1.1" fill="#0000e8" opacity="0.7"/>
<rect x="270.0" y="567.9" width="1.1" height="1.1" fill="#0000e8" opacity="0.7"/>
<rect x="270.3" y="568.2" width="1.1" height="1.1" fill="#0000e8" opacity="0.7"/>
<rect x="277.5" y="572.9" width="1.1" height="1.1" fill="#0000e8" opacity="0.7"/>
<rect x="268.7" y="563.1" width="1.1" height="1.1" fill="#0000e8" opacity="0.7"/>
<rect x="270.4" y="569.1" width="1.1" height="1.1" fill="#0000e8" opacity="0.7"/>
<rect x="266.0" y="566.3" width="1.1" height="1.1" fill="#0000e8" opacity="0.7"/>
<rect x="261.1" y="573.1" width="1.1" height="1.1" fill="#0000e8" opacity="0.7"/>
<rect x="270.3" y="581.1" width="1.1" height="1.1" fill="#0000e8" opacity="0.7"/>
<rect x="270.5" y="570.2" width="1.1" height="1.1" fill="#0000e8" opacity="0.7"/>
<rect x="276.7" y="571.3" width="1.1" height="1.1" fill="#0000e8" opacity="0.7"/>
<rect x="271.3" y="569.3" width="1.1" height="1.1" fill="#0000e8" opacity="0.7"/>
<rect x="268.1" y="576.8" width="1.1" height="1.1" fill="#0000e8" opacity="0.7"/>
<rect x="274.8" y="577.7" width="1.1" height="1.1" fill="#0000e8" opacity="0.7"/>
<rect x="269.1" y="570.9" width="1.1" height="1.1" fill="#0000e8" opacity="0.7"/>
<rect x="266.9" y="574.7" width="1.1" height="1.1" fill="#0000e8" opacity="0.7"/>
<rect x="264.7" y="573.1" width="1.1" height="1.1" fill="#0000e8" opacity="0.7"/>
<rect x="275.2" y="576.4" width="1.1" height="1.1" fill="#0000e8" opacity="0.7"/>
<rect x="266.7" y="575.2" width="1.1" height="1.1" fill="#0000e8" opacity="0.7"/>
<rect x="267.6" y="567.8" width="1.1" height="1.1" fill="#0000e8" opacity="0.7"/>
<rect x="265.0" y="575.4" width="1.1" height="1.1" fill="#0000e8" opacity="0.7"/>
<rect x="277.5" y="568.4" width="1.1" height="1.1" fill="#0000e8" opacity="0.7"/>
<rect x="267.4" y="569.4" width="1.1" height="1.1" fill="#0000e8" opacity="0.7"/>
<rect x="281.1" y="574.8" width="1.1" height="1.1" fill="#0000e8" opacity="0.7"/>
<rect x="268.3" y="563.6" width="1.1" height="1.1" fill="#0000e8" opacity="0.7"/>
<rect x="267.8" y="575.5" width="1.1" height="1.1" fill="#0000e8" opacity="0.7"/>
<rect x="278.4" y="569.7" width="1.1" height="1.1" fill="#0000e8" opacity="0.7"/>
<rect x="267.7" y="568.8" width="1.1" height="1.1" fill="#0000e8" opacity="0.7"/>
<rect x="262.7" y="574.4" width="1.1" height="1.1" fill="#0000e8" opacity="0.7"/>
<rect x="266.0" y="575.1" width="1.1" height="1.1" fill="#0000e8" opacity="0.7"/>
<rect x="263.4" y="565.7" width="1.1" height="1.1" fill="#0000e8" opacity="0.7"/>
<rect x="271.8" y="567.7" width="1.1" height="1.1" fill="#0000e8" opacity="0.7"/>
<rect x="273.9" y="570.8" width="1.1" height="1.1" fill="#0000e8" opacity="0.7"/>
<rect x="265.7" y="573.3" width="1.1" height="1.1" fill="#0000e8" opacity="0.7"/>
<rect x="274.1" y="563.1" width="1.1" height="1.1" fill="#0000e8" opacity="0.7"/>
<rect x="278.3" y="572.8" width="1.1" height="1.1" fill="#0000e8" opacity="0.7"/>
<rect x="273.8" y="563.4" width="1.1" height="1.1" fill="#0000e8" opacity="0.7"/>
<rect x="267.6" y="569.4" width="1.1" height="1.1" fill="#0000e8" opacity="0.7"/>
<rect x="275.1" y="565.0" width="1.1" height="1.1" fill="#0000e8" opacity="0.7"/>
<rect x="266.9" y="562.7" width="1.1" height="1.1" fill="#0000e8" opacity="0.7"/>
<rect x="269.6" y="572.2" width="1.1" height="1.1" fill="#0000e8" opacity="0.7"/>
<rect x="263.5" y="568.4" width="1.1" height="1.1" fill="#0000e8" opacity="0.7"/>
<rect x="272.7" y="577.1" width="1.1" height="1.1" fill="#0000e8" opacity="0.7"/>
<rect x="273.4" y="569.6" width="1.1" height="1.1" fill="#0000e8" opacity="0.7"/>
<rect x="265.7" y="567.1" width="1.1" height="1.1" fill="#0000e8" opacity="0.7"/>
<rect x="267.8" y="571.4" width="1.1" height="1.1" fill="#0000e8" opacity="0.7"/>
<rect x="270.4" y="577.5" width="1.1" height="1.1" fill="#0000e8" opacity="0.7"/>
<rect x="271.8" y="566.5" width="1.1" height="1.1" fill="#0000e8" opacity="0.7"/>
<rect x="277.1" y="574.6" width="1.1" height="1.1" fill="#0000e8" opacity="0.7"/>
<rect x="271.0" y="567.9" width="1.1" height="1.1" fill="#0000e8" opacity="0.7"/>
<rect x="262.7" y="566.7" width="1.1" height="1.1" fill="#0000e8" opacity="0.7"/>
<rect x="274.4" y="567.6" width="1.1" height="1.1" fill="#0000e8" opacity="0.7"/>
<rect x="265.1" y="571.6" width="1.1" height="1.1" fill="#0000e8" opacity="0.7"/>
<rect x="271.6" y="573.2" width="1.1" height="1.1" fill="#0000e8" opacity="0.7"/>
<rect x="273.4" y="576.4" width="1.1" height="1.1" fill="#0000e8" opacity="0.7"/>
<rect x="267.1" y="574.7" width="1.1" height="1.1" fill="#0000e8" opacity="0.7"/>
<rect x="266.5" y="573.6" width="1.1" height="1.1" fill="#0000e8" opacity="0.7"/>
<rect x="271.4" y="571.8" width="1.1" height="1.1" fill="#0000e8" opacity="0.7"/>
<rect x="274.7" y="570.7" width="1.1" height="1.1" fill="#0000e8" opacity="0.7"/>
<rect x="275.3" y="574.3" width="1.1" height="1.1" fill="#0000e8" opacity="0.7"/>
<rect x="271.2" y="568.5" width="1.1" height="1.1" fill="#0000e8" opacity="0.7"/>
<rect x="267.4" y="568.7" width="1.1" height="1.1" fill="#0000e8" opacity="0.7"/>
<rect x="269.8" y="570.7" width="1.1" height="1.1" fill="#0000e8" opacity="0.7"/>
<rect x="283.1" y="573.4" width="1.1" height="1.1" fill="#0000e8" opacity="0.7"/>
<rect x="273.8" y="567.4" width="1.1" height="1.1" fill="#0000e8" opacity="0.7"/>
<rect x="267.6" y="569.5" width="1.1" height="1.1" fill="#0000e8" opacity="0.7"/>
<rect x="271.4" y="566.7" width="1.1" height="1.1" fill="#0000e8" opacity="0.7"/>
<rect x="277.4" y="568.5" width="1.1" height="1.1" fill="#0000e8" opacity="0.7"/>
<rect x="275.1" y="561.5" width="1.1" height="1.1" fill="#0000e8" opacity="0.7"/>
<rect x="270.6" y="571.9" width="1.1" height="1.1" fill="#0000e8" opacity="0.7"/>
<rect x="271.4" y="573.2" width="1.1" height="1.1" fill="#0000e8" opacity="0.7"/>
<rect x="271.8" y="571.4" width="1.1" height="1.1" fill="#0000e8" opacity="0.7"/>
<rect x="262.7" y="567.9" width="1.1" height="1.1" fill="#0000e8" opacity="0.7"/>
<rect x="260.8" y="573.3" width="1.1" height="1.1" fill="#0000e8" opacity="0.7"/>
<rect x="271.9" y="570.0" width="1.1" height="1.1" fill="#0000e8" opacity="0.7"/>
<rect x="267.2" y="568.5" width="1.1" height="1.1" fill="#0000e8" opacity="0.7"/>
<rect x="278.4" y="577.7" width="1.1" height="1.1" fill="#0000e8" opacity="0.7"/>
<rect x="270.4" y="576.0" width="1.1" height="1.1" fill="#0000e8" opacity="0.7"/>
<rect x="263.9" y="563.1" width="1.1" height="1.1" fill="#0000e8" opacity="0.7"/>
<rect x="268.6" y="567.3" width="1.1" height="1.1" fill="#0000e8" opacity="0.7"/>
<rect x="268.3" y="571.6" width="1.1" height="1.1" fill="#0000e8" opacity="0.7"/>
<rect x="283.3" y="568.2" width="1.1" height="1.1" fill="#0000e8" opacity="0.7"/>
<rect x="270.8" y="571.9" width="1.1" height="1.1" fill="#0000e8" opacity="0.7"/>
<rect x="270.5" y="574.5" width="1.1" height="1.1" fill="#0000e8" opacity="0.7"/>
<rect x="278.1" y="565.8" width="1.1" height="1.1" fill="#0000e8" opacity="0.7"/>
<rect x="271.3" y="569.7" width="1.1" height="1.1" fill="#0000e8" opacity="0.7"/>
<rect x="272.1" y="564.7" width="1.1" height="1.1" fill="#0000e8" opacity="0.7"/>
<rect x="263.2" y="561.5" width="1.1" height="1.1" fill="#0000e8" opacity="0.7"/>
<rect x="272.8" y="571.6" width="1.1" height="1.1" fill="#0000e8" opacity="0.7"/>
<rect x="270.9" y="561.3" width="1.1" height="1.1" fill="#0000e8" opacity="0.7"/>
<rect x="269.0" y="567.8" width="1.1" height="1.1" fill="#0000e8" opacity="0.7"/>
<rect x="264.7" y="567.1" width="1.1" height="1.1" fill="#0000e8" opacity="0.7"/>
<rect x="273.5" y="573.0" width="1.1" height="1.1" fill="#0000e8" opacity="0.7"/>
<rect x="270.5" y="572.9" width="1.1" height="1.1" fill="#0000e8" opacity="0.7"/>
<rect x="268.1" y="571.1" width="1.1" height="1.1" fill="#0000e8" opacity="0.7"/>
<rect x="270.8" y="573.0" width="1.1" height="1.1" fill="#0000e8" opacity="0.7"/>
<rect x="270.3" y="570.2" width="1.1" height="1.1" fill="#0000e8" opacity="0.7"/>
<rect x="270.0" y="568.2" width="1.1" height="1.1" fill="#0000e8" opacity="0.7"/>
<rect x="280.0" y="572.9" width="1.1" height="1.1" fill="#0000e8" opacity="0.7"/>
<rect x="272.4" y="580.0" width="1.1" height="1.1" fill="#0000e8" opacity="0.7"/>
<rect x="276.5" y="564.6" width="1.1" height="1.1" fill="#0000e8" opacity="0.7"/>
<rect x="273.5" y="574.2" width="1.1" height="1.1" fill="#0000e8" opacity="0.7"/>
<rect x="278.5" y="576.1" width="1.1" height="1.1" fill="#0000e8" opacity="0.7"/>
<rect x="273.8" y="566.1" width="1.1" height="1.1" fill="#0000e8" opacity="0.7"/>
<rect x="266.9" y="571.9" width="1.1" height="1.1" fill="#0000e8" opacity="0.7"/>
<rect x="272.7" y="566.7" width="1.1" height="1.1" fill="#0000e8" opacity="0.7"/>
<rect x="269.0" y="569.2" width="1.1" height="1.1" fill="#0000e8" opacity="0.7"/>
<rect x="270.9" y="572.1" width="1.1" height="1.1" fill="#0000e8" opacity="0.7"/>
<rect x="269.4" y="565.9" width="1.1" height="1.1" fill="#0000e8" opacity="0.7"/>
<rect x="275.8" y="577.2" width="1.1" height="1.1" fill="#0000e8" opacity="0.7"/>
<rect x="270.2" y="574.9" width="1.1" height="1.1" fill="#0000e8" opacity="0.7"/>
<rect x="272.5" y="573.4" width="1.1" height="1.1" fill="#0000e8" opacity="0.7"/>
<rect x="272.6" y="567.7" width="1.1" height="1.1" fill="#0000e8" opacity="0.7"/>
<rect x="273.0" y="574.8" width="1.1" height="1.1" fill="#0000e8" opacity="0.7"/>
<rect x="266.8" y="578.7" width="1.1" height="1.1" fill="#0000e8" opacity="0.7"/>
<rect x="279.4" y="578.1" width="1.1" height="1.1" fill="#0000e8" opacity="0.7"/>
<rect x="279.0" y="573.8" width="1.1" height="1.1" fill="#0000e8" opacity="0.7"/>
<rect x="269.2" y="568.4" width="1.1" height="1.1" fill="#0000e8" opacity="0.7"/>
<rect x="267.2" y="571.3" width="1.1" height="1.1" fill="#0000e8" opacity="0.7"/>
<rect x="270.5" y="573.5" width="1.1" height="1.1" fill="#0000e8" opacity="0.7"/>
<rect x="262.1" y="580.0" width="1.1" height="1.1" fill="#0000e8" opacity="0.7"/>
<rect x="280.2" y="570.7" width="1.1" height="1.1" fill="#0000e8" opacity="0.7"/>
<rect x="273.4" y="572.7" width="1.1" height="1.1" fill="#0000e8" opacity="0.7"/>
<rect x="271.7" y="570.0" width="1.1" height="1.1" fill="#0000e8" opacity="0.7"/>
<rect x="270.1" y="567.5" width="1.1" height="1.1" fill="#0000e8" opacity="0.7"/>
<rect x="271.3" y="570.7" width="1.1" height="1.1" fill="#0000e8" opacity="0.7"/>
<rect x="271.9" y="567.4" width="1.1" height="1.1" fill="#0000e8" opacity="0.7"/>
<rect x="270.8" y="571.0" width="1.1" height="1.1" fill="#0000e8" opacity="0.7"/>
<rect x="273.1" y="566.5" width="1.1" height="1.1" fill="#0000e8" opacity="0.7"/>
<rect x="272.4" y="574.7" width="1.1" height="1.1" fill="#0000e8" opacity="0.7"/>
<rect x="273.1" y="569.3" width="1.1" height="1.1" fill="#0000e8" opacity="0.7"/>
<rect x="268.5" y="569.9" width="1.1" height="1.1" fill="#0000e8" opacity="0.7"/>
<rect x="273.7" y="577.0" width="1.1" height="1.1" fill="#0000e8" opacity="0.7"/>
<rect x="269.9" y="568.2" width="1.1" height="1.1" fill="#0000e8" opacity="0.7"/>
<rect x="272.2" y="571.6" width="1.1" height="1.1" fill="#0000e8" opacity="0.7"/>
<rect x="266.8" y="567.9" width="1.1" height="1.1" fill="#0000e8" opacity="0.7"/>
<rect x="270.2" y="573.5" width="1.1" height="1.1" fill="#0000e8" opacity="0.7"/>
<rect x="265.6" y="566.7" width="1.1" height="1.1" fill="#0000e8" opacity="0.7"/>
<rect x="272.7" y="565.9" width="1.1" height="1.1" fill="#0000e8" opacity="0.7"/>
<rect x="271.1" y="572.2" width="1.1" height="1.1" fill="#0000e8" opacity="0.7"/>
<rect x="270.1" y="566.7" width="1.1" height="1.1" fill="#0000e8" opacity="0.7"/>
<rect x="270.3" y="569.5" width="1.1" height="1.1" fill="#0000e8" opacity="0.7"/>
<rect x="272.0" y="567.4" width="1.1" height="1.1" fill="#0000e8" opacity="0.7"/>
<rect x="275.2" y="564.1" width="1.1" height="1.1" fill="#0000e8" opacity="0.7"/>
<rect x="269.9" y="570.8" width="1.1" height="1.1" fill="#0000e8" opacity="0.7"/>
<rect x="274.6" y="568.4" width="1.1" height="1.1" fill="#0000e8" opacity="0.7"/>
<rect x="301.9" y="576.0" width="0.9" height="0.9" fill="#f0b070" opacity="0.4"/>
<rect x="302.6" y="592.2" width="0.9" height="0.9" fill="#f0b070" opacity="0.4"/>
<rect x="298.6" y="583.1" width="0.9" height="0.9" fill="#f0b070" opacity="0.4"/>
<rect x="296.8" y="586.8" width="0.9" height="0.9" fill="#f0b070" opacity="0.4"/>
<rect x="304.2" y="580.2" width="0.9" height="0.9" fill="#f0b070" opacity="0.4"/>
<rect x="296.0" y="582.8" width="0.9" height="0.9" fill="#f0b070" opacity="0.4"/>
<rect x="304.0" y="587.6" width="0.9" height="0.9" fill="#f0b070" opacity="0.4"/>
<rect x="302.8" y="567.2" width="0.9" height="0.9" fill="#f0b070" opacity="0.4"/>
<rect x="297.6" y="590.0" width="0.9" height="0.9" fill="#f0b070" opacity="0.4"/>
<rect x="295.7" y="587.9" width="0.9" height="0.9" fill="#f0b070" opacity="0.4"/>
<rect x="306.6" y="585.3" width="0.9" height="0.9" fill="#f0b070" opacity="0.4"/>
<rect x="303.9" y="577.7" width="0.9" height="0.9" fill="#f0b070" opacity="0.4"/>
<rect x="295.7" y="579.3" width="0.9" height="0.9" fill="#f0b070" opacity="0.4"/>
<rect x="299.3" y="579.7" width="0.9" height="0.9" fill="#f0b070" opacity="0.4"/>
<rect x="302.4" y="579.0" width="0.9" height="0.9" fill="#f0b070" opacity="0.4"/>
<rect x="300.7" y="583.0" width="0.9" height="0.9" fill="#f0b070" opacity="0.4"/>
<rect x="300.0" y="592.9" width="0.9" height="0.9" fill="#f0b070" opacity="0.4"/>
<rect x="301.5" y="580.6" width="0.9" height="0.9" fill="#f0b070" opacity="0.4"/>
<rect x="299.3" y="575.6" width="0.9" height="0.9" fill="#f0b070" opacity="0.4"/>
<rect x="304.7" y="581.1" width="0.9" height="0.9" fill="#f0b070" opacity="0.4"/>
<rect x="296.2" y="576.1" width="0.9" height="0.9" fill="#f0b070" opacity="0.4"/>
<rect x="299.5" y="576.9" width="0.9" height="0.9" fill="#f0b070" opacity="0.4"/>
<rect x="303.8" y="571.9" width="0.9" height="0.9" fill="#f0b070" opacity="0.4"/>
<rect x="301.7" y="581.0" width="0.9" height="0.9" fill="#f0b070" opacity="0.4"/>
<rect x="295.9" y="580.3" width="0.9" height="0.9" fill="#f0b070" opacity="0.4"/>
<rect x="299.7" y="583.5" width="0.9" height="0.9" fill="#f0b070" opacity="0.4"/>
<rect x="298.4" y="582.1" width="0.9" height="0.9" fill="#f0b070" opacity="0.4"/>
<rect x="294.2" y="572.4" width="0.9" height="0.9" fill="#f0b070" opacity="0.4"/>
<rect x="302.7" y="587.3" width="0.9" height="0.9" fill="#f0b070" opacity="0.4"/>
<rect x="300.0" y="575.8" width="0.9" height="0.9" fill="#f0b070" opacity="0.4"/>
<rect x="303.8" y="565.4" width="0.9" height="0.9" fill="#f0b070" opacity="0.4"/>
<rect x="297.2" y="584.7" width="0.9" height="0.9" fill="#f0b070" opacity="0.4"/>
<rect x="302.3" y="572.8" width="0.9" height="0.9" fill="#f0b070" opacity="0.4"/>
<rect x="293.4" y="590.2" width="0.9" height="0.9" fill="#f0b070" opacity="0.4"/>
<rect x="300.5" y="573.7" width="0.9" height="0.9" fill="#f0b070" opacity="0.4"/>
<rect x="300.2" y="586.3" width="0.9" height="0.9" fill="#f0b070" opacity="0.4"/>
<rect x="290.9" y="587.8" width="0.9" height="0.9" fill="#f0b070" opacity="0.4"/>
<rect x="302.6" y="565.4" width="0.9" height="0.9" fill="#f0b070" opacity="0.4"/>
<rect x="302.7" y="567.5" width="0.9" height="0.9" fill="#f0b070" opacity="0.4"/>
<rect x="304.0" y="582.8" width="0.9" height="0.9" fill="#f0b070" opacity="0.4"/>
<rect x="307.9" y="575.7" width="0.9" height="0.9" fill="#f0b070" opacity="0.4"/>
<rect x="300.0" y="587.3" width="0.9" height="0.9" fill="#f0b070" opacity="0.4"/>
<rect x="297.8" y="575.1" width="0.9" height="0.9" fill="#f0b070" opacity="0.4"/>
<rect x="298.7" y="579.5" width="0.9" height="0.9" fill="#f0b070" opacity="0.4"/>
<rect x="296.2" y="583.4" width="0.9" height="0.9" fill="#f0b070" opacity="0.4"/>
<rect x="301.9" y="580.5" width="0.9" height="0.9" fill="#f0b070" opacity="0.4"/>
<rect x="306.0" y="577.7" width="0.9" height="0.9" fill="#f0b070" opacity="0.4"/>
<rect x="304.6" y="576.2" width="0.9" height="0.9" fill="#f0b070" opacity="0.4"/>
<rect x="302.6" y="566.5" width="0.9" height="0.9" fill="#f0b070" opacity="0.4"/>
<rect x="300.7" y="578.8" width="0.9" height="0.9" fill="#f0b070" opacity="0.4"/>
<rect x="298.3" y="575.7" width="0.9" height="0.9" fill="#f0b070" opacity="0.4"/>
<rect x="298.8" y="575.0" width="0.9" height="0.9" fill="#f0b070" opacity="0.4"/>
<rect x="292.3" y="575.8" width="0.9" height="0.9" fill="#f0b070" opacity="0.4"/>
<rect x="298.1" y="576.3" width="0.9" height="0.9" fill="#f0b070" opacity="0.4"/>
<rect x="296.3" y="579.1" width="0.9" height="0.9" fill="#f0b070" opacity="0.4"/>
<rect x="302.7" y="578.2" width="0.9" height="0.9" fill="#f0b070" opacity="0.4"/>
<rect x="298.3" y="589.5" width="0.9" height="0.9" fill="#f0b070" opacity="0.4"/>
<rect x="303.4" y="586.5" width="0.9" height="0.9" fill="#f0b070" opacity="0.4"/>
<rect x="304.0" y="577.7" width="0.9" height="0.9" fill="#f0b070" opacity="0.4"/>
<rect x="299.5" y="587.8" width="0.9" height="0.9" fill="#f0b070" opacity="0.4"/>
<rect x="298.1" y="579.2" width="0.9" height="0.9" fill="#f0b070" opacity="0.4"/>
<rect x="301.3" y="582.6" width="0.9" height="0.9" fill="#f0b070" opacity="0.4"/>
<rect x="299.0" y="586.9" width="0.9" height="0.9" fill="#f0b070" opacity="0.4"/>
<rect x="299.4" y="585.1" width="0.9" height="0.9" fill="#f0b070" opacity="0.4"/>
<rect x="303.7" y="584.6" width="0.9" height="0.9" fill="#f0b070" opacity="0.4"/>
<rect x="302.6" y="571.9" width="0.9" height="0.9" fill="#f0b070" opacity="0.4"/>
<rect x="295.4" y="575.7" width="0.9" height="0.9" fill="#f0b070" opacity="0.4"/>
<rect x="301.7" y="590.5" width="0.9" height="0.9" fill="#f0b070" opacity="0.4"/>
<rect x="295.7" y="582.1" width="0.9" height="0.9" fill="#f0b070" opacity="0.4"/>
<rect x="297.0" y="574.9" width="0.9" height="0.9" fill="#f0b070" opacity="0.4"/>
<rect x="299.0" y="584.8" width="0.9" height="0.9" fill="#f0b070" opacity="0.4"/>
<rect x="300.7" y="588.3" width="0.9" height="0.9" fill="#f0b070" opacity="0.4"/>
<rect x="296.6" y="586.2" width="0.9" height="0.9" fill="#f0b070" opacity="0.4"/>
<rect x="303.3" y="580.5" width="0.9" height="0.9" fill="#f0b070" opacity="0.4"/>
<rect x="301.7" y="576.1" width="0.9" height="0.9" fill="#f0b070" opacity="0.4"/>
<rect x="296.2" y="577.2" width="0.9" height="0.9" fill="#f0b070" opacity="0.4"/>
<rect x="297.8" y="600.2" width="0.9" height="0.9" fill="#f0b070" opacity="0.4"/>
<rect x="298.3" y="591.6" width="0.9" height="0.9" fill="#f0b070" opacity="0.4"/>
<rect x="300.7" y="582.2" width="0.9" height="0.9" fill="#f0b070" opacity="0.4"/>
<rect x="302.6" y="574.5" width="0.9" height="0.9" fill="#f0b070" opacity="0.4"/>
<rect x="303.2" y="582.6" width="0.9" height="0.9" fill="#f0b070" opacity="0.4"/>
<rect x="294.7" y="584.2" width="0.9" height="0.9" fill="#f0b070" opacity="0.4"/>
<rect x="301.9" y="583.2" width="0.9" height="0.9" fill="#f0b070" opacity="0.4"/>
<rect x="305.5" y="577.1" width="0.9" height="0.9" fill="#f0b070" opacity="0.4"/>
<rect x="301.8" y="585.2" width="0.9" height="0.9" fill="#f0b070" opacity="0.4"/>
<rect x="296.8" y="588.4" width="0.9" height="0.9" fill="#f0b070" opacity="0.4"/>
<rect x="294.9" y="570.9" width="0.9" height="0.9" fill="#f0b070" opacity="0.4"/>
<rect x="301.8" y="572.4" width="0.9" height="0.9" fill="#f0b070" opacity="0.4"/>
<rect x="299.6" y="568.5" width="0.9" height="0.9" fill="#f0b070" opacity="0.4"/>
<rect x="300.2" y="572.1" width="0.9" height="0.9" fill="#f0b070" opacity="0.4"/>
<rect x="301.2" y="569.3" width="0.9" height="0.9" fill="#f0b070" opacity="0.4"/>
<rect x="301.6" y="578.1" width="0.9" height="0.9" fill="#f0b070" opacity="0.4"/>
<rect x="300.2" y="579.5" width="0.9" height="0.9" fill="#f0b070" opacity="0.4"/>
<rect x="300.5" y="570.8" width="0.9" height="0.9" fill="#f0b070" opacity="0.4"/>
<rect x="291.0" y="580.2" width="0.9" height="0.9" fill="#f0b070" opacity="0.4"/>
<rect x="296.7" y="576.8" width="0.9" height="0.9" fill="#f0b070" opacity="0.4"/>
<rect x="301.5" y="566.1" width="0.9" height="0.9" fill="#f0b070" opacity="0.4"/>
<rect x="297.3" y="575.7" width="0.9" height="0.9" fill="#f0b070" opacity="0.4"/>
<rect x="296.3" y="582.3" width="0.9" height="0.9" fill="#f0b070" opacity="0.4"/>
<rect x="299.5" y="574.3" width="0.9" height="0.9" fill="#f0b070" opacity="0.4"/>
<rect x="296.6" y="585.7" width="0.9" height="0.9" fill="#f0b070" opacity="0.4"/>
<rect x="297.7" y="584.1" width="0.9" height="0.9" fill="#f0b070" opacity="0.4"/>
<rect x="301.6" y="566.7" width="0.9" height="0.9" fill="#f0b070" opacity="0.4"/>
<rect x="296.2" y="580.0" width="0.9" height="0.9" fill="#f0b070" opacity="0.4"/>
<rect x="301.2" y="585.5" width="0.9" height="0.9" fill="#f0b070" opacity="0.4"/>
<rect x="302.8" y="587.2" width="0.9" height="0.9" fill="#f0b070" opacity="0.4"/>
<rect x="298.7" y="578.5" width="0.9" height="0.9" fill="#f0b070" opacity="0.4"/>
<rect x="302.7" y="577.0" width="0.9" height="0.9" fill="#f0b070" opacity="0.4"/>
<rect x="303.7" y="568.9" width="0.9" height="0.9" fill="#f0b070" opacity="0.4"/>
<rect x="302.3" y="578.8" width="0.9" height="0.9" fill="#f0b070" opacity="0.4"/>
<rect x="293.7" y="572.7" width="1.0" height="1.0" fill="#e89040" opacity="0.55"/>
<rect x="303.3" y="569.1" width="1.0" height="1.0" fill="#e89040" opacity="0.55"/>
<rect x="297.5" y="567.2" width="1.0" height="1.0" fill="#e89040" opacity="0.55"/>
<rect x="308.3" y="565.9" width="1.0" height="1.0" fill="#e89040" opacity="0.55"/>
<rect x="287.4" y="565.7" width="1.0" height="1.0" fill="#e89040" opacity="0.55"/>
<rect x="297.0" y="568.5" width="1.0" height="1.0" fill="#e89040" opacity="0.55"/>
<rect x="300.3" y="565.5" width="1.0" height="1.0" fill="#e89040" opacity="0.55"/>
<rect x="298.5" y="573.0" width="1.0" height="1.0" fill="#e89040" opacity="0.55"/>
<rect x="295.9" y="576.4" width="1.0" height="1.0" fill="#e89040" opacity="0.55"/>
<rect x="299.7" y="564.8" width="1.0" height="1.0" fill="#e89040" opacity="0.55"/>
<rect x="305.3" y="571.1" width="1.0" height="1.0" fill="#e89040" opacity="0.55"/>
<rect x="297.6" y="571.8" width="1.0" height="1.0" fill="#e89040" opacity="0.55"/>
<rect x="294.3" y="565.5" width="1.0" height="1.0" fill="#e89040" opacity="0.55"/>
<rect x="306.7" y="568.0" width="1.0" height="1.0" fill="#e89040" opacity="0.55"/>
<rect x="296.5" y="571.0" width="1.0" height="1.0" fill="#e89040" opacity="0.55"/>
<rect x="305.9" y="568.9" width="1.0" height="1.0" fill="#e89040" opacity="0.55"/>
<rect x="294.4" y="567.7" width="1.0" height="1.0" fill="#e89040" opacity="0.55"/>
<rect x="303.8" y="571.9" width="1.0" height="1.0" fill="#e89040" opacity="0.55"/>
<rect x="309.8" y="568.0" width="1.0" height="1.0" fill="#e89040" opacity="0.55"/>
<rect x="300.0" y="568.9" width="1.0" height="1.0" fill="#e89040" opacity="0.55"/>
<rect x="307.1" y="565.4" width="1.0" height="1.0" fill="#e89040" opacity="0.55"/>
<rect x="307.5" y="558.6" width="1.0" height="1.0" fill="#e89040" opacity="0.55"/>
<rect x="305.3" y="566.4" width="1.0" height="1.0" fill="#e89040" opacity="0.55"/>
<rect x="303.9" y="571.6" width="1.0" height="1.0" fill="#e89040" opacity="0.55"/>
<rect x="297.0" y="568.7" width="1.0" height="1.0" fill="#e89040" opacity="0.55"/>
<rect x="303.0" y="571.2" width="1.0" height="1.0" fill="#e89040" opacity="0.55"/>
<rect x="298.1" y="565.2" width="1.0" height="1.0" fill="#e89040" opacity="0.55"/>
<rect x="293.9" y="578.6" width="1.0" height="1.0" fill="#e89040" opacity="0.55"/>
<rect x="301.2" y="568.2" width="1.0" height="1.0" fill="#e89040" opacity="0.55"/>
<rect x="295.7" y="572.5" width="1.0" height="1.0" fill="#e89040" opacity="0.55"/>
<rect x="299.8" y="574.5" width="1.0" height="1.0" fill="#e89040" opacity="0.55"/>
<rect x="305.6" y="569.1" width="1.0" height="1.0" fill="#e89040" opacity="0.55"/>
<rect x="305.1" y="564.8" width="1.0" height="1.0" fill="#e89040" opacity="0.55"/>
<rect x="300.6" y="566.8" width="1.0" height="1.0" fill="#e89040" opacity="0.55"/>
<rect x="296.7" y="569.1" width="1.0" height="1.0" fill="#e89040" opacity="0.55"/>
<rect x="301.4" y="574.5" width="1.0" height="1.0" fill="#e89040" opacity="0.55"/>
<rect x="287.9" y="566.4" width="1.0" height="1.0" fill="#e89040" opacity="0.55"/>
<rect x="298.1" y="567.2" width="1.0" height="1.0" fill="#e89040" opacity="0.55"/>
<rect x="303.8" y="570.5" width="1.0" height="1.0" fill="#e89040" opacity="0.55"/>
<rect x="302.1" y="567.2" width="1.0" height="1.0" fill="#e89040" opacity="0.55"/>
<rect x="304.1" y="570.4" width="1.0" height="1.0" fill="#e89040" opacity="0.55"/>
<rect x="294.3" y="568.0" width="1.0" height="1.0" fill="#e89040" opacity="0.55"/>
<rect x="296.2" y="564.5" width="1.0" height="1.0" fill="#e89040" opacity="0.55"/>
<rect x="302.6" y="569.2" width="1.0" height="1.0" fill="#e89040" opacity="0.55"/>
<rect x="302.5" y="565.7" width="1.0" height="1.0" fill="#e89040" opacity="0.55"/>
<rect x="301.2" y="565.5" width="1.0" height="1.0" fill="#e89040" opacity="0.55"/>
<rect x="303.6" y="571.6" width="1.0" height="1.0" fill="#e89040" opacity="0.55"/>
<rect x="309.4" y="573.8" width="1.0" height="1.0" fill="#e89040" opacity="0.55"/>
<rect x="298.6" y="567.3" width="1.0" height="1.0" fill="#e89040" opacity="0.55"/>
<rect x="298.1" y="570.2" width="1.0" height="1.0" fill="#e89040" opacity="0.55"/>
<rect x="310.3" y="571.7" width="1.0" height="1.0" fill="#e89040" opacity="0.55"/>
<rect x="292.8" y="564.2" width="1.0" height="1.0" fill="#e89040" opacity="0.55"/>
<rect x="296.6" y="571.0" width="1.0" height="1.0" fill="#e89040" opacity="0.55"/>
<rect x="302.0" y="570.1" width="1.0" height="1.0" fill="#e89040" opacity="0.55"/>
<rect x="309.5" y="565.9" width="1.0" height="1.0" fill="#e89040" opacity="0.55"/>
<rect x="298.4" y="576.5" width="1.0" height="1.0" fill="#e89040" opacity="0.55"/>
<rect x="303.4" y="566.0" width="1.0" height="1.0" fill="#e89040" opacity="0.55"/>
<rect x="293.5" y="563.2" width="1.0" height="1.0" fill="#e89040" opacity="0.55"/>
<rect x="291.7" y="569.3" width="1.0" height="1.0" fill="#e89040" opacity="0.55"/>
<rect x="302.2" y="572.8" width="1.0" height="1.0" fill="#e89040" opacity="0.55"/>
<rect x="301.4" y="566.4" width="1.0" height="1.0" fill="#e89040" opacity="0.55"/>
<rect x="298.9" y="576.2" width="1.0" height="1.0" fill="#e89040" opacity="0.55"/>
<rect x="294.6" y="569.7" width="1.0" height="1.0" fill="#e89040" opacity="0.55"/>
<rect x="302.1" y="571.3" width="1.0" height="1.0" fill="#e89040" opacity="0.55"/>
<rect x="300.3" y="570.9" width="1.0" height="1.0" fill="#e89040" opacity="0.55"/>
<rect x="305.4" y="568.4" width="1.0" height="1.0" fill="#e89040" opacity="0.55"/>
<rect x="300.1" y="568.3" width="1.0" height="1.0" fill="#e89040" opacity="0.55"/>
<rect x="297.9" y="568.2" width="1.0" height="1.0" fill="#e89040" opacity="0.55"/>
<rect x="300.7" y="569.8" width="1.0" height="1.0" fill="#e89040" opacity="0.55"/>
<rect x="307.6" y="574.0" width="1.0" height="1.0" fill="#e89040" opacity="0.55"/>
<rect x="300.1" y="571.3" width="1.0" height="1.0" fill="#e89040" opacity="0.55"/>
<rect x="303.2" y="571.9" width="1.0" height="1.0" fill="#e89040" opacity="0.55"/>
<rect x="302.1" y="570.0" width="1.0" height="1.0" fill="#e89040" opacity="0.55"/>
<rect x="300.0" y="566.0" width="1.0" height="1.0" fill="#e89040" opacity="0.55"/>
<rect x="305.7" y="573.9" width="1.0" height="1.0" fill="#e89040" opacity="0.55"/>
<rect x="304.8" y="570.7" width="1.0" height="1.0" fill="#e89040" opacity="0.55"/>
<rect x="303.1" y="567.3" width="1.0" height="1.0" fill="#e89040" opacity="0.55"/>
<rect x="294.5" y="571.5" width="1.0" height="1.0" fill="#e89040" opacity="0.55"/>
<rect x="302.8" y="566.9" width="1.0" height="1.0" fill="#e89040" opacity="0.55"/>
<rect x="297.9" y="573.9" width="1.0" height="1.0" fill="#e89040" opacity="0.55"/>
<rect x="294.4" y="575.7" width="1.0" height="1.0" fill="#e89040" opacity="0.55"/>
<rect x="304.7" y="578.0" width="1.0" height="1.0" fill="#e89040" opacity="0.55"/>
<rect x="299.0" y="568.9" width="1.0" height="1.0" fill="#e89040" opacity="0.55"/>
<rect x="299.9" y="569.6" width="1.0" height="1.0" fill="#e89040" opacity="0.55"/>
<rect x="301.1" y="566.2" width="1.0" height="1.0" fill="#e89040" opacity="0.55"/>
<rect x="306.5" y="566.0" width="1.0" height="1.0" fill="#e89040" opacity="0.55"/>
<rect x="299.9" y="571.1" width="1.0" height="1.0" fill="#e89040" opacity="0.55"/>
<rect x="299.7" y="567.3" width="1.0" height="1.0" fill="#e89040" opacity="0.55"/>
<rect x="303.5" y="567.6" width="1.0" height="1.0" fill="#e89040" opacity="0.55"/>
<rect x="296.8" y="568.6" width="1.0" height="1.0" fill="#e89040" opacity="0.55"/>
<rect x="301.1" y="575.5" width="1.0" height="1.0" fill="#e89040" opacity="0.55"/>
<rect x="297.4" y="572.7" width="1.0" height="1.0" fill="#e89040" opacity="0.55"/>
<rect x="298.7" y="567.6" width="1.0" height="1.0" fill="#e89040" opacity="0.55"/>
<rect x="300.6" y="570.0" width="1.0" height="1.0" fill="#e89040" opacity="0.55"/>
<rect x="305.6" y="575.6" width="1.0" height="1.0" fill="#e89040" opacity="0.55"/>
<rect x="299.3" y="574.1" width="1.0" height="1.0" fill="#e89040" opacity="0.55"/>
<rect x="306.2" y="572.1" width="1.0" height="1.0" fill="#e89040" opacity="0.55"/>
<rect x="298.8" y="572.4" width="1.0" height="1.0" fill="#e89040" opacity="0.55"/>
<rect x="301.5" y="570.3" width="1.0" height="1.0" fill="#e89040" opacity="0.55"/>
<rect x="300.9" y="571.5" width="1.0" height="1.0" fill="#e89040" opacity="0.55"/>
<rect x="306.7" y="573.3" width="1.0" height="1.0" fill="#e89040" opacity="0.55"/>
<rect x="301.1" y="572.8" width="1.0" height="1.0" fill="#e89040" opacity="0.55"/>
<rect x="308.1" y="565.4" width="1.0" height="1.0" fill="#e89040" opacity="0.55"/>
<rect x="308.2" y="563.9" width="1.0" height="1.0" fill="#e89040" opacity="0.55"/>
<rect x="304.3" y="571.3" width="1.0" height="1.0" fill="#e89040" opacity="0.55"/>
<rect x="308.2" y="570.1" width="1.0" height="1.0" fill="#e89040" opacity="0.55"/>
<rect x="300.0" y="566.0" width="1.0" height="1.0" fill="#e89040" opacity="0.55"/>
<rect x="296.7" y="571.9" width="1.0" height="1.0" fill="#e89040" opacity="0.55"/>
<rect x="301.0" y="566.3" width="1.0" height="1.0" fill="#e89040" opacity="0.55"/>
<rect x="304.2" y="566.1" width="1.0" height="1.0" fill="#e89040" opacity="0.55"/>
<rect x="300.2" y="567.3" width="1.0" height="1.0" fill="#e89040" opacity="0.55"/>
<rect x="308.9" y="574.6" width="1.0" height="1.0" fill="#e89040" opacity="0.55"/>
<rect x="301.3" y="563.0" width="1.0" height="1.0" fill="#e89040" opacity="0.55"/>
<rect x="303.2" y="569.3" width="1.0" height="1.0" fill="#e89040" opacity="0.55"/>
<rect x="303.5" y="571.1" width="1.0" height="1.0" fill="#e89040" opacity="0.55"/>
<rect x="300.7" y="572.5" width="1.0" height="1.0" fill="#e89040" opacity="0.55"/>
<rect x="305.5" y="569.8" width="1.0" height="1.0" fill="#e89040" opacity="0.55"/>
<rect x="300.3" y="567.2" width="1.0" height="1.0" fill="#e89040" opacity="0.55"/>
<rect x="304.9" y="564.8" width="1.0" height="1.0" fill="#e89040" opacity="0.55"/>
<rect x="301.3" y="566.2" width="1.0" height="1.0" fill="#e89040" opacity="0.55"/>
<rect x="296.1" y="571.3" width="1.0" height="1.0" fill="#e89040" opacity="0.55"/>
<rect x="301.9" y="569.1" width="1.0" height="1.0" fill="#e89040" opacity="0.55"/>
<rect x="305.7" y="563.3" width="1.0" height="1.0" fill="#e89040" opacity="0.55"/>
<rect x="301.7" y="570.1" width="1.0" height="1.0" fill="#e89040" opacity="0.55"/>
<rect x="305.5" y="564.9" width="1.0" height="1.0" fill="#e89040" opacity="0.55"/>
<rect x="305.0" y="569.8" width="1.0" height="1.0" fill="#e89040" opacity="0.55"/>
<rect x="307.7" y="573.3" width="1.0" height="1.0" fill="#e89040" opacity="0.55"/>
<rect x="304.3" y="577.2" width="1.0" height="1.0" fill="#e89040" opacity="0.55"/>
<rect x="302.0" y="567.4" width="1.0" height="1.0" fill="#e89040" opacity="0.55"/>
<rect x="300.6" y="565.4" width="1.0" height="1.0" fill="#e89040" opacity="0.55"/>
<rect x="301.9" y="561.9" width="1.0" height="1.0" fill="#e89040" opacity="0.55"/>
<rect x="301.6" y="570.6" width="1.0" height="1.0" fill="#e89040" opacity="0.55"/>
<rect x="306.2" y="567.7" width="1.0" height="1.0" fill="#e89040" opacity="0.55"/>
<rect x="307.8" y="566.5" width="1.0" height="1.0" fill="#e89040" opacity="0.55"/>
<rect x="301.4" y="561.9" width="1.0" height="1.0" fill="#e89040" opacity="0.55"/>
<rect x="298.8" y="566.0" width="1.0" height="1.0" fill="#e89040" opacity="0.55"/>
<rect x="308.1" y="571.0" width="1.0" height="1.0" fill="#e89040" opacity="0.55"/>
<rect x="297.5" y="571.0" width="1.0" height="1.0" fill="#e89040" opacity="0.55"/>
<rect x="304.0" y="568.1" width="1.0" height="1.0" fill="#e89040" opacity="0.55"/>
<rect x="302.1" y="567.9" width="1.0" height="1.0" fill="#e89040" opacity="0.55"/>
<rect x="299.8" y="562.4" width="1.0" height="1.0" fill="#e89040" opacity="0.55"/>
<rect x="301.6" y="573.8" width="1.0" height="1.0" fill="#e89040" opacity="0.55"/>
<rect x="307.9" y="568.0" width="1.0" height="1.0" fill="#e89040" opacity="0.55"/>
<rect x="298.9" y="568.2" width="1.0" height="1.0" fill="#e89040" opacity="0.55"/>
<rect x="305.7" y="570.3" width="1.0" height="1.0" fill="#e89040" opacity="0.55"/>
<rect x="299.6" y="570.3" width="1.0" height="1.0" fill="#e89040" opacity="0.55"/>
<rect x="301.2" y="570.9" width="1.0" height="1.0" fill="#e89040" opacity="0.55"/>
<rect x="300.3" y="563.5" width="1.0" height="1.0" fill="#e89040" opacity="0.55"/>
<rect x="302.2" y="571.8" width="1.0" height="1.0" fill="#e89040" opacity="0.55"/>
<rect x="297.5" y="568.6" width="1.0" height="1.0" fill="#e89040" opacity="0.55"/>
<rect x="305.6" y="567.6" width="1.0" height="1.0" fill="#e89040" opacity="0.55"/>
<rect x="299.3" y="576.5" width="1.0" height="1.0" fill="#e89040" opacity="0.55"/>
<rect x="305.4" y="572.8" width="1.0" height="1.0" fill="#e89040" opacity="0.55"/>
<rect x="298.1" y="575.0" width="1.0" height="1.0" fill="#e89040" opacity="0.55"/>
<rect x="295.2" y="567.1" width="1.0" height="1.0" fill="#e89040" opacity="0.55"/>
<rect x="305.0" y="573.9" width="1.0" height="1.0" fill="#e89040" opacity="0.55"/>
<rect x="298.2" y="566.5" width="1.0" height="1.0" fill="#e89040" opacity="0.55"/>
<rect x="302.8" y="561.9" width="1.0" height="1.0" fill="#e89040" opacity="0.55"/>
<rect x="304.6" y="571.1" width="1.0" height="1.0" fill="#e89040" opacity="0.55"/>
<rect x="300.2" y="571.0" width="1.0" height="1.0" fill="#e89040" opacity="0.55"/>
<line x1="240.3" y1="528.4" x2="330.7" y2="528.4" stroke="#666" stroke-width="0.9"/>
<line x1="240.3" y1="528.4" x2="240.3" y2="608" stroke="#111" stroke-width="1.1"/>
<line x1="330.7" y1="528.4" x2="330.7" y2="608" stroke="#222" stroke-width="1"/>
<line x1="240.3" y1="608" x2="330.7" y2="608" stroke="#111" stroke-width="1.6"/>
<line x1="247.5" y1="606" x2="247.5" y2="610" stroke="#222" stroke-width="0.8"/>
<line x1="262" y1="606" x2="262" y2="610" stroke="#222" stroke-width="0.8"/>
<line x1="268" y1="606" x2="268" y2="610" stroke="#222" stroke-width="0.8"/>
<line x1="272" y1="606" x2="272" y2="610" stroke="#222" stroke-width="0.8"/>
<line x1="285.2" y1="606" x2="285.2" y2="610" stroke="#222" stroke-width="0.8"/>
<line x1="297" y1="606" x2="297" y2="610" stroke="#222" stroke-width="0.8"/>
<line x1="302.7" y1="606" x2="302.7" y2="610" stroke="#222" stroke-width="0.8"/>
<line x1="307" y1="606" x2="307" y2="610" stroke="#222" stroke-width="0.8"/>
<line x1="316" y1="606" x2="316" y2="610" stroke="#222" stroke-width="0.8"/>
<line x1="319" y1="606" x2="319" y2="610" stroke="#222" stroke-width="0.8"/>
<line x1="238.5" y1="535.9" x2="240.3" y2="535.9" stroke="#444" stroke-width="0.6"/>
<line x1="238.5" y1="551" x2="240.3" y2="551" stroke="#444" stroke-width="0.6"/>
<line x1="238.5" y1="568.7" x2="240.3" y2="568.7" stroke="#444" stroke-width="0.6"/>
<line x1="238.5" y1="585.4" x2="240.3" y2="585.4" stroke="#444" stroke-width="0.6"/>
<line x1="238.5" y1="602" x2="240.3" y2="602" stroke="#444" stroke-width="0.6"/>
<text x="247.50" y="620.50" font-size="5" font-family="Liberation Sans, sans-serif" text-anchor="middle" fill="#777" >0</text>
<text x="267.70" y="620.50" font-size="5" font-family="Liberation Sans, sans-serif" text-anchor="middle" fill="#777" >10<tspan font-size='3.5' dy='-2'>2</tspan></text>
<text x="285.20" y="620.50" font-size="5" font-family="Liberation Sans, sans-serif" text-anchor="middle" fill="#777" >10<tspan font-size='3.5' dy='-2'>3</tspan></text>
<text x="302.70" y="620.50" font-size="5" font-family="Liberation Sans, sans-serif" text-anchor="middle" fill="#777" >10<tspan font-size='3.5' dy='-2'>4</tspan></text>
<text x="318.90" y="620.50" font-size="5" font-family="Liberation Sans, sans-serif" text-anchor="middle" fill="#777" >10<tspan font-size='3.5' dy='-2'>5</tspan></text>
<text x="236.20" y="535.90" font-size="5" font-family="Liberation Sans, sans-serif" text-anchor="middle" fill="#777" transform="rotate(-90 236.2 535.9)" >10<tspan font-size='3.5' dy='-2'>5</tspan></text>
<text x="236.20" y="551.00" font-size="5" font-family="Liberation Sans, sans-serif" text-anchor="middle" fill="#777" transform="rotate(-90 236.2 551)" >10<tspan font-size='3.5' dy='-2'>4</tspan></text>
<text x="236.20" y="568.70" font-size="5" font-family="Liberation Sans, sans-serif" text-anchor="middle" fill="#777" transform="rotate(-90 236.2 568.7)" >10<tspan font-size='3.5' dy='-2'>3</tspan></text>
<text x="236.20" y="585.40" font-size="5" font-family="Liberation Sans, sans-serif" text-anchor="middle" fill="#777" transform="rotate(-90 236.2 585.4)" >10<tspan font-size='3.5' dy='-2'>2</tspan></text>
<text x="236.20" y="602.00" font-size="5" font-family="Liberation Sans, sans-serif" text-anchor="middle" fill="#777" transform="rotate(-90 236.2 602)" >0</text>
<text x="283.20" y="628.80" font-size="7.4" font-family="Liberation Sans, sans-serif" text-anchor="middle" fill="#333" >CRLF2 :: AlexaFluor488</text>
<text x="227.60" y="572.00" font-size="6.7" font-family="Liberation Sans, sans-serif" text-anchor="middle" fill="#333" transform="rotate(-90 227.6 572.0)" >IL7R&#945; :: AlexaFluor647</text>
<rect x="238" y="635.6" width="11.5" height="4.8" fill="#0a0ae6"/>
<rect x="238" y="642" width="11.5" height="4.8" fill="#f07a20"/>
<text x="251.20" y="640.30" font-size="7.4" font-family="Liberation Sans, sans-serif" text-anchor="start" fill="#222" >DS 15 JAK2wt</text>
<text x="251.20" y="647.30" font-size="7.4" font-family="Liberation Sans, sans-serif" text-anchor="start" fill="#222" >DS 76 JAK2mut het</text>
</svg>
</body></html>
